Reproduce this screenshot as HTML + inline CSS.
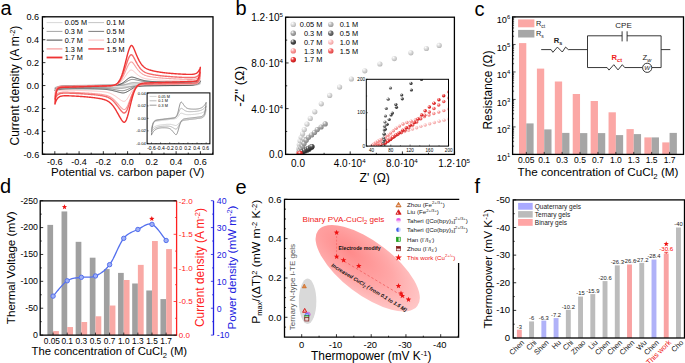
<!DOCTYPE html>
<html><head><meta charset="utf-8"><style>
html,body{margin:0;padding:0;background:#fff;overflow:hidden;}
svg{display:block;font-family:"Liberation Sans", sans-serif;}
</style></head><body>
<svg width="685" height="363" viewBox="0 0 685 363">
<defs><radialGradient id="sb0" cx="0.38" cy="0.35" r="0.65" fx="0.32" fy="0.28"><stop offset="0" stop-color="#fff"/><stop offset="0.45" stop-color="#dedede"/><stop offset="1" stop-color="#b8b8b8"/></radialGradient><radialGradient id="sb1" cx="0.38" cy="0.35" r="0.65" fx="0.32" fy="0.28"><stop offset="0" stop-color="#fff"/><stop offset="0.45" stop-color="#c4c4c4"/><stop offset="1" stop-color="#9a9a9a"/></radialGradient><radialGradient id="sb2" cx="0.38" cy="0.35" r="0.65" fx="0.32" fy="0.28"><stop offset="0" stop-color="#fff"/><stop offset="0.45" stop-color="#ababab"/><stop offset="1" stop-color="#858585"/></radialGradient><radialGradient id="sb3" cx="0.38" cy="0.35" r="0.65" fx="0.32" fy="0.28"><stop offset="0" stop-color="#fff"/><stop offset="0.45" stop-color="#777777"/><stop offset="1" stop-color="#4a4a4a"/></radialGradient><radialGradient id="sb4" cx="0.38" cy="0.35" r="0.65" fx="0.32" fy="0.28"><stop offset="0" stop-color="#fff"/><stop offset="0.45" stop-color="#575757"/><stop offset="1" stop-color="#2a2a2a"/></radialGradient><radialGradient id="sb5" cx="0.38" cy="0.35" r="0.65" fx="0.32" fy="0.28"><stop offset="0" stop-color="#fff"/><stop offset="0.45" stop-color="#fcc8c8"/><stop offset="1" stop-color="#f0a0a0"/></radialGradient><radialGradient id="sb6" cx="0.38" cy="0.35" r="0.65" fx="0.32" fy="0.28"><stop offset="0" stop-color="#fff"/><stop offset="0.45" stop-color="#f9a4a4"/><stop offset="1" stop-color="#ee7777"/></radialGradient><radialGradient id="sb7" cx="0.38" cy="0.35" r="0.65" fx="0.32" fy="0.28"><stop offset="0" stop-color="#fff"/><stop offset="0.45" stop-color="#f77070"/><stop offset="1" stop-color="#dd4444"/></radialGradient><radialGradient id="sb8" cx="0.38" cy="0.35" r="0.65" fx="0.32" fy="0.28"><stop offset="0" stop-color="#fff"/><stop offset="0.45" stop-color="#ee3a3a"/><stop offset="1" stop-color="#c01818"/></radialGradient><radialGradient id="ell" cx="0.3" cy="0.45" r="0.75"><stop offset="0" stop-color="#ff8a8a"/><stop offset="0.55" stop-color="#ffa8a8"/><stop offset="1" stop-color="#ffcccc"/></radialGradient></defs>
<rect width="685" height="363" fill="#fff"/>
<text x="0.5" y="14.5" font-size="20" text-anchor="start" fill="#000" >a</text>
<text x="235.5" y="14.9" font-size="20" text-anchor="start" fill="#000" >b</text>
<text x="474.5" y="15.5" font-size="20" text-anchor="start" fill="#000" >c</text>
<text x="0" y="192.6" font-size="20" text-anchor="start" fill="#000" >d</text>
<text x="235.5" y="193.6" font-size="20" text-anchor="start" fill="#000" >e</text>
<text x="474.5" y="192.8" font-size="20" text-anchor="start" fill="#000" >f</text>
<clipPath id="clipA"><rect x="42.2" y="16.8" width="171" height="137.5"/></clipPath>
<g clip-path="url(#clipA)">
<path d="M54.82,87.58 L55.43,87.32 L56.03,87.1 L56.64,86.93 L57.25,86.78 L57.85,86.66 L58.46,86.56 L59.07,86.48 L59.67,86.41 L60.28,86.36 L60.89,86.31 L61.49,86.27 L62.1,86.23 L62.7,86.21 L63.31,86.18 L63.92,86.16 L64.52,86.14 L65.13,86.13 L65.74,86.11 L66.34,86.1 L66.95,86.09 L67.56,86.08 L68.16,86.07 L68.77,86.06 L69.38,86.06 L69.98,86.05 L70.59,86.04 L71.2,86.04 L71.8,86.03 L72.41,86.02 L73.02,86.02 L73.62,86.01 L74.23,86.01 L74.83,86 L75.44,85.99 L76.05,85.99 L76.65,85.98 L77.26,85.98 L77.87,85.97 L78.47,85.97 L79.08,85.96 L79.69,85.96 L80.29,85.95 L80.9,85.95 L81.51,85.94 L82.11,85.94 L82.72,85.93 L83.33,85.93 L83.93,85.92 L84.54,85.92 L85.14,85.91 L85.75,85.91 L86.36,85.9 L86.96,85.9 L87.57,85.89 L88.18,85.89 L88.78,85.88 L89.39,85.87 L90,85.87 L90.6,85.86 L91.21,85.86 L91.82,85.85 L92.42,85.85 L93.03,85.84 L93.64,85.84 L94.24,85.83 L94.85,85.83 L95.46,85.82 L96.06,85.82 L96.67,85.81 L97.28,85.81 L97.88,85.8 L98.49,85.8 L99.09,85.79 L99.7,85.79 L100.31,85.78 L100.91,85.78 L101.52,85.77 L102.13,85.77 L102.73,85.76 L103.34,85.76 L103.95,85.75 L104.55,85.75 L105.16,85.74 L105.77,85.74 L106.37,85.73 L106.98,85.73 L107.59,85.72 L108.19,85.71 L108.8,85.71 L109.41,85.7 L110.01,85.7 L110.62,85.69 L111.22,85.69 L111.83,85.68 L112.44,85.68 L113.04,85.67 L113.65,85.67 L114.26,85.66 L114.86,85.65 L115.47,85.65 L116.08,85.64 L116.68,85.63 L117.29,85.62 L117.9,85.61 L118.5,85.6 L119.11,85.59 L119.72,85.57 L120.32,85.55 L120.93,85.53 L121.53,85.5 L122.14,85.48 L122.75,85.44 L123.35,85.41 L123.96,85.37 L124.57,85.32 L125.17,85.27 L125.78,85.22 L126.39,85.16 L126.99,85.1 L127.6,85.04 L128.21,84.98 L128.81,84.92 L129.42,84.86 L130.03,84.8 L130.63,84.75 L131.24,84.71 L131.85,84.67 L132.45,84.64 L133.06,84.62 L133.66,84.61 L134.27,84.6 L134.88,84.61 L135.48,84.61 L136.09,84.62 L136.7,84.63 L137.3,84.65 L137.91,84.66 L138.52,84.67 L139.12,84.69 L139.73,84.7 L140.34,84.72 L140.94,84.74 L141.55,84.75 L142.16,84.77 L142.76,84.78 L143.37,84.79 L143.98,84.81 L144.58,84.82 L145.19,84.83 L145.79,84.84 L146.4,84.84 L147.01,84.85 L147.61,84.86 L148.22,84.86 L148.83,84.87 L149.43,84.87 L150.04,84.87 L150.65,84.88 L151.25,84.88 L151.86,84.88 L152.47,84.88 L153.07,84.88 L153.68,84.88 L154.29,84.88 L154.89,84.88 L155.5,84.87 L156.11,84.87 L156.71,84.87 L157.32,84.87 L157.92,84.87 L158.53,84.86 L159.14,84.86 L159.74,84.86 L160.35,84.86 L160.96,84.85 L161.56,84.85 L162.17,84.85 L162.78,84.84 L163.38,84.84 L163.99,84.84 L164.6,84.83 L165.2,84.83 L165.81,84.83 L166.42,84.82 L167.02,84.82 L167.63,84.82 L168.24,84.81 L168.84,84.81 L169.45,84.8 L170.06,84.8 L170.66,84.79 L171.27,84.79 L171.87,84.79 L172.48,84.78 L173.09,84.78 L173.69,84.77 L174.3,84.76 L174.91,84.76 L175.51,84.75 L176.12,84.75 L176.73,84.74 L177.33,84.73 L177.94,84.73 L178.55,84.72 L179.15,84.71 L179.76,84.7 L180.37,84.7 L180.97,84.69 L181.58,84.68 L182.19,84.67 L182.79,84.66 L183.4,84.65 L184,84.64 L184.61,84.63 L185.22,84.62 L185.82,84.6 L186.43,84.59 L187.04,84.58 L187.64,84.56 L188.25,84.55 L188.86,84.53 L189.46,84.52 L190.07,84.5 L190.68,84.48 L191.28,84.46 L191.89,84.44 L192.5,84.41 L193.1,84.39 L193.71,84.37 L194.31,84.34 L194.92,84.31 L195.53,84.28 L196.13,84.25 L196.74,84.21 L197.35,84.17 L197.95,84.13 L198.56,84.09 L199.17,84.05 L199.77,84 L200.38,83.95 L200.38,83.95 L199.77,84.21 L199.17,84.43 L198.56,84.61 L197.95,84.76 L197.35,84.88 L196.74,84.99 L196.13,85.07 L195.53,85.14 L194.92,85.2 L194.31,85.25 L193.71,85.29 L193.1,85.32 L192.5,85.35 L191.89,85.37 L191.28,85.4 L190.68,85.41 L190.07,85.43 L189.46,85.44 L188.86,85.46 L188.25,85.47 L187.64,85.48 L187.04,85.49 L186.43,85.49 L185.82,85.5 L185.22,85.51 L184.61,85.52 L184,85.52 L183.4,85.53 L182.79,85.53 L182.19,85.54 L181.58,85.55 L180.97,85.55 L180.37,85.56 L179.76,85.56 L179.15,85.57 L178.55,85.57 L177.94,85.58 L177.33,85.58 L176.73,85.59 L176.12,85.6 L175.51,85.6 L174.91,85.61 L174.3,85.61 L173.69,85.62 L173.09,85.62 L172.48,85.63 L171.87,85.63 L171.27,85.64 L170.66,85.64 L170.06,85.65 L169.45,85.65 L168.84,85.66 L168.24,85.66 L167.63,85.67 L167.02,85.67 L166.42,85.68 L165.81,85.68 L165.2,85.69 L164.6,85.69 L163.99,85.7 L163.38,85.7 L162.78,85.71 L162.17,85.71 L161.56,85.72 L160.96,85.72 L160.35,85.73 L159.74,85.74 L159.14,85.74 L158.53,85.75 L157.92,85.75 L157.32,85.76 L156.71,85.76 L156.11,85.77 L155.5,85.77 L154.89,85.78 L154.29,85.78 L153.68,85.79 L153.07,85.79 L152.47,85.8 L151.86,85.8 L151.25,85.81 L150.65,85.81 L150.04,85.82 L149.43,85.82 L148.83,85.83 L148.22,85.83 L147.61,85.84 L147.01,85.84 L146.4,85.85 L145.79,85.85 L145.19,85.86 L144.58,85.87 L143.98,85.87 L143.37,85.88 L142.76,85.88 L142.16,85.89 L141.55,85.9 L140.94,85.91 L140.34,85.91 L139.73,85.92 L139.12,85.93 L138.52,85.94 L137.91,85.95 L137.3,85.97 L136.7,85.98 L136.09,86 L135.48,86.02 L134.88,86.04 L134.27,86.06 L133.66,86.09 L133.06,86.11 L132.45,86.14 L131.85,86.18 L131.24,86.21 L130.63,86.25 L130.03,86.29 L129.42,86.33 L128.81,86.38 L128.21,86.42 L127.6,86.47 L126.99,86.51 L126.39,86.56 L125.78,86.6 L125.17,86.65 L124.57,86.69 L123.96,86.73 L123.35,86.76 L122.75,86.79 L122.14,86.81 L121.53,86.83 L120.93,86.85 L120.32,86.85 L119.72,86.86 L119.11,86.86 L118.5,86.85 L117.9,86.84 L117.29,86.84 L116.68,86.83 L116.08,86.82 L115.47,86.81 L114.86,86.8 L114.26,86.78 L113.65,86.77 L113.04,86.76 L112.44,86.75 L111.83,86.74 L111.22,86.73 L110.62,86.72 L110.01,86.71 L109.41,86.7 L108.8,86.69 L108.19,86.68 L107.59,86.67 L106.98,86.67 L106.37,86.66 L105.77,86.66 L105.16,86.65 L104.55,86.65 L103.95,86.65 L103.34,86.64 L102.73,86.64 L102.13,86.64 L101.52,86.64 L100.91,86.64 L100.31,86.64 L99.7,86.64 L99.09,86.64 L98.49,86.64 L97.88,86.65 L97.28,86.65 L96.67,86.65 L96.06,86.65 L95.46,86.65 L94.85,86.66 L94.24,86.66 L93.64,86.66 L93.03,86.67 L92.42,86.67 L91.82,86.67 L91.21,86.68 L90.6,86.68 L90,86.68 L89.39,86.69 L88.78,86.69 L88.18,86.69 L87.57,86.7 L86.96,86.7 L86.36,86.71 L85.75,86.71 L85.14,86.72 L84.54,86.72 L83.93,86.73 L83.33,86.73 L82.72,86.74 L82.11,86.74 L81.51,86.75 L80.9,86.75 L80.29,86.76 L79.69,86.76 L79.08,86.77 L78.47,86.78 L77.87,86.78 L77.26,86.79 L76.65,86.8 L76.05,86.81 L75.44,86.81 L74.83,86.82 L74.23,86.83 L73.62,86.84 L73.02,86.85 L72.41,86.86 L71.8,86.87 L71.2,86.88 L70.59,86.89 L69.98,86.9 L69.38,86.92 L68.77,86.93 L68.16,86.94 L67.56,86.96 L66.95,86.97 L66.34,86.99 L65.74,87.01 L65.13,87.02 L64.52,87.04 L63.92,87.06 L63.31,87.08 L62.7,87.11 L62.1,87.13 L61.49,87.16 L60.89,87.18 L60.28,87.21 L59.67,87.24 L59.07,87.28 L58.46,87.31 L57.85,87.35 L57.25,87.39 L56.64,87.43 L56.03,87.48 L55.43,87.52 L54.82,87.58" fill="none" stroke="#d4d4d4" stroke-width="0.9" stroke-linejoin="round" />
<path d="M54.82,88.03 L55.43,87.65 L56.03,87.33 L56.64,87.07 L57.25,86.86 L57.85,86.68 L58.46,86.54 L59.07,86.42 L59.67,86.32 L60.28,86.24 L60.89,86.17 L61.49,86.11 L62.1,86.07 L62.7,86.03 L63.31,85.99 L63.92,85.97 L64.52,85.94 L65.13,85.92 L65.74,85.9 L66.34,85.89 L66.95,85.87 L67.56,85.86 L68.16,85.85 L68.77,85.84 L69.38,85.83 L69.98,85.82 L70.59,85.82 L71.2,85.81 L71.8,85.8 L72.41,85.8 L73.02,85.79 L73.62,85.78 L74.23,85.78 L74.83,85.77 L75.44,85.77 L76.05,85.76 L76.65,85.76 L77.26,85.75 L77.87,85.74 L78.47,85.74 L79.08,85.73 L79.69,85.73 L80.29,85.72 L80.9,85.72 L81.51,85.71 L82.11,85.71 L82.72,85.7 L83.33,85.7 L83.93,85.69 L84.54,85.69 L85.14,85.68 L85.75,85.68 L86.36,85.67 L86.96,85.67 L87.57,85.66 L88.18,85.66 L88.78,85.65 L89.39,85.65 L90,85.64 L90.6,85.64 L91.21,85.63 L91.82,85.63 L92.42,85.62 L93.03,85.61 L93.64,85.61 L94.24,85.6 L94.85,85.6 L95.46,85.59 L96.06,85.59 L96.67,85.58 L97.28,85.58 L97.88,85.57 L98.49,85.57 L99.09,85.56 L99.7,85.56 L100.31,85.55 L100.91,85.55 L101.52,85.54 L102.13,85.54 L102.73,85.53 L103.34,85.53 L103.95,85.52 L104.55,85.52 L105.16,85.51 L105.77,85.51 L106.37,85.5 L106.98,85.5 L107.59,85.49 L108.19,85.49 L108.8,85.48 L109.41,85.48 L110.01,85.47 L110.62,85.46 L111.22,85.46 L111.83,85.45 L112.44,85.45 L113.04,85.44 L113.65,85.44 L114.26,85.43 L114.86,85.42 L115.47,85.41 L116.08,85.4 L116.68,85.39 L117.29,85.38 L117.9,85.37 L118.5,85.35 L119.11,85.33 L119.72,85.31 L120.32,85.28 L120.93,85.24 L121.53,85.2 L122.14,85.16 L122.75,85.1 L123.35,85.04 L123.96,84.98 L124.57,84.9 L125.17,84.82 L125.78,84.73 L126.39,84.63 L126.99,84.53 L127.6,84.43 L128.21,84.32 L128.81,84.22 L129.42,84.12 L130.03,84.03 L130.63,83.94 L131.24,83.87 L131.85,83.81 L132.45,83.76 L133.06,83.73 L133.66,83.71 L134.27,83.71 L134.88,83.71 L135.48,83.73 L136.09,83.75 L136.7,83.77 L137.3,83.8 L137.91,83.83 L138.52,83.86 L139.12,83.89 L139.73,83.92 L140.34,83.95 L140.94,83.98 L141.55,84.01 L142.16,84.04 L142.76,84.07 L143.37,84.1 L143.98,84.12 L144.58,84.15 L145.19,84.17 L145.79,84.19 L146.4,84.21 L147.01,84.22 L147.61,84.24 L148.22,84.25 L148.83,84.26 L149.43,84.27 L150.04,84.28 L150.65,84.29 L151.25,84.3 L151.86,84.3 L152.47,84.31 L153.07,84.31 L153.68,84.31 L154.29,84.31 L154.89,84.32 L155.5,84.32 L156.11,84.32 L156.71,84.32 L157.32,84.32 L157.92,84.32 L158.53,84.32 L159.14,84.32 L159.74,84.32 L160.35,84.32 L160.96,84.32 L161.56,84.32 L162.17,84.32 L162.78,84.31 L163.38,84.31 L163.99,84.31 L164.6,84.31 L165.2,84.31 L165.81,84.31 L166.42,84.3 L167.02,84.3 L167.63,84.3 L168.24,84.3 L168.84,84.29 L169.45,84.29 L170.06,84.29 L170.66,84.28 L171.27,84.28 L171.87,84.27 L172.48,84.27 L173.09,84.27 L173.69,84.26 L174.3,84.26 L174.91,84.25 L175.51,84.25 L176.12,84.24 L176.73,84.23 L177.33,84.23 L177.94,84.22 L178.55,84.21 L179.15,84.21 L179.76,84.2 L180.37,84.19 L180.97,84.18 L181.58,84.17 L182.19,84.16 L182.79,84.15 L183.4,84.14 L184,84.13 L184.61,84.12 L185.22,84.1 L185.82,84.09 L186.43,84.07 L187.04,84.06 L187.64,84.04 L188.25,84.02 L188.86,84 L189.46,83.98 L190.07,83.96 L190.68,83.94 L191.28,83.92 L191.89,83.89 L192.5,83.86 L193.1,83.83 L193.71,83.8 L194.31,83.77 L194.92,83.73 L195.53,83.69 L196.13,83.65 L196.74,83.6 L197.35,83.56 L197.95,83.51 L198.56,83.45 L199.17,83.39 L199.77,83.33 L200.38,83.27 L200.38,83.27 L199.77,83.66 L199.17,83.98 L198.56,84.24 L197.95,84.46 L197.35,84.63 L196.74,84.78 L196.13,84.9 L195.53,85 L194.92,85.08 L194.31,85.15 L193.71,85.21 L193.1,85.26 L192.5,85.3 L191.89,85.33 L191.28,85.36 L190.68,85.39 L190.07,85.41 L189.46,85.42 L188.86,85.44 L188.25,85.45 L187.64,85.47 L187.04,85.48 L186.43,85.49 L185.82,85.5 L185.22,85.5 L184.61,85.51 L184,85.52 L183.4,85.53 L182.79,85.53 L182.19,85.54 L181.58,85.55 L180.97,85.55 L180.37,85.56 L179.76,85.56 L179.15,85.57 L178.55,85.57 L177.94,85.58 L177.33,85.58 L176.73,85.59 L176.12,85.6 L175.51,85.6 L174.91,85.61 L174.3,85.61 L173.69,85.62 L173.09,85.62 L172.48,85.63 L171.87,85.63 L171.27,85.64 L170.66,85.64 L170.06,85.65 L169.45,85.65 L168.84,85.66 L168.24,85.66 L167.63,85.67 L167.02,85.67 L166.42,85.68 L165.81,85.68 L165.2,85.69 L164.6,85.69 L163.99,85.7 L163.38,85.7 L162.78,85.71 L162.17,85.71 L161.56,85.72 L160.96,85.72 L160.35,85.73 L159.74,85.74 L159.14,85.74 L158.53,85.75 L157.92,85.75 L157.32,85.76 L156.71,85.76 L156.11,85.77 L155.5,85.77 L154.89,85.78 L154.29,85.78 L153.68,85.79 L153.07,85.79 L152.47,85.8 L151.86,85.8 L151.25,85.81 L150.65,85.81 L150.04,85.82 L149.43,85.82 L148.83,85.83 L148.22,85.83 L147.61,85.84 L147.01,85.84 L146.4,85.85 L145.79,85.86 L145.19,85.86 L144.58,85.87 L143.98,85.87 L143.37,85.88 L142.76,85.89 L142.16,85.9 L141.55,85.9 L140.94,85.91 L140.34,85.92 L139.73,85.94 L139.12,85.95 L138.52,85.97 L137.91,85.98 L137.3,86 L136.7,86.03 L136.09,86.05 L135.48,86.08 L134.88,86.12 L134.27,86.15 L133.66,86.2 L133.06,86.24 L132.45,86.29 L131.85,86.35 L131.24,86.41 L130.63,86.48 L130.03,86.55 L129.42,86.62 L128.81,86.7 L128.21,86.78 L127.6,86.86 L126.99,86.94 L126.39,87.02 L125.78,87.1 L125.17,87.18 L124.57,87.25 L123.96,87.31 L123.35,87.37 L122.75,87.42 L122.14,87.46 L121.53,87.49 L120.93,87.51 L120.32,87.52 L119.72,87.53 L119.11,87.52 L118.5,87.51 L117.9,87.49 L117.29,87.47 L116.68,87.45 L116.08,87.43 L115.47,87.4 L114.86,87.38 L114.26,87.35 L113.65,87.33 L113.04,87.3 L112.44,87.28 L111.83,87.25 L111.22,87.23 L110.62,87.2 L110.01,87.18 L109.41,87.16 L108.8,87.14 L108.19,87.12 L107.59,87.1 L106.98,87.08 L106.37,87.07 L105.77,87.05 L105.16,87.04 L104.55,87.03 L103.95,87.02 L103.34,87.01 L102.73,87 L102.13,87 L101.52,86.99 L100.91,86.99 L100.31,86.98 L99.7,86.98 L99.09,86.98 L98.49,86.97 L97.88,86.97 L97.28,86.97 L96.67,86.97 L96.06,86.97 L95.46,86.97 L94.85,86.97 L94.24,86.97 L93.64,86.97 L93.03,86.97 L92.42,86.97 L91.82,86.98 L91.21,86.98 L90.6,86.98 L90,86.98 L89.39,86.98 L88.78,86.99 L88.18,86.99 L87.57,86.99 L86.96,86.99 L86.36,87 L85.75,87 L85.14,87 L84.54,87.01 L83.93,87.01 L83.33,87.02 L82.72,87.02 L82.11,87.02 L81.51,87.03 L80.9,87.03 L80.29,87.04 L79.69,87.04 L79.08,87.05 L78.47,87.06 L77.87,87.06 L77.26,87.07 L76.65,87.08 L76.05,87.08 L75.44,87.09 L74.83,87.1 L74.23,87.11 L73.62,87.12 L73.02,87.13 L72.41,87.14 L71.8,87.15 L71.2,87.16 L70.59,87.18 L69.98,87.19 L69.38,87.2 L68.77,87.22 L68.16,87.23 L67.56,87.25 L66.95,87.27 L66.34,87.29 L65.74,87.31 L65.13,87.33 L64.52,87.35 L63.92,87.38 L63.31,87.41 L62.7,87.43 L62.1,87.46 L61.49,87.49 L60.89,87.53 L60.28,87.57 L59.67,87.6 L59.07,87.65 L58.46,87.69 L57.85,87.74 L57.25,87.79 L56.64,87.84 L56.03,87.9 L55.43,87.96 L54.82,88.03" fill="none" stroke="#bdbdbd" stroke-width="0.9" stroke-linejoin="round" />
<path d="M54.82,88.63 L55.43,88.14 L56.03,87.75 L56.64,87.42 L57.25,87.16 L57.85,86.94 L58.46,86.76 L59.07,86.61 L59.67,86.48 L60.28,86.38 L60.89,86.3 L61.49,86.23 L62.1,86.17 L62.7,86.12 L63.31,86.08 L63.92,86.05 L64.52,86.02 L65.13,86 L65.74,85.98 L66.34,85.96 L66.95,85.94 L67.56,85.93 L68.16,85.92 L68.77,85.91 L69.38,85.9 L69.98,85.89 L70.59,85.88 L71.2,85.87 L71.8,85.86 L72.41,85.86 L73.02,85.85 L73.62,85.84 L74.23,85.84 L74.83,85.83 L75.44,85.83 L76.05,85.82 L76.65,85.82 L77.26,85.81 L77.87,85.81 L78.47,85.8 L79.08,85.8 L79.69,85.79 L80.29,85.79 L80.9,85.78 L81.51,85.78 L82.11,85.77 L82.72,85.77 L83.33,85.76 L83.93,85.76 L84.54,85.75 L85.14,85.75 L85.75,85.74 L86.36,85.74 L86.96,85.73 L87.57,85.73 L88.18,85.72 L88.78,85.72 L89.39,85.71 L90,85.71 L90.6,85.7 L91.21,85.7 L91.82,85.69 L92.42,85.69 L93.03,85.68 L93.64,85.68 L94.24,85.67 L94.85,85.67 L95.46,85.66 L96.06,85.66 L96.67,85.65 L97.28,85.65 L97.88,85.64 L98.49,85.64 L99.09,85.63 L99.7,85.63 L100.31,85.62 L100.91,85.62 L101.52,85.61 L102.13,85.61 L102.73,85.6 L103.34,85.6 L103.95,85.59 L104.55,85.59 L105.16,85.58 L105.77,85.58 L106.37,85.57 L106.98,85.57 L107.59,85.56 L108.19,85.56 L108.8,85.55 L109.41,85.55 L110.01,85.54 L110.62,85.54 L111.22,85.53 L111.83,85.53 L112.44,85.52 L113.04,85.51 L113.65,85.51 L114.26,85.5 L114.86,85.49 L115.47,85.48 L116.08,85.47 L116.68,85.45 L117.29,85.44 L117.9,85.41 L118.5,85.39 L119.11,85.36 L119.72,85.32 L120.32,85.27 L120.93,85.21 L121.53,85.15 L122.14,85.07 L122.75,84.98 L123.35,84.88 L123.96,84.76 L124.57,84.63 L125.17,84.48 L125.78,84.33 L126.39,84.16 L126.99,83.99 L127.6,83.81 L128.21,83.63 L128.81,83.45 L129.42,83.27 L130.03,83.11 L130.63,82.96 L131.24,82.83 L131.85,82.73 L132.45,82.65 L133.06,82.6 L133.66,82.57 L134.27,82.57 L134.88,82.58 L135.48,82.61 L136.09,82.66 L136.7,82.7 L137.3,82.75 L137.91,82.81 L138.52,82.87 L139.12,82.92 L139.73,82.98 L140.34,83.04 L140.94,83.1 L141.55,83.16 L142.16,83.22 L142.76,83.27 L143.37,83.33 L143.98,83.38 L144.58,83.42 L145.19,83.47 L145.79,83.51 L146.4,83.55 L147.01,83.58 L147.61,83.61 L148.22,83.64 L148.83,83.66 L149.43,83.68 L150.04,83.7 L150.65,83.72 L151.25,83.74 L151.86,83.75 L152.47,83.76 L153.07,83.78 L153.68,83.79 L154.29,83.79 L154.89,83.8 L155.5,83.81 L156.11,83.82 L156.71,83.82 L157.32,83.83 L157.92,83.83 L158.53,83.84 L159.14,83.84 L159.74,83.84 L160.35,83.85 L160.96,83.85 L161.56,83.85 L162.17,83.85 L162.78,83.86 L163.38,83.86 L163.99,83.86 L164.6,83.86 L165.2,83.86 L165.81,83.86 L166.42,83.86 L167.02,83.86 L167.63,83.86 L168.24,83.86 L168.84,83.86 L169.45,83.86 L170.06,83.86 L170.66,83.86 L171.27,83.86 L171.87,83.86 L172.48,83.86 L173.09,83.85 L173.69,83.85 L174.3,83.85 L174.91,83.84 L175.51,83.84 L176.12,83.84 L176.73,83.83 L177.33,83.83 L177.94,83.82 L178.55,83.81 L179.15,83.81 L179.76,83.8 L180.37,83.79 L180.97,83.78 L181.58,83.77 L182.19,83.76 L182.79,83.75 L183.4,83.74 L184,83.73 L184.61,83.71 L185.22,83.7 L185.82,83.68 L186.43,83.66 L187.04,83.65 L187.64,83.63 L188.25,83.6 L188.86,83.58 L189.46,83.56 L190.07,83.53 L190.68,83.5 L191.28,83.47 L191.89,83.44 L192.5,83.4 L193.1,83.36 L193.71,83.32 L194.31,83.28 L194.92,83.23 L195.53,83.18 L196.13,83.13 L196.74,83.07 L197.35,83.01 L197.95,82.94 L198.56,82.87 L199.17,82.79 L199.77,82.71 L200.38,82.62 L200.38,82.62 L199.77,83.09 L199.17,83.47 L198.56,83.78 L197.95,84.04 L197.35,84.25 L196.74,84.42 L196.13,84.56 L195.53,84.68 L194.92,84.78 L194.31,84.86 L193.71,84.93 L193.1,84.98 L192.5,85.03 L191.89,85.07 L191.28,85.1 L190.68,85.13 L190.07,85.15 L189.46,85.17 L188.86,85.19 L188.25,85.21 L187.64,85.22 L187.04,85.23 L186.43,85.24 L185.82,85.25 L185.22,85.26 L184.61,85.27 L184,85.28 L183.4,85.28 L182.79,85.29 L182.19,85.3 L181.58,85.3 L180.97,85.31 L180.37,85.31 L179.76,85.32 L179.15,85.32 L178.55,85.33 L177.94,85.33 L177.33,85.34 L176.73,85.34 L176.12,85.35 L175.51,85.35 L174.91,85.36 L174.3,85.36 L173.69,85.37 L173.09,85.37 L172.48,85.38 L171.87,85.38 L171.27,85.39 L170.66,85.39 L170.06,85.4 L169.45,85.4 L168.84,85.41 L168.24,85.41 L167.63,85.42 L167.02,85.42 L166.42,85.43 L165.81,85.43 L165.2,85.44 L164.6,85.44 L163.99,85.45 L163.38,85.45 L162.78,85.46 L162.17,85.46 L161.56,85.47 L160.96,85.47 L160.35,85.48 L159.74,85.48 L159.14,85.49 L158.53,85.49 L157.92,85.5 L157.32,85.5 L156.71,85.51 L156.11,85.51 L155.5,85.52 L154.89,85.52 L154.29,85.53 L153.68,85.53 L153.07,85.54 L152.47,85.54 L151.86,85.55 L151.25,85.55 L150.65,85.56 L150.04,85.56 L149.43,85.57 L148.83,85.57 L148.22,85.58 L147.61,85.58 L147.01,85.59 L146.4,85.59 L145.79,85.6 L145.19,85.61 L144.58,85.61 L143.98,85.62 L143.37,85.63 L142.76,85.64 L142.16,85.65 L141.55,85.66 L140.94,85.67 L140.34,85.69 L139.73,85.71 L139.12,85.73 L138.52,85.75 L137.91,85.78 L137.3,85.81 L136.7,85.85 L136.09,85.9 L135.48,85.95 L134.88,86 L134.27,86.07 L133.66,86.15 L133.06,86.23 L132.45,86.32 L131.85,86.42 L131.24,86.53 L130.63,86.65 L130.03,86.78 L129.42,86.91 L128.81,87.05 L128.21,87.2 L127.6,87.35 L126.99,87.5 L126.39,87.64 L125.78,87.79 L125.17,87.93 L124.57,88.06 L123.96,88.18 L123.35,88.28 L122.75,88.37 L122.14,88.44 L121.53,88.5 L120.93,88.53 L120.32,88.55 L119.72,88.54 L119.11,88.52 L118.5,88.5 L117.9,88.46 L117.29,88.42 L116.68,88.37 L116.08,88.33 L115.47,88.28 L114.86,88.23 L114.26,88.17 L113.65,88.12 L113.04,88.07 L112.44,88.01 L111.83,87.96 L111.22,87.91 L110.62,87.86 L110.01,87.81 L109.41,87.76 L108.8,87.72 L108.19,87.68 L107.59,87.64 L106.98,87.6 L106.37,87.57 L105.77,87.54 L105.16,87.51 L104.55,87.49 L103.95,87.46 L103.34,87.44 L102.73,87.42 L102.13,87.4 L101.52,87.39 L100.91,87.37 L100.31,87.36 L99.7,87.35 L99.09,87.34 L98.49,87.33 L97.88,87.32 L97.28,87.32 L96.67,87.31 L96.06,87.31 L95.46,87.3 L94.85,87.3 L94.24,87.29 L93.64,87.29 L93.03,87.29 L92.42,87.28 L91.82,87.28 L91.21,87.28 L90.6,87.28 L90,87.28 L89.39,87.28 L88.78,87.27 L88.18,87.27 L87.57,87.27 L86.96,87.27 L86.36,87.27 L85.75,87.28 L85.14,87.28 L84.54,87.28 L83.93,87.28 L83.33,87.28 L82.72,87.28 L82.11,87.29 L81.51,87.29 L80.9,87.29 L80.29,87.3 L79.69,87.3 L79.08,87.31 L78.47,87.31 L77.87,87.32 L77.26,87.32 L76.65,87.33 L76.05,87.34 L75.44,87.35 L74.83,87.35 L74.23,87.36 L73.62,87.37 L73.02,87.39 L72.41,87.4 L71.8,87.41 L71.2,87.42 L70.59,87.44 L69.98,87.46 L69.38,87.47 L68.77,87.49 L68.16,87.51 L67.56,87.53 L66.95,87.56 L66.34,87.58 L65.74,87.61 L65.13,87.64 L64.52,87.67 L63.92,87.7 L63.31,87.74 L62.7,87.78 L62.1,87.82 L61.49,87.86 L60.89,87.91 L60.28,87.96 L59.67,88.02 L59.07,88.08 L58.46,88.14 L57.85,88.21 L57.25,88.28 L56.64,88.36 L56.03,88.44 L55.43,88.53 L54.82,88.63" fill="none" stroke="#9a9a9a" stroke-width="0.9" stroke-linejoin="round" />
<path d="M54.82,89.14 L55.43,88.5 L56.03,87.98 L56.64,87.55 L57.25,87.2 L57.85,86.91 L58.46,86.68 L59.07,86.48 L59.67,86.32 L60.28,86.19 L60.89,86.08 L61.49,85.99 L62.1,85.91 L62.7,85.85 L63.31,85.8 L63.92,85.75 L64.52,85.71 L65.13,85.68 L65.74,85.66 L66.34,85.63 L66.95,85.61 L67.56,85.6 L68.16,85.58 L68.77,85.57 L69.38,85.56 L69.98,85.54 L70.59,85.53 L71.2,85.53 L71.8,85.52 L72.41,85.51 L73.02,85.5 L73.62,85.49 L74.23,85.49 L74.83,85.48 L75.44,85.47 L76.05,85.47 L76.65,85.46 L77.26,85.45 L77.87,85.45 L78.47,85.44 L79.08,85.44 L79.69,85.43 L80.29,85.42 L80.9,85.42 L81.51,85.41 L82.11,85.41 L82.72,85.4 L83.33,85.4 L83.93,85.39 L84.54,85.38 L85.14,85.38 L85.75,85.37 L86.36,85.37 L86.96,85.36 L87.57,85.36 L88.18,85.35 L88.78,85.34 L89.39,85.34 L90,85.33 L90.6,85.33 L91.21,85.32 L91.82,85.32 L92.42,85.31 L93.03,85.3 L93.64,85.3 L94.24,85.29 L94.85,85.29 L95.46,85.28 L96.06,85.28 L96.67,85.27 L97.28,85.26 L97.88,85.26 L98.49,85.25 L99.09,85.25 L99.7,85.24 L100.31,85.23 L100.91,85.23 L101.52,85.22 L102.13,85.22 L102.73,85.21 L103.34,85.21 L103.95,85.2 L104.55,85.19 L105.16,85.19 L105.77,85.18 L106.37,85.18 L106.98,85.17 L107.59,85.17 L108.19,85.16 L108.8,85.15 L109.41,85.15 L110.01,85.14 L110.62,85.13 L111.22,85.13 L111.83,85.12 L112.44,85.11 L113.04,85.1 L113.65,85.08 L114.26,85.07 L114.86,85.04 L115.47,85.02 L116.08,84.99 L116.68,84.95 L117.29,84.9 L117.9,84.84 L118.5,84.77 L119.11,84.68 L119.72,84.57 L120.32,84.44 L120.93,84.29 L121.53,84.11 L122.14,83.91 L122.75,83.68 L123.35,83.42 L123.96,83.14 L124.57,82.83 L125.17,82.5 L125.78,82.16 L126.39,81.8 L126.99,81.44 L127.6,81.09 L128.21,80.75 L128.81,80.42 L129.42,80.13 L130.03,79.88 L130.63,79.68 L131.24,79.53 L131.85,79.43 L132.45,79.4 L133.06,79.41 L133.66,79.47 L134.27,79.55 L134.88,79.66 L135.48,79.77 L136.09,79.9 L136.7,80.03 L137.3,80.16 L137.91,80.3 L138.52,80.43 L139.12,80.57 L139.73,80.7 L140.34,80.83 L140.94,80.96 L141.55,81.08 L142.16,81.2 L142.76,81.31 L143.37,81.41 L143.98,81.51 L144.58,81.6 L145.19,81.68 L145.79,81.76 L146.4,81.83 L147.01,81.89 L147.61,81.95 L148.22,82 L148.83,82.05 L149.43,82.09 L150.04,82.13 L150.65,82.16 L151.25,82.19 L151.86,82.22 L152.47,82.24 L153.07,82.27 L153.68,82.29 L154.29,82.31 L154.89,82.33 L155.5,82.34 L156.11,82.36 L156.71,82.37 L157.32,82.39 L157.92,82.4 L158.53,82.41 L159.14,82.43 L159.74,82.44 L160.35,82.45 L160.96,82.46 L161.56,82.47 L162.17,82.48 L162.78,82.49 L163.38,82.49 L163.99,82.5 L164.6,82.51 L165.2,82.52 L165.81,82.52 L166.42,82.53 L167.02,82.54 L167.63,82.54 L168.24,82.55 L168.84,82.55 L169.45,82.56 L170.06,82.56 L170.66,82.57 L171.27,82.57 L171.87,82.57 L172.48,82.58 L173.09,82.58 L173.69,82.58 L174.3,82.58 L174.91,82.58 L175.51,82.58 L176.12,82.58 L176.73,82.58 L177.33,82.58 L177.94,82.58 L178.55,82.58 L179.15,82.57 L179.76,82.57 L180.37,82.57 L180.97,82.56 L181.58,82.56 L182.19,82.55 L182.79,82.54 L183.4,82.54 L184,82.53 L184.61,82.52 L185.22,82.51 L185.82,82.49 L186.43,82.48 L187.04,82.47 L187.64,82.45 L188.25,82.43 L188.86,82.42 L189.46,82.4 L190.07,82.37 L190.68,82.35 L191.28,82.32 L191.89,82.3 L192.5,82.27 L193.1,82.23 L193.71,82.2 L194.31,82.16 L194.92,82.12 L195.53,82.08 L196.13,82.03 L196.74,81.98 L197.35,81.92 L197.95,81.87 L198.56,81.8 L199.17,81.73 L199.77,81.66 L200.38,81.58 L200.38,81.58 L199.77,82.2 L199.17,82.71 L198.56,83.13 L197.95,83.47 L197.35,83.76 L196.74,83.99 L196.13,84.18 L195.53,84.34 L194.92,84.47 L194.31,84.57 L193.71,84.66 L193.1,84.74 L192.5,84.8 L191.89,84.85 L191.28,84.89 L190.68,84.93 L190.07,84.96 L189.46,84.99 L188.86,85.01 L188.25,85.03 L187.64,85.05 L187.04,85.06 L186.43,85.07 L185.82,85.09 L185.22,85.1 L184.61,85.11 L184,85.12 L183.4,85.12 L182.79,85.13 L182.19,85.14 L181.58,85.15 L180.97,85.15 L180.37,85.16 L179.76,85.17 L179.15,85.17 L178.55,85.18 L177.94,85.19 L177.33,85.19 L176.73,85.2 L176.12,85.21 L175.51,85.21 L174.91,85.22 L174.3,85.22 L173.69,85.23 L173.09,85.23 L172.48,85.24 L171.87,85.25 L171.27,85.25 L170.66,85.26 L170.06,85.26 L169.45,85.27 L168.84,85.27 L168.24,85.28 L167.63,85.29 L167.02,85.29 L166.42,85.3 L165.81,85.3 L165.2,85.31 L164.6,85.32 L163.99,85.32 L163.38,85.33 L162.78,85.33 L162.17,85.34 L161.56,85.34 L160.96,85.35 L160.35,85.36 L159.74,85.36 L159.14,85.37 L158.53,85.37 L157.92,85.38 L157.32,85.38 L156.71,85.39 L156.11,85.4 L155.5,85.4 L154.89,85.41 L154.29,85.41 L153.68,85.42 L153.07,85.42 L152.47,85.43 L151.86,85.44 L151.25,85.44 L150.65,85.45 L150.04,85.45 L149.43,85.46 L148.83,85.47 L148.22,85.47 L147.61,85.48 L147.01,85.49 L146.4,85.5 L145.79,85.51 L145.19,85.52 L144.58,85.53 L143.98,85.55 L143.37,85.57 L142.76,85.59 L142.16,85.61 L141.55,85.64 L140.94,85.68 L140.34,85.72 L139.73,85.77 L139.12,85.82 L138.52,85.89 L137.91,85.97 L137.3,86.06 L136.7,86.16 L136.09,86.28 L135.48,86.42 L134.88,86.57 L134.27,86.73 L133.66,86.92 L133.06,87.12 L132.45,87.33 L131.85,87.56 L131.24,87.81 L130.63,88.06 L130.03,88.32 L129.42,88.59 L128.81,88.86 L128.21,89.13 L127.6,89.39 L126.99,89.64 L126.39,89.88 L125.78,90.09 L125.17,90.28 L124.57,90.44 L123.96,90.57 L123.35,90.66 L122.75,90.71 L122.14,90.73 L121.53,90.7 L120.93,90.65 L120.32,90.58 L119.72,90.49 L119.11,90.39 L118.5,90.29 L117.9,90.19 L117.29,90.08 L116.68,89.97 L116.08,89.86 L115.47,89.75 L114.86,89.64 L114.26,89.53 L113.65,89.42 L113.04,89.31 L112.44,89.21 L111.83,89.12 L111.22,89.02 L110.62,88.93 L110.01,88.85 L109.41,88.77 L108.8,88.7 L108.19,88.63 L107.59,88.57 L106.98,88.51 L106.37,88.45 L105.77,88.4 L105.16,88.36 L104.55,88.32 L103.95,88.28 L103.34,88.25 L102.73,88.22 L102.13,88.19 L101.52,88.16 L100.91,88.14 L100.31,88.12 L99.7,88.1 L99.09,88.08 L98.49,88.07 L97.88,88.05 L97.28,88.04 L96.67,88.03 L96.06,88.01 L95.46,88 L94.85,87.99 L94.24,87.98 L93.64,87.97 L93.03,87.97 L92.42,87.96 L91.82,87.95 L91.21,87.94 L90.6,87.94 L90,87.93 L89.39,87.93 L88.78,87.92 L88.18,87.92 L87.57,87.91 L86.96,87.91 L86.36,87.9 L85.75,87.9 L85.14,87.9 L84.54,87.9 L83.93,87.89 L83.33,87.89 L82.72,87.89 L82.11,87.89 L81.51,87.89 L80.9,87.89 L80.29,87.89 L79.69,87.89 L79.08,87.89 L78.47,87.9 L77.87,87.9 L77.26,87.9 L76.65,87.91 L76.05,87.91 L75.44,87.92 L74.83,87.92 L74.23,87.93 L73.62,87.94 L73.02,87.95 L72.41,87.96 L71.8,87.97 L71.2,87.98 L70.59,87.99 L69.98,88.01 L69.38,88.02 L68.77,88.04 L68.16,88.06 L67.56,88.08 L66.95,88.1 L66.34,88.12 L65.74,88.15 L65.13,88.17 L64.52,88.2 L63.92,88.24 L63.31,88.27 L62.7,88.31 L62.1,88.35 L61.49,88.39 L60.89,88.44 L60.28,88.48 L59.67,88.54 L59.07,88.6 L58.46,88.66 L57.85,88.72 L57.25,88.79 L56.64,88.87 L56.03,88.95 L55.43,89.04 L54.82,89.14" fill="none" stroke="#6e6e6e" stroke-width="0.9" stroke-linejoin="round" />
<path d="M54.82,90.42 L55.43,89.6 L56.03,88.92 L56.64,88.37 L57.25,87.91 L57.85,87.54 L58.46,87.23 L59.07,86.98 L59.67,86.77 L60.28,86.6 L60.89,86.46 L61.49,86.34 L62.1,86.24 L62.7,86.16 L63.31,86.09 L63.92,86.04 L64.52,85.99 L65.13,85.95 L65.74,85.92 L66.34,85.89 L66.95,85.86 L67.56,85.84 L68.16,85.82 L68.77,85.8 L69.38,85.79 L69.98,85.78 L70.59,85.76 L71.2,85.75 L71.8,85.74 L72.41,85.73 L73.02,85.72 L73.62,85.71 L74.23,85.7 L74.83,85.7 L75.44,85.69 L76.05,85.68 L76.65,85.67 L77.26,85.67 L77.87,85.66 L78.47,85.65 L79.08,85.64 L79.69,85.64 L80.29,85.63 L80.9,85.62 L81.51,85.61 L82.11,85.61 L82.72,85.6 L83.33,85.59 L83.93,85.59 L84.54,85.58 L85.14,85.57 L85.75,85.57 L86.36,85.56 L86.96,85.55 L87.57,85.55 L88.18,85.54 L88.78,85.53 L89.39,85.52 L90,85.52 L90.6,85.51 L91.21,85.5 L91.82,85.5 L92.42,85.49 L93.03,85.48 L93.64,85.48 L94.24,85.47 L94.85,85.46 L95.46,85.46 L96.06,85.45 L96.67,85.44 L97.28,85.44 L97.88,85.43 L98.49,85.42 L99.09,85.41 L99.7,85.41 L100.31,85.4 L100.91,85.39 L101.52,85.39 L102.13,85.38 L102.73,85.37 L103.34,85.37 L103.95,85.36 L104.55,85.35 L105.16,85.35 L105.77,85.34 L106.37,85.33 L106.98,85.32 L107.59,85.32 L108.19,85.31 L108.8,85.3 L109.41,85.29 L110.01,85.28 L110.62,85.28 L111.22,85.26 L111.83,85.25 L112.44,85.24 L113.04,85.22 L113.65,85.2 L114.26,85.17 L114.86,85.13 L115.47,85.09 L116.08,85.03 L116.68,84.97 L117.29,84.88 L117.9,84.78 L118.5,84.65 L119.11,84.49 L119.72,84.31 L120.32,84.09 L120.93,83.84 L121.53,83.55 L122.14,83.22 L122.75,82.85 L123.35,82.44 L123.96,82 L124.57,81.53 L125.17,81.04 L125.78,80.52 L126.39,80.01 L126.99,79.5 L127.6,79.01 L128.21,78.55 L128.81,78.13 L129.42,77.77 L130.03,77.48 L130.63,77.27 L131.24,77.14 L131.85,77.1 L132.45,77.14 L133.06,77.24 L133.66,77.38 L134.27,77.55 L134.88,77.74 L135.48,77.94 L136.09,78.14 L136.7,78.35 L137.3,78.56 L137.91,78.76 L138.52,78.97 L139.12,79.17 L139.73,79.37 L140.34,79.55 L140.94,79.74 L141.55,79.91 L142.16,80.07 L142.76,80.23 L143.37,80.37 L143.98,80.51 L144.58,80.63 L145.19,80.74 L145.79,80.84 L146.4,80.94 L147.01,81.02 L147.61,81.1 L148.22,81.17 L148.83,81.23 L149.43,81.29 L150.04,81.34 L150.65,81.39 L151.25,81.43 L151.86,81.47 L152.47,81.5 L153.07,81.54 L153.68,81.57 L154.29,81.59 L154.89,81.62 L155.5,81.64 L156.11,81.67 L156.71,81.69 L157.32,81.71 L157.92,81.73 L158.53,81.75 L159.14,81.76 L159.74,81.78 L160.35,81.8 L160.96,81.81 L161.56,81.83 L162.17,81.84 L162.78,81.85 L163.38,81.87 L163.99,81.88 L164.6,81.89 L165.2,81.9 L165.81,81.91 L166.42,81.92 L167.02,81.93 L167.63,81.94 L168.24,81.95 L168.84,81.96 L169.45,81.96 L170.06,81.97 L170.66,81.98 L171.27,81.98 L171.87,81.99 L172.48,82 L173.09,82 L173.69,82 L174.3,82.01 L174.91,82.01 L175.51,82.01 L176.12,82.01 L176.73,82.01 L177.33,82.01 L177.94,82.01 L178.55,82.01 L179.15,82.01 L179.76,82.01 L180.37,82.01 L180.97,82 L181.58,82 L182.19,81.99 L182.79,81.98 L183.4,81.97 L184,81.96 L184.61,81.95 L185.22,81.94 L185.82,81.93 L186.43,81.91 L187.04,81.9 L187.64,81.88 L188.25,81.86 L188.86,81.84 L189.46,81.82 L190.07,81.79 L190.68,81.76 L191.28,81.74 L191.89,81.7 L192.5,81.67 L193.1,81.63 L193.71,81.59 L194.31,81.54 L194.92,81.5 L195.53,81.44 L196.13,81.39 L196.74,81.33 L197.35,81.26 L197.95,81.19 L198.56,81.12 L199.17,81.04 L199.77,80.95 L200.38,80.86 L200.38,80.86 L199.77,81.65 L199.17,82.3 L198.56,82.83 L197.95,83.27 L197.35,83.63 L196.74,83.92 L196.13,84.16 L195.53,84.37 L194.92,84.53 L194.31,84.67 L193.71,84.78 L193.1,84.87 L192.5,84.95 L191.89,85.02 L191.28,85.07 L190.68,85.12 L190.07,85.16 L189.46,85.19 L188.86,85.22 L188.25,85.24 L187.64,85.26 L187.04,85.28 L186.43,85.3 L185.82,85.31 L185.22,85.33 L184.61,85.34 L184,85.35 L183.4,85.36 L182.79,85.37 L182.19,85.38 L181.58,85.39 L180.97,85.4 L180.37,85.4 L179.76,85.41 L179.15,85.42 L178.55,85.43 L177.94,85.44 L177.33,85.44 L176.73,85.45 L176.12,85.46 L175.51,85.46 L174.91,85.47 L174.3,85.48 L173.69,85.49 L173.09,85.49 L172.48,85.5 L171.87,85.51 L171.27,85.51 L170.66,85.52 L170.06,85.53 L169.45,85.53 L168.84,85.54 L168.24,85.55 L167.63,85.55 L167.02,85.56 L166.42,85.57 L165.81,85.58 L165.2,85.58 L164.6,85.59 L163.99,85.6 L163.38,85.6 L162.78,85.61 L162.17,85.62 L161.56,85.62 L160.96,85.63 L160.35,85.64 L159.74,85.64 L159.14,85.65 L158.53,85.66 L157.92,85.66 L157.32,85.67 L156.71,85.68 L156.11,85.69 L155.5,85.69 L154.89,85.7 L154.29,85.71 L153.68,85.71 L153.07,85.72 L152.47,85.73 L151.86,85.73 L151.25,85.74 L150.65,85.75 L150.04,85.76 L149.43,85.77 L148.83,85.77 L148.22,85.78 L147.61,85.79 L147.01,85.81 L146.4,85.82 L145.79,85.83 L145.19,85.85 L144.58,85.87 L143.98,85.89 L143.37,85.92 L142.76,85.95 L142.16,85.99 L141.55,86.04 L140.94,86.1 L140.34,86.16 L139.73,86.24 L139.12,86.33 L138.52,86.44 L137.91,86.56 L137.3,86.71 L136.7,86.87 L136.09,87.05 L135.48,87.26 L134.88,87.48 L134.27,87.74 L133.66,88.01 L133.06,88.31 L132.45,88.62 L131.85,88.96 L131.24,89.31 L130.63,89.67 L130.03,90.04 L129.42,90.41 L128.81,90.78 L128.21,91.14 L127.6,91.48 L126.99,91.8 L126.39,92.1 L125.78,92.36 L125.17,92.58 L124.57,92.75 L123.96,92.87 L123.35,92.94 L122.75,92.94 L122.14,92.9 L121.53,92.81 L120.93,92.69 L120.32,92.55 L119.72,92.4 L119.11,92.25 L118.5,92.09 L117.9,91.93 L117.29,91.76 L116.68,91.6 L116.08,91.44 L115.47,91.28 L114.86,91.12 L114.26,90.97 L113.65,90.82 L113.04,90.68 L112.44,90.54 L111.83,90.4 L111.22,90.28 L110.62,90.16 L110.01,90.05 L109.41,89.94 L108.8,89.85 L108.19,89.76 L107.59,89.67 L106.98,89.6 L106.37,89.53 L105.77,89.46 L105.16,89.41 L104.55,89.35 L103.95,89.31 L103.34,89.26 L102.73,89.22 L102.13,89.19 L101.52,89.15 L100.91,89.12 L100.31,89.1 L99.7,89.07 L99.09,89.05 L98.49,89.03 L97.88,89.01 L97.28,88.99 L96.67,88.97 L96.06,88.96 L95.46,88.94 L94.85,88.93 L94.24,88.91 L93.64,88.9 L93.03,88.89 L92.42,88.88 L91.82,88.87 L91.21,88.86 L90.6,88.85 L90,88.84 L89.39,88.83 L88.78,88.83 L88.18,88.82 L87.57,88.81 L86.96,88.81 L86.36,88.8 L85.75,88.8 L85.14,88.79 L84.54,88.79 L83.93,88.79 L83.33,88.78 L82.72,88.78 L82.11,88.78 L81.51,88.78 L80.9,88.78 L80.29,88.78 L79.69,88.78 L79.08,88.78 L78.47,88.79 L77.87,88.79 L77.26,88.8 L76.65,88.8 L76.05,88.81 L75.44,88.81 L74.83,88.82 L74.23,88.83 L73.62,88.84 L73.02,88.85 L72.41,88.86 L71.8,88.88 L71.2,88.89 L70.59,88.91 L69.98,88.93 L69.38,88.95 L68.77,88.97 L68.16,89 L67.56,89.02 L66.95,89.05 L66.34,89.08 L65.74,89.11 L65.13,89.15 L64.52,89.19 L63.92,89.23 L63.31,89.27 L62.7,89.32 L62.1,89.38 L61.49,89.43 L60.89,89.49 L60.28,89.56 L59.67,89.63 L59.07,89.71 L58.46,89.79 L57.85,89.88 L57.25,89.97 L56.64,90.07 L56.03,90.18 L55.43,90.3 L54.82,90.42" fill="none" stroke="#4a4a4a" stroke-width="1" stroke-linejoin="round" />
<path d="M54.82,93.42 L55.43,90.51 L56.03,88.74 L56.64,87.66 L57.25,87.01 L57.85,86.61 L58.46,86.36 L59.07,86.21 L59.67,86.11 L60.28,86.05 L60.89,86.01 L61.49,85.98 L62.1,85.96 L62.7,85.95 L63.31,85.94 L63.92,85.93 L64.52,85.92 L65.13,85.91 L65.74,85.9 L66.34,85.89 L66.95,85.88 L67.56,85.88 L68.16,85.87 L68.77,85.86 L69.38,85.85 L69.98,85.84 L70.59,85.84 L71.2,85.83 L71.8,85.82 L72.41,85.81 L73.02,85.8 L73.62,85.8 L74.23,85.79 L74.83,85.78 L75.44,85.77 L76.05,85.77 L76.65,85.76 L77.26,85.75 L77.87,85.74 L78.47,85.73 L79.08,85.73 L79.69,85.72 L80.29,85.71 L80.9,85.7 L81.51,85.69 L82.11,85.69 L82.72,85.68 L83.33,85.67 L83.93,85.66 L84.54,85.66 L85.14,85.65 L85.75,85.64 L86.36,85.63 L86.96,85.62 L87.57,85.62 L88.18,85.61 L88.78,85.6 L89.39,85.59 L90,85.58 L90.6,85.58 L91.21,85.57 L91.82,85.56 L92.42,85.55 L93.03,85.55 L93.64,85.54 L94.24,85.53 L94.85,85.52 L95.46,85.51 L96.06,85.51 L96.67,85.5 L97.28,85.49 L97.88,85.48 L98.49,85.48 L99.09,85.47 L99.7,85.46 L100.31,85.45 L100.91,85.44 L101.52,85.44 L102.13,85.43 L102.73,85.42 L103.34,85.41 L103.95,85.4 L104.55,85.4 L105.16,85.39 L105.77,85.38 L106.37,85.37 L106.98,85.36 L107.59,85.35 L108.19,85.34 L108.8,85.33 L109.41,85.31 L110.01,85.29 L110.62,85.27 L111.22,85.25 L111.83,85.22 L112.44,85.18 L113.04,85.13 L113.65,85.07 L114.26,85 L114.86,84.9 L115.47,84.79 L116.08,84.64 L116.68,84.47 L117.29,84.26 L117.9,84 L118.5,83.7 L119.11,83.35 L119.72,82.94 L120.32,82.47 L120.93,81.93 L121.53,81.33 L122.14,80.66 L122.75,79.94 L123.35,79.15 L123.96,78.32 L124.57,77.44 L125.17,76.54 L125.78,75.62 L126.39,74.71 L126.99,73.82 L127.6,72.98 L128.21,72.19 L128.81,71.49 L129.42,70.9 L130.03,70.45 L130.63,70.16 L131.24,70.05 L131.85,70.13 L132.45,70.39 L133.06,70.79 L133.66,71.28 L134.27,71.83 L134.88,72.4 L135.48,72.96 L136.09,73.51 L136.7,74.05 L137.3,74.56 L137.91,75.05 L138.52,75.51 L139.12,75.95 L139.73,76.35 L140.34,76.71 L140.94,77.05 L141.55,77.35 L142.16,77.62 L142.76,77.87 L143.37,78.08 L143.98,78.27 L144.58,78.44 L145.19,78.59 L145.79,78.73 L146.4,78.85 L147.01,78.96 L147.61,79.05 L148.22,79.14 L148.83,79.23 L149.43,79.3 L150.04,79.37 L150.65,79.44 L151.25,79.5 L151.86,79.56 L152.47,79.62 L153.07,79.67 L153.68,79.72 L154.29,79.77 L154.89,79.82 L155.5,79.86 L156.11,79.91 L156.71,79.95 L157.32,79.99 L157.92,80.03 L158.53,80.06 L159.14,80.1 L159.74,80.14 L160.35,80.17 L160.96,80.2 L161.56,80.23 L162.17,80.26 L162.78,80.29 L163.38,80.32 L163.99,80.35 L164.6,80.38 L165.2,80.4 L165.81,80.43 L166.42,80.45 L167.02,80.48 L167.63,80.5 L168.24,80.52 L168.84,80.54 L169.45,80.57 L170.06,80.59 L170.66,80.61 L171.27,80.62 L171.87,80.64 L172.48,80.66 L173.09,80.68 L173.69,80.7 L174.3,80.71 L174.91,80.73 L175.51,80.74 L176.12,80.76 L176.73,80.78 L177.33,80.79 L177.94,80.8 L178.55,80.82 L179.15,80.83 L179.76,80.84 L180.37,80.86 L180.97,80.87 L181.58,80.88 L182.19,80.89 L182.79,80.9 L183.4,80.91 L184,80.92 L184.61,80.93 L185.22,80.94 L185.82,80.95 L186.43,80.96 L187.04,80.96 L187.64,80.97 L188.25,80.97 L188.86,80.98 L189.46,80.98 L190.07,80.98 L190.68,80.97 L191.28,80.96 L191.89,80.95 L192.5,80.94 L193.1,80.91 L193.71,80.88 L194.31,80.83 L194.92,80.77 L195.53,80.69 L196.13,80.59 L196.74,80.45 L197.35,80.28 L197.95,80.05 L198.56,79.75 L199.17,79.37 L199.77,78.89 L200.38,78.26 L200.38,78.26 L199.77,80.59 L199.17,82 L198.56,82.86 L197.95,83.39 L197.35,83.71 L196.74,83.91 L196.13,84.03 L195.53,84.11 L194.92,84.16 L194.31,84.2 L193.71,84.22 L193.1,84.24 L192.5,84.25 L191.89,84.26 L191.28,84.27 L190.68,84.28 L190.07,84.29 L189.46,84.3 L188.86,84.31 L188.25,84.31 L187.64,84.32 L187.04,84.33 L186.43,84.34 L185.82,84.35 L185.22,84.35 L184.61,84.36 L184,84.37 L183.4,84.38 L182.79,84.39 L182.19,84.39 L181.58,84.4 L180.97,84.41 L180.37,84.42 L179.76,84.42 L179.15,84.43 L178.55,84.44 L177.94,84.45 L177.33,84.46 L176.73,84.46 L176.12,84.47 L175.51,84.48 L174.91,84.49 L174.3,84.49 L173.69,84.5 L173.09,84.51 L172.48,84.52 L171.87,84.53 L171.27,84.53 L170.66,84.54 L170.06,84.55 L169.45,84.56 L168.84,84.57 L168.24,84.57 L167.63,84.58 L167.02,84.59 L166.42,84.6 L165.81,84.6 L165.2,84.61 L164.6,84.62 L163.99,84.63 L163.38,84.64 L162.78,84.64 L162.17,84.65 L161.56,84.66 L160.96,84.67 L160.35,84.68 L159.74,84.68 L159.14,84.69 L158.53,84.7 L157.92,84.71 L157.32,84.71 L156.71,84.72 L156.11,84.73 L155.5,84.74 L154.89,84.75 L154.29,84.75 L153.68,84.76 L153.07,84.77 L152.47,84.78 L151.86,84.79 L151.25,84.79 L150.65,84.8 L150.04,84.81 L149.43,84.82 L148.83,84.83 L148.22,84.83 L147.61,84.84 L147.01,84.85 L146.4,84.86 L145.79,84.87 L145.19,84.88 L144.58,84.9 L143.98,84.92 L143.37,84.94 L142.76,84.96 L142.16,85 L141.55,85.04 L140.94,85.1 L140.34,85.17 L139.73,85.27 L139.12,85.39 L138.52,85.54 L137.91,85.73 L137.3,85.96 L136.7,86.25 L136.09,86.59 L135.48,87.01 L134.88,87.49 L134.27,88.06 L133.66,88.71 L133.06,89.44 L132.45,90.26 L131.85,91.15 L131.24,92.11 L130.63,93.12 L130.03,94.17 L129.42,95.24 L128.81,96.3 L128.21,97.32 L127.6,98.28 L126.99,99.16 L126.39,99.91 L125.78,100.53 L125.17,100.98 L124.57,101.26 L123.96,101.37 L123.35,101.32 L122.75,101.15 L122.14,100.88 L121.53,100.54 L120.93,100.17 L120.32,99.76 L119.72,99.33 L119.11,98.89 L118.5,98.44 L117.9,97.99 L117.29,97.53 L116.68,97.08 L116.08,96.64 L115.47,96.21 L114.86,95.79 L114.26,95.39 L113.65,95.02 L113.04,94.66 L112.44,94.33 L111.83,94.02 L111.22,93.74 L110.62,93.48 L110.01,93.24 L109.41,93.03 L108.8,92.83 L108.19,92.66 L107.59,92.5 L106.98,92.36 L106.37,92.23 L105.77,92.12 L105.16,92.01 L104.55,91.92 L103.95,91.83 L103.34,91.76 L102.73,91.69 L102.13,91.62 L101.52,91.56 L100.91,91.51 L100.31,91.45 L99.7,91.4 L99.09,91.36 L98.49,91.31 L97.88,91.27 L97.28,91.23 L96.67,91.19 L96.06,91.15 L95.46,91.12 L94.85,91.08 L94.24,91.05 L93.64,91.02 L93.03,90.98 L92.42,90.95 L91.82,90.92 L91.21,90.89 L90.6,90.87 L90,90.84 L89.39,90.81 L88.78,90.78 L88.18,90.76 L87.57,90.73 L86.96,90.71 L86.36,90.68 L85.75,90.66 L85.14,90.64 L84.54,90.62 L83.93,90.6 L83.33,90.57 L82.72,90.55 L82.11,90.53 L81.51,90.51 L80.9,90.49 L80.29,90.48 L79.69,90.46 L79.08,90.44 L78.47,90.42 L77.87,90.41 L77.26,90.39 L76.65,90.37 L76.05,90.36 L75.44,90.34 L74.83,90.33 L74.23,90.31 L73.62,90.3 L73.02,90.28 L72.41,90.27 L71.8,90.26 L71.2,90.25 L70.59,90.23 L69.98,90.22 L69.38,90.21 L68.77,90.2 L68.16,90.19 L67.56,90.19 L66.95,90.18 L66.34,90.18 L65.74,90.17 L65.13,90.17 L64.52,90.18 L63.92,90.19 L63.31,90.2 L62.7,90.22 L62.1,90.25 L61.49,90.29 L60.89,90.34 L60.28,90.41 L59.67,90.51 L59.07,90.63 L58.46,90.79 L57.85,91 L57.25,91.27 L56.64,91.62 L56.03,92.08 L55.43,92.66 L54.82,93.42" fill="none" stroke="#fbc4c4" stroke-width="1" stroke-linejoin="round" />
<path d="M54.82,96.92 L55.43,92.8 L56.03,90.3 L56.64,88.77 L57.25,87.85 L57.85,87.28 L58.46,86.94 L59.07,86.72 L59.67,86.59 L60.28,86.51 L60.89,86.45 L61.49,86.41 L62.1,86.39 L62.7,86.37 L63.31,86.36 L63.92,86.34 L64.52,86.33 L65.13,86.32 L65.74,86.31 L66.34,86.3 L66.95,86.3 L67.56,86.29 L68.16,86.28 L68.77,86.27 L69.38,86.26 L69.98,86.25 L70.59,86.24 L71.2,86.23 L71.8,86.23 L72.41,86.22 L73.02,86.21 L73.62,86.2 L74.23,86.19 L74.83,86.18 L75.44,86.17 L76.05,86.17 L76.65,86.16 L77.26,86.15 L77.87,86.14 L78.47,86.13 L79.08,86.12 L79.69,86.11 L80.29,86.11 L80.9,86.1 L81.51,86.09 L82.11,86.08 L82.72,86.07 L83.33,86.06 L83.93,86.05 L84.54,86.05 L85.14,86.04 L85.75,86.03 L86.36,86.02 L86.96,86.01 L87.57,86 L88.18,85.99 L88.78,85.99 L89.39,85.98 L90,85.97 L90.6,85.96 L91.21,85.95 L91.82,85.94 L92.42,85.93 L93.03,85.93 L93.64,85.92 L94.24,85.91 L94.85,85.9 L95.46,85.89 L96.06,85.88 L96.67,85.87 L97.28,85.87 L97.88,85.86 L98.49,85.85 L99.09,85.84 L99.7,85.83 L100.31,85.82 L100.91,85.81 L101.52,85.8 L102.13,85.8 L102.73,85.79 L103.34,85.78 L103.95,85.77 L104.55,85.76 L105.16,85.75 L105.77,85.74 L106.37,85.73 L106.98,85.72 L107.59,85.71 L108.19,85.69 L108.8,85.68 L109.41,85.66 L110.01,85.64 L110.62,85.61 L111.22,85.57 L111.83,85.53 L112.44,85.47 L113.04,85.4 L113.65,85.31 L114.26,85.19 L114.86,85.05 L115.47,84.87 L116.08,84.65 L116.68,84.38 L117.29,84.06 L117.9,83.66 L118.5,83.2 L119.11,82.65 L119.72,82.01 L120.32,81.27 L120.93,80.44 L121.53,79.5 L122.14,78.47 L122.75,77.33 L123.35,76.11 L123.96,74.8 L124.57,73.44 L125.17,72.03 L125.78,70.6 L126.39,69.18 L126.99,67.8 L127.6,66.48 L128.21,65.25 L128.81,64.16 L129.42,63.25 L130.03,62.54 L130.63,62.08 L131.24,61.92 L131.85,62.05 L132.45,62.46 L133.06,63.09 L133.66,63.86 L134.27,64.72 L134.88,65.61 L135.48,66.5 L136.09,67.37 L136.7,68.21 L137.3,69.01 L137.91,69.78 L138.52,70.51 L139.12,71.19 L139.73,71.82 L140.34,72.4 L140.94,72.93 L141.55,73.4 L142.16,73.83 L142.76,74.21 L143.37,74.56 L143.98,74.86 L144.58,75.13 L145.19,75.37 L145.79,75.58 L146.4,75.77 L147.01,75.95 L147.61,76.1 L148.22,76.25 L148.83,76.38 L149.43,76.5 L150.04,76.61 L150.65,76.72 L151.25,76.82 L151.86,76.92 L152.47,77.01 L153.07,77.1 L153.68,77.18 L154.29,77.26 L154.89,77.34 L155.5,77.41 L156.11,77.49 L156.71,77.56 L157.32,77.62 L157.92,77.69 L158.53,77.75 L159.14,77.81 L159.74,77.87 L160.35,77.92 L160.96,77.98 L161.56,78.03 L162.17,78.08 L162.78,78.13 L163.38,78.18 L163.99,78.23 L164.6,78.28 L165.2,78.32 L165.81,78.36 L166.42,78.4 L167.02,78.45 L167.63,78.49 L168.24,78.52 L168.84,78.56 L169.45,78.6 L170.06,78.63 L170.66,78.67 L171.27,78.7 L171.87,78.74 L172.48,78.77 L173.09,78.8 L173.69,78.83 L174.3,78.86 L174.91,78.89 L175.51,78.92 L176.12,78.94 L176.73,78.97 L177.33,79 L177.94,79.02 L178.55,79.05 L179.15,79.07 L179.76,79.1 L180.37,79.12 L180.97,79.14 L181.58,79.16 L182.19,79.18 L182.79,79.2 L183.4,79.22 L184,79.24 L184.61,79.26 L185.22,79.28 L185.82,79.3 L186.43,79.31 L187.04,79.33 L187.64,79.34 L188.25,79.35 L188.86,79.36 L189.46,79.36 L190.07,79.36 L190.68,79.36 L191.28,79.35 L191.89,79.34 L192.5,79.31 L193.1,79.28 L193.71,79.23 L194.31,79.16 L194.92,79.06 L195.53,78.94 L196.13,78.78 L196.74,78.56 L197.35,78.28 L197.95,77.92 L198.56,77.46 L199.17,76.85 L199.77,76.08 L200.38,75.07 L200.38,75.07 L199.77,78.48 L199.17,80.55 L198.56,81.81 L197.95,82.58 L197.35,83.05 L196.74,83.34 L196.13,83.52 L195.53,83.63 L194.92,83.7 L194.31,83.74 L193.71,83.78 L193.1,83.8 L192.5,83.82 L191.89,83.83 L191.28,83.84 L190.68,83.85 L190.07,83.86 L189.46,83.87 L188.86,83.88 L188.25,83.89 L187.64,83.9 L187.04,83.91 L186.43,83.91 L185.82,83.92 L185.22,83.93 L184.61,83.94 L184,83.95 L183.4,83.96 L182.79,83.97 L182.19,83.97 L181.58,83.98 L180.97,83.99 L180.37,84 L179.76,84.01 L179.15,84.02 L178.55,84.03 L177.94,84.03 L177.33,84.04 L176.73,84.05 L176.12,84.06 L175.51,84.07 L174.91,84.08 L174.3,84.09 L173.69,84.09 L173.09,84.1 L172.48,84.11 L171.87,84.12 L171.27,84.13 L170.66,84.14 L170.06,84.15 L169.45,84.15 L168.84,84.16 L168.24,84.17 L167.63,84.18 L167.02,84.19 L166.42,84.2 L165.81,84.21 L165.2,84.22 L164.6,84.22 L163.99,84.23 L163.38,84.24 L162.78,84.25 L162.17,84.26 L161.56,84.27 L160.96,84.28 L160.35,84.28 L159.74,84.29 L159.14,84.3 L158.53,84.31 L157.92,84.32 L157.32,84.33 L156.71,84.34 L156.11,84.34 L155.5,84.35 L154.89,84.36 L154.29,84.37 L153.68,84.38 L153.07,84.39 L152.47,84.4 L151.86,84.4 L151.25,84.41 L150.65,84.42 L150.04,84.43 L149.43,84.44 L148.83,84.45 L148.22,84.46 L147.61,84.47 L147.01,84.48 L146.4,84.49 L145.79,84.51 L145.19,84.52 L144.58,84.55 L143.98,84.57 L143.37,84.61 L142.76,84.65 L142.16,84.71 L141.55,84.78 L140.94,84.88 L140.34,85 L139.73,85.16 L139.12,85.37 L138.52,85.63 L137.91,85.95 L137.3,86.35 L136.7,86.83 L136.09,87.42 L135.48,88.11 L134.88,88.92 L134.27,89.85 L133.66,90.91 L133.06,92.1 L132.45,93.41 L131.85,94.82 L131.24,96.33 L130.63,97.91 L130.03,99.52 L129.42,101.14 L128.81,102.73 L128.21,104.24 L127.6,105.63 L126.99,106.85 L126.39,107.88 L125.78,108.67 L125.17,109.2 L124.57,109.47 L123.96,109.48 L123.35,109.29 L122.75,108.94 L122.14,108.47 L121.53,107.92 L120.93,107.31 L120.32,106.67 L119.72,106 L119.11,105.32 L118.5,104.62 L117.9,103.92 L117.29,103.23 L116.68,102.54 L116.08,101.87 L115.47,101.23 L114.86,100.61 L114.26,100.02 L113.65,99.46 L113.04,98.93 L112.44,98.45 L111.83,98 L111.22,97.58 L110.62,97.2 L110.01,96.86 L109.41,96.55 L108.8,96.26 L108.19,96.01 L107.59,95.78 L106.98,95.57 L106.37,95.39 L105.77,95.22 L105.16,95.07 L104.55,94.93 L103.95,94.8 L103.34,94.69 L102.73,94.58 L102.13,94.49 L101.52,94.4 L100.91,94.31 L100.31,94.23 L99.7,94.15 L99.09,94.08 L98.49,94.01 L97.88,93.95 L97.28,93.88 L96.67,93.82 L96.06,93.76 L95.46,93.7 L94.85,93.65 L94.24,93.59 L93.64,93.54 L93.03,93.49 L92.42,93.44 L91.82,93.39 L91.21,93.35 L90.6,93.3 L90,93.25 L89.39,93.21 L88.78,93.17 L88.18,93.12 L87.57,93.08 L86.96,93.04 L86.36,93 L85.75,92.97 L85.14,92.93 L84.54,92.89 L83.93,92.86 L83.33,92.82 L82.72,92.79 L82.11,92.75 L81.51,92.72 L80.9,92.69 L80.29,92.66 L79.69,92.63 L79.08,92.6 L78.47,92.57 L77.87,92.54 L77.26,92.51 L76.65,92.48 L76.05,92.45 L75.44,92.43 L74.83,92.4 L74.23,92.38 L73.62,92.35 L73.02,92.33 L72.41,92.31 L71.8,92.28 L71.2,92.26 L70.59,92.24 L69.98,92.22 L69.38,92.2 L68.77,92.18 L68.16,92.17 L67.56,92.15 L66.95,92.14 L66.34,92.13 L65.74,92.12 L65.13,92.12 L64.52,92.12 L63.92,92.13 L63.31,92.15 L62.7,92.17 L62.1,92.21 L61.49,92.27 L60.89,92.34 L60.28,92.45 L59.67,92.59 L59.07,92.77 L58.46,93.01 L57.85,93.32 L57.25,93.72 L56.64,94.25 L56.03,94.92 L55.43,95.8 L54.82,96.92" fill="none" stroke="#f7a2a2" stroke-width="1.1" stroke-linejoin="round" />
<path d="M54.82,99.58 L55.43,94.59 L56.03,91.56 L56.64,89.71 L57.25,88.59 L57.85,87.91 L58.46,87.49 L59.07,87.23 L59.67,87.07 L60.28,86.96 L60.89,86.9 L61.49,86.85 L62.1,86.82 L62.7,86.8 L63.31,86.78 L63.92,86.76 L64.52,86.75 L65.13,86.73 L65.74,86.72 L66.34,86.71 L66.95,86.7 L67.56,86.68 L68.16,86.67 L68.77,86.66 L69.38,86.65 L69.98,86.64 L70.59,86.63 L71.2,86.62 L71.8,86.6 L72.41,86.59 L73.02,86.58 L73.62,86.57 L74.23,86.56 L74.83,86.55 L75.44,86.54 L76.05,86.52 L76.65,86.51 L77.26,86.5 L77.87,86.49 L78.47,86.48 L79.08,86.47 L79.69,86.46 L80.29,86.44 L80.9,86.43 L81.51,86.42 L82.11,86.41 L82.72,86.4 L83.33,86.39 L83.93,86.37 L84.54,86.36 L85.14,86.35 L85.75,86.34 L86.36,86.33 L86.96,86.32 L87.57,86.31 L88.18,86.29 L88.78,86.28 L89.39,86.27 L90,86.26 L90.6,86.25 L91.21,86.24 L91.82,86.23 L92.42,86.21 L93.03,86.2 L93.64,86.19 L94.24,86.18 L94.85,86.17 L95.46,86.16 L96.06,86.15 L96.67,86.13 L97.28,86.12 L97.88,86.11 L98.49,86.1 L99.09,86.09 L99.7,86.08 L100.31,86.07 L100.91,86.05 L101.52,86.04 L102.13,86.03 L102.73,86.02 L103.34,86.01 L103.95,86 L104.55,85.98 L105.16,85.97 L105.77,85.96 L106.37,85.94 L106.98,85.93 L107.59,85.91 L108.19,85.89 L108.8,85.87 L109.41,85.85 L110.01,85.82 L110.62,85.78 L111.22,85.73 L111.83,85.68 L112.44,85.6 L113.04,85.51 L113.65,85.39 L114.26,85.24 L114.86,85.05 L115.47,84.82 L116.08,84.53 L116.68,84.17 L117.29,83.74 L117.9,83.23 L118.5,82.61 L119.11,81.89 L119.72,81.06 L120.32,80.09 L120.93,79 L121.53,77.77 L122.14,76.41 L122.75,74.92 L123.35,73.32 L123.96,71.61 L124.57,69.82 L125.17,67.97 L125.78,66.1 L126.39,64.23 L126.99,62.42 L127.6,60.68 L128.21,59.08 L128.81,57.65 L129.42,56.45 L130.03,55.52 L130.63,54.92 L131.24,54.7 L131.85,54.88 L132.45,55.41 L133.06,56.24 L133.66,57.26 L134.27,58.38 L134.88,59.55 L135.48,60.71 L136.09,61.85 L136.7,62.95 L137.3,64.01 L137.91,65.02 L138.52,65.97 L139.12,66.86 L139.73,67.69 L140.34,68.45 L140.94,69.14 L141.55,69.76 L142.16,70.33 L142.76,70.83 L143.37,71.28 L143.98,71.67 L144.58,72.03 L145.19,72.34 L145.79,72.62 L146.4,72.87 L147.01,73.1 L147.61,73.3 L148.22,73.49 L148.83,73.66 L149.43,73.83 L150.04,73.97 L150.65,74.12 L151.25,74.25 L151.86,74.37 L152.47,74.49 L153.07,74.61 L153.68,74.72 L154.29,74.82 L154.89,74.92 L155.5,75.02 L156.11,75.12 L156.71,75.21 L157.32,75.29 L157.92,75.38 L158.53,75.46 L159.14,75.54 L159.74,75.62 L160.35,75.69 L160.96,75.76 L161.56,75.83 L162.17,75.9 L162.78,75.96 L163.38,76.03 L163.99,76.09 L164.6,76.15 L165.2,76.21 L165.81,76.26 L166.42,76.32 L167.02,76.37 L167.63,76.42 L168.24,76.47 L168.84,76.52 L169.45,76.57 L170.06,76.62 L170.66,76.66 L171.27,76.71 L171.87,76.75 L172.48,76.79 L173.09,76.83 L173.69,76.87 L174.3,76.91 L174.91,76.95 L175.51,76.99 L176.12,77.02 L176.73,77.06 L177.33,77.09 L177.94,77.12 L178.55,77.16 L179.15,77.19 L179.76,77.22 L180.37,77.25 L180.97,77.28 L181.58,77.31 L182.19,77.33 L182.79,77.36 L183.4,77.39 L184,77.41 L184.61,77.44 L185.22,77.46 L185.82,77.48 L186.43,77.5 L187.04,77.52 L187.64,77.54 L188.25,77.55 L188.86,77.56 L189.46,77.57 L190.07,77.57 L190.68,77.57 L191.28,77.56 L191.89,77.54 L192.5,77.51 L193.1,77.47 L193.71,77.4 L194.31,77.32 L194.92,77.2 L195.53,77.05 L196.13,76.84 L196.74,76.58 L197.35,76.23 L197.95,75.78 L198.56,75.2 L199.17,74.44 L199.77,73.47 L200.38,72.22 L200.38,72.22 L199.77,76.48 L199.17,79.08 L198.56,80.65 L197.95,81.61 L197.35,82.2 L196.74,82.56 L196.13,82.78 L195.53,82.92 L194.92,83.01 L194.31,83.07 L193.71,83.11 L193.1,83.14 L192.5,83.16 L191.89,83.18 L191.28,83.2 L190.68,83.21 L190.07,83.22 L189.46,83.23 L188.86,83.25 L188.25,83.26 L187.64,83.27 L187.04,83.28 L186.43,83.29 L185.82,83.3 L185.22,83.32 L184.61,83.33 L184,83.34 L183.4,83.35 L182.79,83.36 L182.19,83.37 L181.58,83.38 L180.97,83.4 L180.37,83.41 L179.76,83.42 L179.15,83.43 L178.55,83.44 L177.94,83.45 L177.33,83.46 L176.73,83.48 L176.12,83.49 L175.51,83.5 L174.91,83.51 L174.3,83.52 L173.69,83.53 L173.09,83.54 L172.48,83.56 L171.87,83.57 L171.27,83.58 L170.66,83.59 L170.06,83.6 L169.45,83.61 L168.84,83.63 L168.24,83.64 L167.63,83.65 L167.02,83.66 L166.42,83.67 L165.81,83.68 L165.2,83.69 L164.6,83.71 L163.99,83.72 L163.38,83.73 L162.78,83.74 L162.17,83.75 L161.56,83.76 L160.96,83.77 L160.35,83.79 L159.74,83.8 L159.14,83.81 L158.53,83.82 L157.92,83.83 L157.32,83.84 L156.71,83.85 L156.11,83.87 L155.5,83.88 L154.89,83.89 L154.29,83.9 L153.68,83.91 L153.07,83.92 L152.47,83.93 L151.86,83.95 L151.25,83.96 L150.65,83.97 L150.04,83.98 L149.43,83.99 L148.83,84.01 L148.22,84.02 L147.61,84.03 L147.01,84.05 L146.4,84.06 L145.79,84.08 L145.19,84.1 L144.58,84.13 L143.98,84.16 L143.37,84.2 L142.76,84.25 L142.16,84.32 L141.55,84.41 L140.94,84.52 L140.34,84.67 L139.73,84.85 L139.12,85.09 L138.52,85.39 L137.91,85.77 L137.3,86.23 L136.7,86.79 L136.09,87.47 L135.48,88.27 L134.88,89.21 L134.27,90.29 L133.66,91.52 L133.06,92.89 L132.45,94.4 L131.85,96.04 L131.24,97.79 L130.63,99.61 L130.03,101.48 L129.42,103.35 L128.81,105.19 L128.21,106.93 L127.6,108.54 L126.99,109.96 L126.39,111.15 L125.78,112.07 L125.17,112.68 L124.57,112.99 L123.96,113.02 L123.35,112.8 L122.75,112.39 L122.14,111.84 L121.53,111.21 L120.93,110.51 L120.32,109.77 L119.72,109 L119.11,108.21 L118.5,107.41 L117.9,106.6 L117.29,105.8 L116.68,105.01 L116.08,104.24 L115.47,103.49 L114.86,102.77 L114.26,102.09 L113.65,101.45 L113.04,100.84 L112.44,100.28 L111.83,99.76 L111.22,99.29 L110.62,98.85 L110.01,98.45 L109.41,98.09 L108.8,97.77 L108.19,97.47 L107.59,97.21 L106.98,96.97 L106.37,96.76 L105.77,96.57 L105.16,96.39 L104.55,96.24 L103.95,96.09 L103.34,95.96 L102.73,95.84 L102.13,95.73 L101.52,95.62 L100.91,95.53 L100.31,95.44 L99.7,95.35 L99.09,95.27 L98.49,95.19 L97.88,95.11 L97.28,95.04 L96.67,94.97 L96.06,94.91 L95.46,94.84 L94.85,94.78 L94.24,94.72 L93.64,94.66 L93.03,94.6 L92.42,94.54 L91.82,94.49 L91.21,94.44 L90.6,94.38 L90,94.33 L89.39,94.28 L88.78,94.24 L88.18,94.19 L87.57,94.14 L86.96,94.1 L86.36,94.05 L85.75,94.01 L85.14,93.97 L84.54,93.93 L83.93,93.89 L83.33,93.85 L82.72,93.81 L82.11,93.77 L81.51,93.74 L80.9,93.7 L80.29,93.67 L79.69,93.63 L79.08,93.6 L78.47,93.57 L77.87,93.54 L77.26,93.5 L76.65,93.47 L76.05,93.44 L75.44,93.42 L74.83,93.39 L74.23,93.36 L73.62,93.33 L73.02,93.31 L72.41,93.28 L71.8,93.26 L71.2,93.23 L70.59,93.21 L69.98,93.19 L69.38,93.17 L68.77,93.15 L68.16,93.13 L67.56,93.12 L66.95,93.11 L66.34,93.1 L65.74,93.1 L65.13,93.1 L64.52,93.1 L63.92,93.12 L63.31,93.15 L62.7,93.19 L62.1,93.24 L61.49,93.32 L60.89,93.43 L60.28,93.57 L59.67,93.76 L59.07,94.01 L58.46,94.33 L57.85,94.75 L57.25,95.29 L56.64,96 L56.03,96.9 L55.43,98.07 L54.82,99.58" fill="none" stroke="#f46c6c" stroke-width="1.4" stroke-linejoin="round" />
<path d="M54.82,104.49 L55.43,97.84 L56.03,93.8 L56.64,91.34 L57.25,89.84 L57.85,88.92 L58.46,88.36 L59.07,88.01 L59.67,87.79 L60.28,87.65 L60.89,87.55 L61.49,87.49 L62.1,87.44 L62.7,87.41 L63.31,87.38 L63.92,87.35 L64.52,87.33 L65.13,87.3 L65.74,87.28 L66.34,87.26 L66.95,87.24 L67.56,87.22 L68.16,87.2 L68.77,87.18 L69.38,87.16 L69.98,87.14 L70.59,87.12 L71.2,87.1 L71.8,87.08 L72.41,87.06 L73.02,87.04 L73.62,87.02 L74.23,87 L74.83,86.98 L75.44,86.96 L76.05,86.94 L76.65,86.92 L77.26,86.9 L77.87,86.88 L78.47,86.86 L79.08,86.84 L79.69,86.82 L80.29,86.8 L80.9,86.78 L81.51,86.76 L82.11,86.74 L82.72,86.72 L83.33,86.7 L83.93,86.68 L84.54,86.66 L85.14,86.64 L85.75,86.62 L86.36,86.6 L86.96,86.58 L87.57,86.56 L88.18,86.54 L88.78,86.52 L89.39,86.5 L90,86.48 L90.6,86.46 L91.21,86.44 L91.82,86.42 L92.42,86.4 L93.03,86.38 L93.64,86.36 L94.24,86.34 L94.85,86.32 L95.46,86.29 L96.06,86.27 L96.67,86.25 L97.28,86.23 L97.88,86.21 L98.49,86.19 L99.09,86.17 L99.7,86.15 L100.31,86.13 L100.91,86.11 L101.52,86.09 L102.13,86.07 L102.73,86.05 L103.34,86.03 L103.95,86.01 L104.55,85.99 L105.16,85.97 L105.77,85.95 L106.37,85.93 L106.98,85.9 L107.59,85.88 L108.19,85.85 L108.8,85.82 L109.41,85.78 L110.01,85.74 L110.62,85.69 L111.22,85.63 L111.83,85.56 L112.44,85.47 L113.04,85.35 L113.65,85.21 L114.26,85.03 L114.86,84.81 L115.47,84.53 L116.08,84.18 L116.68,83.76 L117.29,83.24 L117.9,82.63 L118.5,81.89 L119.11,81.02 L119.72,80 L120.32,78.83 L120.93,77.49 L121.53,75.98 L122.14,74.3 L122.75,72.45 L123.35,70.44 L123.96,68.29 L124.57,66.02 L125.17,63.66 L125.78,61.26 L126.39,58.84 L126.99,56.46 L127.6,54.17 L128.21,52.02 L128.81,50.08 L129.42,48.39 L130.03,47.03 L130.63,46.07 L131.24,45.57 L131.85,45.57 L132.45,46.06 L133.06,46.96 L133.66,48.16 L134.27,49.55 L134.88,51.03 L135.48,52.52 L136.09,54 L136.7,55.43 L137.3,56.81 L137.91,58.14 L138.52,59.39 L139.12,60.57 L139.73,61.66 L140.34,62.67 L140.94,63.59 L141.55,64.43 L142.16,65.19 L142.76,65.86 L143.37,66.46 L143.98,67 L144.58,67.47 L145.19,67.89 L145.79,68.26 L146.4,68.6 L147.01,68.9 L147.61,69.17 L148.22,69.41 L148.83,69.64 L149.43,69.85 L150.04,70.04 L150.65,70.22 L151.25,70.39 L151.86,70.55 L152.47,70.7 L153.07,70.85 L153.68,70.98 L154.29,71.12 L154.89,71.24 L155.5,71.37 L156.11,71.48 L156.71,71.6 L157.32,71.71 L157.92,71.81 L158.53,71.91 L159.14,72.01 L159.74,72.11 L160.35,72.2 L160.96,72.28 L161.56,72.37 L162.17,72.45 L162.78,72.53 L163.38,72.61 L163.99,72.68 L164.6,72.76 L165.2,72.83 L165.81,72.9 L166.42,72.96 L167.02,73.03 L167.63,73.09 L168.24,73.15 L168.84,73.21 L169.45,73.26 L170.06,73.32 L170.66,73.37 L171.27,73.43 L171.87,73.48 L172.48,73.53 L173.09,73.57 L173.69,73.62 L174.3,73.66 L174.91,73.71 L175.51,73.75 L176.12,73.79 L176.73,73.83 L177.33,73.87 L177.94,73.91 L178.55,73.95 L179.15,73.98 L179.76,74.02 L180.37,74.05 L180.97,74.08 L181.58,74.12 L182.19,74.15 L182.79,74.18 L183.4,74.21 L184,74.23 L184.61,74.26 L185.22,74.28 L185.82,74.31 L186.43,74.33 L187.04,74.34 L187.64,74.36 L188.25,74.37 L188.86,74.38 L189.46,74.39 L190.07,74.39 L190.68,74.38 L191.28,74.36 L191.89,74.33 L192.5,74.29 L193.1,74.22 L193.71,74.14 L194.31,74.02 L194.92,73.86 L195.53,73.66 L196.13,73.39 L196.74,73.04 L197.35,72.58 L197.95,71.99 L198.56,71.22 L199.17,70.24 L199.77,68.97 L200.38,67.34 L200.38,67.34 L199.77,72.79 L199.17,76.1 L198.56,78.12 L197.95,79.36 L197.35,80.11 L196.74,80.58 L196.13,80.87 L195.53,81.05 L194.92,81.17 L194.31,81.25 L193.71,81.31 L193.1,81.35 L192.5,81.38 L191.89,81.41 L191.28,81.44 L190.68,81.46 L190.07,81.48 L189.46,81.5 L188.86,81.52 L188.25,81.54 L187.64,81.57 L187.04,81.59 L186.43,81.61 L185.82,81.63 L185.22,81.65 L184.61,81.67 L184,81.69 L183.4,81.71 L182.79,81.73 L182.19,81.75 L181.58,81.77 L180.97,81.79 L180.37,81.81 L179.76,81.83 L179.15,81.85 L178.55,81.87 L177.94,81.89 L177.33,81.91 L176.73,81.93 L176.12,81.95 L175.51,81.97 L174.91,81.99 L174.3,82.01 L173.69,82.03 L173.09,82.05 L172.48,82.07 L171.87,82.09 L171.27,82.11 L170.66,82.13 L170.06,82.15 L169.45,82.17 L168.84,82.19 L168.24,82.21 L167.63,82.23 L167.02,82.25 L166.42,82.27 L165.81,82.29 L165.2,82.31 L164.6,82.33 L163.99,82.35 L163.38,82.37 L162.78,82.39 L162.17,82.41 L161.56,82.43 L160.96,82.45 L160.35,82.47 L159.74,82.49 L159.14,82.51 L158.53,82.53 L157.92,82.55 L157.32,82.57 L156.71,82.59 L156.11,82.61 L155.5,82.63 L154.89,82.65 L154.29,82.67 L153.68,82.69 L153.07,82.71 L152.47,82.73 L151.86,82.75 L151.25,82.77 L150.65,82.79 L150.04,82.81 L149.43,82.83 L148.83,82.86 L148.22,82.88 L147.61,82.9 L147.01,82.92 L146.4,82.95 L145.79,82.98 L145.19,83.01 L144.58,83.05 L143.98,83.1 L143.37,83.16 L142.76,83.24 L142.16,83.33 L141.55,83.45 L140.94,83.61 L140.34,83.81 L139.73,84.07 L139.12,84.4 L138.52,84.81 L137.91,85.32 L137.3,85.95 L136.7,86.72 L136.09,87.63 L135.48,88.72 L134.88,89.99 L134.27,91.46 L133.66,93.12 L133.06,94.98 L132.45,97.03 L131.85,99.25 L131.24,101.61 L130.63,104.08 L130.03,106.61 L129.42,109.15 L128.81,111.63 L128.21,114 L127.6,116.18 L126.99,118.1 L126.39,119.71 L125.78,120.95 L125.17,121.79 L124.57,122.21 L123.96,122.25 L123.35,121.96 L122.75,121.41 L122.14,120.68 L121.53,119.82 L120.93,118.88 L120.32,117.89 L119.72,116.85 L119.11,115.79 L118.5,114.71 L117.9,113.62 L117.29,112.54 L116.68,111.48 L116.08,110.44 L115.47,109.44 L114.86,108.48 L114.26,107.56 L113.65,106.69 L113.04,105.88 L112.44,105.13 L111.83,104.43 L111.22,103.79 L110.62,103.21 L110.01,102.67 L109.41,102.19 L108.8,101.76 L108.19,101.37 L107.59,101.01 L106.98,100.7 L106.37,100.41 L105.77,100.16 L105.16,99.93 L104.55,99.72 L103.95,99.53 L103.34,99.36 L102.73,99.2 L102.13,99.05 L101.52,98.92 L100.91,98.79 L100.31,98.67 L99.7,98.56 L99.09,98.45 L98.49,98.35 L97.88,98.26 L97.28,98.16 L96.67,98.07 L96.06,97.99 L95.46,97.91 L94.85,97.82 L94.24,97.75 L93.64,97.67 L93.03,97.6 L92.42,97.53 L91.82,97.46 L91.21,97.39 L90.6,97.32 L90,97.26 L89.39,97.2 L88.78,97.14 L88.18,97.08 L87.57,97.02 L86.96,96.97 L86.36,96.91 L85.75,96.86 L85.14,96.81 L84.54,96.76 L83.93,96.71 L83.33,96.66 L82.72,96.61 L82.11,96.57 L81.51,96.52 L80.9,96.48 L80.29,96.44 L79.69,96.39 L79.08,96.35 L78.47,96.31 L77.87,96.28 L77.26,96.24 L76.65,96.2 L76.05,96.17 L75.44,96.13 L74.83,96.1 L74.23,96.07 L73.62,96.03 L73.02,96 L72.41,95.97 L71.8,95.94 L71.2,95.92 L70.59,95.89 L69.98,95.87 L69.38,95.84 L68.77,95.82 L68.16,95.81 L67.56,95.79 L66.95,95.78 L66.34,95.77 L65.74,95.77 L65.13,95.78 L64.52,95.79 L63.92,95.82 L63.31,95.86 L62.7,95.91 L62.1,95.99 L61.49,96.1 L60.89,96.25 L60.28,96.44 L59.67,96.7 L59.07,97.03 L58.46,97.47 L57.85,98.03 L57.25,98.76 L56.64,99.7 L56.03,100.92 L55.43,102.48 L54.82,104.49" fill="none" stroke="#ee3333" stroke-width="1.4" stroke-linejoin="round" />
</g>
<line x1="42.4" y1="154.3" x2="45.4" y2="154.3" stroke="#000" stroke-width="0.8" />
<line x1="42.4" y1="142.84" x2="44" y2="142.84" stroke="#000" stroke-width="0.8" />
<line x1="42.4" y1="131.38" x2="45.4" y2="131.38" stroke="#000" stroke-width="0.8" />
<line x1="42.4" y1="119.92" x2="44" y2="119.92" stroke="#000" stroke-width="0.8" />
<line x1="42.4" y1="108.47" x2="45.4" y2="108.47" stroke="#000" stroke-width="0.8" />
<line x1="42.4" y1="97.01" x2="44" y2="97.01" stroke="#000" stroke-width="0.8" />
<line x1="42.4" y1="85.55" x2="45.4" y2="85.55" stroke="#000" stroke-width="0.8" />
<line x1="42.4" y1="74.09" x2="44" y2="74.09" stroke="#000" stroke-width="0.8" />
<line x1="42.4" y1="62.63" x2="45.4" y2="62.63" stroke="#000" stroke-width="0.8" />
<line x1="42.4" y1="51.18" x2="44" y2="51.18" stroke="#000" stroke-width="0.8" />
<line x1="42.4" y1="39.72" x2="45.4" y2="39.72" stroke="#000" stroke-width="0.8" />
<line x1="42.4" y1="28.26" x2="44" y2="28.26" stroke="#000" stroke-width="0.8" />
<line x1="42.4" y1="16.8" x2="45.4" y2="16.8" stroke="#000" stroke-width="0.8" />
<line x1="42.69" y1="154.2" x2="42.69" y2="152.6" stroke="#000" stroke-width="0.8" />
<line x1="54.82" y1="154.2" x2="54.82" y2="151.2" stroke="#000" stroke-width="0.8" />
<line x1="66.95" y1="154.2" x2="66.95" y2="152.6" stroke="#000" stroke-width="0.8" />
<line x1="79.08" y1="154.2" x2="79.08" y2="151.2" stroke="#000" stroke-width="0.8" />
<line x1="91.21" y1="154.2" x2="91.21" y2="152.6" stroke="#000" stroke-width="0.8" />
<line x1="103.34" y1="154.2" x2="103.34" y2="151.2" stroke="#000" stroke-width="0.8" />
<line x1="115.47" y1="154.2" x2="115.47" y2="152.6" stroke="#000" stroke-width="0.8" />
<line x1="127.6" y1="154.2" x2="127.6" y2="151.2" stroke="#000" stroke-width="0.8" />
<line x1="139.73" y1="154.2" x2="139.73" y2="152.6" stroke="#000" stroke-width="0.8" />
<line x1="151.86" y1="154.2" x2="151.86" y2="151.2" stroke="#000" stroke-width="0.8" />
<line x1="163.99" y1="154.2" x2="163.99" y2="152.6" stroke="#000" stroke-width="0.8" />
<line x1="176.12" y1="154.2" x2="176.12" y2="151.2" stroke="#000" stroke-width="0.8" />
<line x1="188.25" y1="154.2" x2="188.25" y2="152.6" stroke="#000" stroke-width="0.8" />
<line x1="200.38" y1="154.2" x2="200.38" y2="151.2" stroke="#000" stroke-width="0.8" />
<line x1="212.51" y1="154.2" x2="212.51" y2="152.6" stroke="#000" stroke-width="0.8" />
<text x="39.2" y="157.7" font-size="9.1" text-anchor="end" fill="#000" >-0.6</text>
<text x="54.82" y="164.6" font-size="9.1" text-anchor="middle" fill="#000" >-0.6</text>
<text x="39.2" y="134.78" font-size="9.1" text-anchor="end" fill="#000" >-0.4</text>
<text x="79.08" y="164.6" font-size="9.1" text-anchor="middle" fill="#000" >-0.4</text>
<text x="39.2" y="111.87" font-size="9.1" text-anchor="end" fill="#000" >-0.2</text>
<text x="103.34" y="164.6" font-size="9.1" text-anchor="middle" fill="#000" >-0.2</text>
<text x="39.2" y="88.95" font-size="9.1" text-anchor="end" fill="#000" >0.0</text>
<text x="127.6" y="164.6" font-size="9.1" text-anchor="middle" fill="#000" >0.0</text>
<text x="39.2" y="66.03" font-size="9.1" text-anchor="end" fill="#000" >0.2</text>
<text x="151.86" y="164.6" font-size="9.1" text-anchor="middle" fill="#000" >0.2</text>
<text x="39.2" y="43.12" font-size="9.1" text-anchor="end" fill="#000" >0.4</text>
<text x="176.12" y="164.6" font-size="9.1" text-anchor="middle" fill="#000" >0.4</text>
<text x="39.2" y="20.2" font-size="9.1" text-anchor="end" fill="#000" >0.6</text>
<text x="200.38" y="164.6" font-size="9.1" text-anchor="middle" fill="#000" >0.6</text>
<rect x="42.4" y="16.8" width="170.6" height="137.4" fill="none" stroke="#000" stroke-width="1.3"/>
<text x="127.8" y="176" font-size="11.6" text-anchor="middle" fill="#000" >Potential vs. carbon paper (V)</text>
<text transform="translate(19.2,85.6) scale(1,0.968) rotate(-90)" font-size="12.4" text-anchor="middle">Current density (A m<tspan font-size="7.5" dy="-4.12">-2</tspan><tspan dy="4.12">)</tspan></text>
<line x1="46.6" y1="22.6" x2="62.4" y2="22.6" stroke="#d4d4d4" stroke-width="0.9" />
<text x="64.7" y="25.2" font-size="7.3" text-anchor="start" fill="#000" >0.05 M</text>
<line x1="88.3" y1="22.6" x2="104.1" y2="22.6" stroke="#bdbdbd" stroke-width="0.9" />
<text x="106.4" y="25.2" font-size="7.3" text-anchor="start" fill="#000" >0.1 M</text>
<line x1="46.6" y1="31.4" x2="62.4" y2="31.4" stroke="#9a9a9a" stroke-width="0.9" />
<text x="64.7" y="34" font-size="7.3" text-anchor="start" fill="#000" >0.3 M</text>
<line x1="88.3" y1="31.4" x2="104.1" y2="31.4" stroke="#6e6e6e" stroke-width="0.9" />
<text x="106.4" y="34" font-size="7.3" text-anchor="start" fill="#000" >0.5 M</text>
<line x1="46.6" y1="40.1" x2="62.4" y2="40.1" stroke="#4a4a4a" stroke-width="1" />
<text x="64.7" y="42.7" font-size="7.3" text-anchor="start" fill="#000" >0.7 M</text>
<line x1="88.3" y1="40.1" x2="104.1" y2="40.1" stroke="#fbc4c4" stroke-width="1.2" />
<text x="106.4" y="42.7" font-size="7.3" text-anchor="start" fill="#000" >1.0 M</text>
<line x1="46.6" y1="48.9" x2="62.4" y2="48.9" stroke="#f7a2a2" stroke-width="1.3" />
<text x="64.7" y="51.5" font-size="7.3" text-anchor="start" fill="#000" >1.3 M</text>
<line x1="88.3" y1="48.9" x2="104.1" y2="48.9" stroke="#f46c6c" stroke-width="1.82" />
<text x="106.4" y="51.5" font-size="7.3" text-anchor="start" fill="#000" >1.5 M</text>
<line x1="46.6" y1="57.5" x2="62.4" y2="57.5" stroke="#ee3333" stroke-width="1.82" />
<text x="64.7" y="60.1" font-size="7.3" text-anchor="start" fill="#000" >1.7 M</text>
<rect x="147.1" y="92.9" width="62.8" height="50.9" fill="#fff" />
<clipPath id="clipAi"><rect x="147.1" y="92.9" width="62.8" height="50.9"/></clipPath>
<g clip-path="url(#clipAi)">
<path d="M151.44,129.4 L151.67,127.98 L151.9,126.82 L152.12,125.85 L152.35,125.06 L152.58,124.41 L152.81,123.87 L153.04,123.42 L153.26,123.05 L153.49,122.74 L153.72,122.48 L153.95,122.27 L154.18,122.08 L154.4,121.93 L154.63,121.8 L154.86,121.69 L155.09,121.59 L155.32,121.5 L155.54,121.43 L155.77,121.36 L156,121.3 L156.23,121.25 L156.46,121.2 L156.68,121.16 L156.91,121.11 L157.14,121.07 L157.37,121.04 L157.6,121 L157.82,120.97 L158.05,120.93 L158.28,120.9 L158.51,120.87 L158.74,120.84 L158.96,120.81 L159.19,120.78 L159.42,120.75 L159.65,120.72 L159.88,120.69 L160.1,120.66 L160.33,120.63 L160.56,120.6 L160.79,120.57 L161.02,120.55 L161.24,120.52 L161.47,120.49 L161.7,120.46 L161.93,120.43 L162.16,120.4 L162.38,120.38 L162.61,120.35 L162.84,120.32 L163.07,120.29 L163.3,120.26 L163.52,120.23 L163.75,120.21 L163.98,120.18 L164.21,120.15 L164.44,120.12 L164.66,120.09 L164.89,120.07 L165.12,120.04 L165.35,120.01 L165.58,119.98 L165.8,119.95 L166.03,119.93 L166.26,119.9 L166.49,119.87 L166.72,119.84 L166.94,119.81 L167.17,119.78 L167.4,119.76 L167.63,119.73 L167.86,119.7 L168.08,119.67 L168.31,119.64 L168.54,119.62 L168.77,119.59 L169,119.56 L169.22,119.53 L169.45,119.5 L169.68,119.47 L169.91,119.45 L170.14,119.42 L170.36,119.39 L170.59,119.36 L170.82,119.33 L171.05,119.31 L171.28,119.28 L171.5,119.25 L171.73,119.22 L171.96,119.19 L172.19,119.16 L172.42,119.14 L172.64,119.11 L172.87,119.08 L173.1,119.05 L173.33,119.02 L173.56,118.99 L173.78,118.95 L174.01,118.92 L174.24,118.88 L174.47,118.84 L174.7,118.79 L174.92,118.74 L175.15,118.69 L175.38,118.62 L175.61,118.54 L175.84,118.46 L176.06,118.36 L176.29,118.24 L176.52,118.1 L176.75,117.95 L176.98,117.77 L177.2,117.57 L177.43,117.35 L177.66,117.1 L177.89,116.83 L178.12,116.54 L178.34,116.23 L178.57,115.9 L178.8,115.57 L179.03,115.23 L179.26,114.9 L179.48,114.58 L179.71,114.27 L179.94,114 L180.17,113.75 L180.4,113.55 L180.62,113.39 L180.85,113.28 L181.08,113.22 L181.31,113.19 L181.54,113.2 L181.76,113.23 L181.99,113.28 L182.22,113.34 L182.45,113.42 L182.68,113.49 L182.9,113.57 L183.13,113.65 L183.36,113.74 L183.59,113.82 L183.82,113.91 L184.04,113.99 L184.27,114.07 L184.5,114.15 L184.73,114.22 L184.96,114.29 L185.18,114.35 L185.41,114.41 L185.64,114.46 L185.87,114.5 L186.1,114.54 L186.32,114.58 L186.55,114.6 L186.78,114.63 L187.01,114.65 L187.24,114.66 L187.46,114.67 L187.69,114.68 L187.92,114.69 L188.15,114.69 L188.38,114.69 L188.6,114.68 L188.83,114.68 L189.06,114.67 L189.29,114.66 L189.52,114.66 L189.74,114.65 L189.97,114.63 L190.2,114.62 L190.43,114.61 L190.66,114.6 L190.88,114.58 L191.11,114.57 L191.34,114.55 L191.57,114.54 L191.8,114.52 L192.02,114.5 L192.25,114.48 L192.48,114.47 L192.71,114.45 L192.94,114.43 L193.16,114.41 L193.39,114.39 L193.62,114.37 L193.85,114.35 L194.08,114.32 L194.3,114.3 L194.53,114.28 L194.76,114.25 L194.99,114.23 L195.22,114.2 L195.44,114.18 L195.67,114.15 L195.9,114.12 L196.13,114.09 L196.36,114.06 L196.58,114.03 L196.81,114 L197.04,113.97 L197.27,113.93 L197.5,113.9 L197.72,113.86 L197.95,113.82 L198.18,113.78 L198.41,113.74 L198.64,113.69 L198.86,113.65 L199.09,113.6 L199.32,113.55 L199.55,113.5 L199.78,113.44 L200,113.39 L200.23,113.33 L200.46,113.26 L200.69,113.19 L200.92,113.12 L201.14,113.05 L201.37,112.97 L201.6,112.89 L201.83,112.8 L202.06,112.71 L202.28,112.61 L202.51,112.51 L202.74,112.4 L202.97,112.28 L203.2,112.16 L203.42,112.03 L203.65,111.89 L203.88,111.74 L204.11,111.58 L204.34,111.41 L204.56,111.23 L204.79,111.04 L205.02,110.84 L205.25,110.63 L205.48,110.39 L205.7,110.15 L205.93,109.89 L206.16,109.6 L206.16,109.6 L205.93,111.06 L205.7,112.26 L205.48,113.24 L205.25,114.05 L205.02,114.72 L204.79,115.27 L204.56,115.73 L204.34,116.11 L204.11,116.43 L203.88,116.69 L203.65,116.91 L203.42,117.1 L203.2,117.26 L202.97,117.39 L202.74,117.51 L202.51,117.6 L202.28,117.69 L202.06,117.77 L201.83,117.83 L201.6,117.89 L201.37,117.95 L201.14,118 L200.92,118.04 L200.69,118.09 L200.46,118.13 L200.23,118.16 L200,118.2 L199.78,118.23 L199.55,118.27 L199.32,118.3 L199.09,118.33 L198.86,118.36 L198.64,118.39 L198.41,118.42 L198.18,118.45 L197.95,118.48 L197.72,118.51 L197.5,118.54 L197.27,118.57 L197.04,118.6 L196.81,118.63 L196.58,118.65 L196.36,118.68 L196.13,118.71 L195.9,118.74 L195.67,118.77 L195.44,118.8 L195.22,118.82 L194.99,118.85 L194.76,118.88 L194.53,118.91 L194.3,118.94 L194.08,118.97 L193.85,118.99 L193.62,119.02 L193.39,119.05 L193.16,119.08 L192.94,119.11 L192.71,119.13 L192.48,119.16 L192.25,119.19 L192.02,119.22 L191.8,119.25 L191.57,119.27 L191.34,119.3 L191.11,119.33 L190.88,119.36 L190.66,119.39 L190.43,119.42 L190.2,119.44 L189.97,119.47 L189.74,119.5 L189.52,119.53 L189.29,119.56 L189.06,119.58 L188.83,119.61 L188.6,119.64 L188.38,119.67 L188.15,119.7 L187.92,119.73 L187.69,119.75 L187.46,119.78 L187.24,119.81 L187.01,119.84 L186.78,119.87 L186.55,119.9 L186.32,119.92 L186.1,119.95 L185.87,119.98 L185.64,120.01 L185.41,120.04 L185.18,120.07 L184.96,120.11 L184.73,120.14 L184.5,120.17 L184.27,120.21 L184.04,120.25 L183.82,120.29 L183.59,120.33 L183.36,120.38 L183.13,120.43 L182.9,120.49 L182.68,120.56 L182.45,120.63 L182.22,120.71 L181.99,120.8 L181.76,120.9 L181.54,121.01 L181.31,121.13 L181.08,121.27 L180.85,121.42 L180.62,121.58 L180.4,121.76 L180.17,121.96 L179.94,122.16 L179.71,122.38 L179.48,122.61 L179.26,122.85 L179.03,123.1 L178.8,123.35 L178.57,123.6 L178.34,123.85 L178.12,124.1 L177.89,124.33 L177.66,124.56 L177.43,124.76 L177.2,124.95 L176.98,125.11 L176.75,125.24 L176.52,125.34 L176.29,125.42 L176.06,125.46 L175.84,125.48 L175.61,125.47 L175.38,125.45 L175.15,125.41 L174.92,125.37 L174.7,125.32 L174.47,125.26 L174.24,125.21 L174.01,125.15 L173.78,125.09 L173.56,125.02 L173.33,124.96 L173.1,124.9 L172.87,124.84 L172.64,124.78 L172.42,124.72 L172.19,124.67 L171.96,124.61 L171.73,124.57 L171.5,124.52 L171.28,124.48 L171.05,124.45 L170.82,124.42 L170.59,124.39 L170.36,124.36 L170.14,124.34 L169.91,124.33 L169.68,124.32 L169.45,124.31 L169.22,124.3 L169,124.3 L168.77,124.3 L168.54,124.3 L168.31,124.3 L168.08,124.31 L167.86,124.31 L167.63,124.32 L167.4,124.33 L167.17,124.35 L166.94,124.36 L166.72,124.37 L166.49,124.39 L166.26,124.4 L166.03,124.42 L165.8,124.44 L165.58,124.45 L165.35,124.47 L165.12,124.49 L164.89,124.51 L164.66,124.53 L164.44,124.55 L164.21,124.57 L163.98,124.59 L163.75,124.62 L163.52,124.64 L163.3,124.66 L163.07,124.69 L162.84,124.71 L162.61,124.74 L162.38,124.77 L162.16,124.79 L161.93,124.82 L161.7,124.85 L161.47,124.88 L161.24,124.91 L161.02,124.94 L160.79,124.98 L160.56,125.01 L160.33,125.05 L160.1,125.08 L159.88,125.12 L159.65,125.16 L159.42,125.2 L159.19,125.24 L158.96,125.29 L158.74,125.34 L158.51,125.38 L158.28,125.44 L158.05,125.49 L157.82,125.54 L157.6,125.6 L157.37,125.66 L157.14,125.73 L156.91,125.8 L156.68,125.87 L156.46,125.94 L156.23,126.02 L156,126.11 L155.77,126.19 L155.54,126.29 L155.32,126.39 L155.09,126.49 L154.86,126.6 L154.63,126.72 L154.4,126.84 L154.18,126.97 L153.95,127.11 L153.72,127.26 L153.49,127.42 L153.26,127.59 L153.04,127.77 L152.81,127.96 L152.58,128.16 L152.35,128.38 L152.12,128.61 L151.9,128.86 L151.67,129.12 L151.44,129.4" fill="none" stroke="#c8c8c8" stroke-width="0.9" stroke-linejoin="round" />
<path d="M151.44,131.88 L151.67,129.78 L151.9,128.06 L152.12,126.65 L152.35,125.49 L152.58,124.53 L152.81,123.74 L153.04,123.09 L153.26,122.55 L153.49,122.11 L153.72,121.74 L153.95,121.43 L154.18,121.17 L154.4,120.96 L154.63,120.77 L154.86,120.62 L155.09,120.49 L155.32,120.38 L155.54,120.28 L155.77,120.2 L156,120.12 L156.23,120.06 L156.46,120 L156.68,119.94 L156.91,119.89 L157.14,119.85 L157.37,119.81 L157.6,119.77 L157.82,119.73 L158.05,119.69 L158.28,119.66 L158.51,119.63 L158.74,119.59 L158.96,119.56 L159.19,119.53 L159.42,119.5 L159.65,119.47 L159.88,119.44 L160.1,119.41 L160.33,119.38 L160.56,119.35 L160.79,119.33 L161.02,119.3 L161.24,119.27 L161.47,119.24 L161.7,119.21 L161.93,119.18 L162.16,119.15 L162.38,119.13 L162.61,119.1 L162.84,119.07 L163.07,119.04 L163.3,119.01 L163.52,118.98 L163.75,118.96 L163.98,118.93 L164.21,118.9 L164.44,118.87 L164.66,118.84 L164.89,118.82 L165.12,118.79 L165.35,118.76 L165.58,118.73 L165.8,118.7 L166.03,118.68 L166.26,118.65 L166.49,118.62 L166.72,118.59 L166.94,118.56 L167.17,118.53 L167.4,118.51 L167.63,118.48 L167.86,118.45 L168.08,118.42 L168.31,118.39 L168.54,118.37 L168.77,118.34 L169,118.31 L169.22,118.28 L169.45,118.25 L169.68,118.22 L169.91,118.2 L170.14,118.17 L170.36,118.14 L170.59,118.11 L170.82,118.08 L171.05,118.06 L171.28,118.03 L171.5,118 L171.73,117.97 L171.96,117.94 L172.19,117.91 L172.42,117.88 L172.64,117.85 L172.87,117.82 L173.1,117.79 L173.33,117.76 L173.56,117.73 L173.78,117.69 L174.01,117.65 L174.24,117.6 L174.47,117.55 L174.7,117.5 L174.92,117.43 L175.15,117.35 L175.38,117.26 L175.61,117.15 L175.84,117.01 L176.06,116.86 L176.29,116.67 L176.52,116.46 L176.75,116.21 L176.98,115.92 L177.2,115.59 L177.43,115.22 L177.66,114.81 L177.89,114.35 L178.12,113.86 L178.34,113.34 L178.57,112.8 L178.8,112.23 L179.03,111.67 L179.26,111.1 L179.48,110.56 L179.71,110.05 L179.94,109.59 L180.17,109.18 L180.4,108.85 L180.62,108.59 L180.85,108.42 L181.08,108.33 L181.31,108.3 L181.54,108.34 L181.76,108.42 L181.99,108.53 L182.22,108.66 L182.45,108.8 L182.68,108.96 L182.9,109.12 L183.13,109.29 L183.36,109.45 L183.59,109.63 L183.82,109.79 L184.04,109.96 L184.27,110.12 L184.5,110.28 L184.73,110.43 L184.96,110.56 L185.18,110.69 L185.41,110.81 L185.64,110.92 L185.87,111.02 L186.1,111.11 L186.32,111.19 L186.55,111.27 L186.78,111.33 L187.01,111.38 L187.24,111.43 L187.46,111.47 L187.69,111.51 L187.92,111.54 L188.15,111.56 L188.38,111.58 L188.6,111.6 L188.83,111.61 L189.06,111.62 L189.29,111.63 L189.52,111.64 L189.74,111.64 L189.97,111.64 L190.2,111.64 L190.43,111.64 L190.66,111.64 L190.88,111.64 L191.11,111.63 L191.34,111.63 L191.57,111.62 L191.8,111.62 L192.02,111.61 L192.25,111.6 L192.48,111.59 L192.71,111.58 L192.94,111.57 L193.16,111.56 L193.39,111.55 L193.62,111.53 L193.85,111.52 L194.08,111.5 L194.3,111.49 L194.53,111.47 L194.76,111.45 L194.99,111.43 L195.22,111.41 L195.44,111.39 L195.67,111.37 L195.9,111.35 L196.13,111.32 L196.36,111.3 L196.58,111.27 L196.81,111.24 L197.04,111.21 L197.27,111.17 L197.5,111.14 L197.72,111.1 L197.95,111.07 L198.18,111.02 L198.41,110.98 L198.64,110.94 L198.86,110.89 L199.09,110.84 L199.32,110.78 L199.55,110.73 L199.78,110.67 L200,110.6 L200.23,110.53 L200.46,110.46 L200.69,110.38 L200.92,110.3 L201.14,110.22 L201.37,110.12 L201.6,110.03 L201.83,109.92 L202.06,109.81 L202.28,109.69 L202.51,109.57 L202.74,109.43 L202.97,109.29 L203.2,109.14 L203.42,108.97 L203.65,108.8 L203.88,108.62 L204.11,108.42 L204.34,108.21 L204.56,107.98 L204.79,107.74 L205.02,107.48 L205.25,107.2 L205.48,106.91 L205.7,106.59 L205.93,106.25 L206.16,105.89 L206.16,105.89 L205.93,108.02 L205.7,109.77 L205.48,111.2 L205.25,112.38 L205.02,113.35 L204.79,114.15 L204.56,114.81 L204.34,115.36 L204.11,115.81 L203.88,116.19 L203.65,116.5 L203.42,116.76 L203.2,116.98 L202.97,117.16 L202.74,117.32 L202.51,117.45 L202.28,117.57 L202.06,117.66 L201.83,117.75 L201.6,117.83 L201.37,117.89 L201.14,117.95 L200.92,118.01 L200.69,118.05 L200.46,118.1 L200.23,118.14 L200,118.18 L199.78,118.22 L199.55,118.26 L199.32,118.29 L199.09,118.32 L198.86,118.36 L198.64,118.39 L198.41,118.42 L198.18,118.45 L197.95,118.48 L197.72,118.51 L197.5,118.54 L197.27,118.57 L197.04,118.6 L196.81,118.62 L196.58,118.65 L196.36,118.68 L196.13,118.71 L195.9,118.74 L195.67,118.77 L195.44,118.8 L195.22,118.82 L194.99,118.85 L194.76,118.88 L194.53,118.91 L194.3,118.94 L194.08,118.97 L193.85,118.99 L193.62,119.02 L193.39,119.05 L193.16,119.08 L192.94,119.11 L192.71,119.13 L192.48,119.16 L192.25,119.19 L192.02,119.22 L191.8,119.25 L191.57,119.27 L191.34,119.3 L191.11,119.33 L190.88,119.36 L190.66,119.39 L190.43,119.42 L190.2,119.44 L189.97,119.47 L189.74,119.5 L189.52,119.53 L189.29,119.56 L189.06,119.58 L188.83,119.61 L188.6,119.64 L188.38,119.67 L188.15,119.7 L187.92,119.73 L187.69,119.75 L187.46,119.78 L187.24,119.81 L187.01,119.84 L186.78,119.87 L186.55,119.9 L186.32,119.93 L186.1,119.96 L185.87,119.99 L185.64,120.02 L185.41,120.05 L185.18,120.08 L184.96,120.12 L184.73,120.15 L184.5,120.19 L184.27,120.24 L184.04,120.28 L183.82,120.34 L183.59,120.4 L183.36,120.46 L183.13,120.53 L182.9,120.62 L182.68,120.71 L182.45,120.82 L182.22,120.95 L181.99,121.09 L181.76,121.25 L181.54,121.44 L181.31,121.64 L181.08,121.87 L180.85,122.13 L180.62,122.41 L180.4,122.72 L180.17,123.05 L179.94,123.41 L179.71,123.79 L179.48,124.19 L179.26,124.61 L179.03,125.05 L178.8,125.49 L178.57,125.94 L178.34,126.38 L178.12,126.81 L177.89,127.22 L177.66,127.61 L177.43,127.97 L177.2,128.29 L176.98,128.56 L176.75,128.79 L176.52,128.96 L176.29,129.07 L176.06,129.12 L175.84,129.13 L175.61,129.09 L175.38,129.02 L175.15,128.93 L174.92,128.83 L174.7,128.71 L174.47,128.59 L174.24,128.46 L174.01,128.32 L173.78,128.18 L173.56,128.04 L173.33,127.9 L173.1,127.76 L172.87,127.62 L172.64,127.49 L172.42,127.36 L172.19,127.23 L171.96,127.11 L171.73,127 L171.5,126.9 L171.28,126.8 L171.05,126.71 L170.82,126.62 L170.59,126.55 L170.36,126.48 L170.14,126.42 L169.91,126.36 L169.68,126.32 L169.45,126.27 L169.22,126.24 L169,126.21 L168.77,126.18 L168.54,126.16 L168.31,126.14 L168.08,126.13 L167.86,126.12 L167.63,126.11 L167.4,126.1 L167.17,126.1 L166.94,126.1 L166.72,126.1 L166.49,126.1 L166.26,126.1 L166.03,126.11 L165.8,126.11 L165.58,126.12 L165.35,126.13 L165.12,126.14 L164.89,126.15 L164.66,126.16 L164.44,126.17 L164.21,126.18 L163.98,126.2 L163.75,126.21 L163.52,126.23 L163.3,126.24 L163.07,126.26 L162.84,126.28 L162.61,126.3 L162.38,126.32 L162.16,126.34 L161.93,126.37 L161.7,126.39 L161.47,126.42 L161.24,126.44 L161.02,126.47 L160.79,126.5 L160.56,126.53 L160.33,126.57 L160.1,126.6 L159.88,126.64 L159.65,126.68 L159.42,126.72 L159.19,126.76 L158.96,126.81 L158.74,126.86 L158.51,126.91 L158.28,126.97 L158.05,127.02 L157.82,127.08 L157.6,127.15 L157.37,127.22 L157.14,127.29 L156.91,127.37 L156.68,127.45 L156.46,127.54 L156.23,127.63 L156,127.73 L155.77,127.83 L155.54,127.95 L155.32,128.06 L155.09,128.19 L154.86,128.32 L154.63,128.47 L154.4,128.62 L154.18,128.78 L153.95,128.96 L153.72,129.15 L153.49,129.34 L153.26,129.56 L153.04,129.78 L152.81,130.03 L152.58,130.28 L152.35,130.56 L152.12,130.86 L151.9,131.17 L151.67,131.51 L151.44,131.88" fill="none" stroke="#a8a8a8" stroke-width="0.9" stroke-linejoin="round" />
<path d="M151.44,135.14 L151.67,132.5 L151.9,130.34 L152.12,128.57 L152.35,127.11 L152.58,125.92 L152.81,124.93 L153.04,124.12 L153.26,123.45 L153.49,122.9 L153.72,122.44 L153.95,122.06 L154.18,121.74 L154.4,121.48 L154.63,121.26 L154.86,121.07 L155.09,120.92 L155.32,120.79 L155.54,120.67 L155.77,120.57 L156,120.49 L156.23,120.41 L156.46,120.35 L156.68,120.29 L156.91,120.24 L157.14,120.19 L157.37,120.14 L157.6,120.1 L157.82,120.06 L158.05,120.03 L158.28,119.99 L158.51,119.96 L158.74,119.93 L158.96,119.9 L159.19,119.86 L159.42,119.83 L159.65,119.81 L159.88,119.78 L160.1,119.75 L160.33,119.72 L160.56,119.69 L160.79,119.66 L161.02,119.64 L161.24,119.61 L161.47,119.58 L161.7,119.55 L161.93,119.53 L162.16,119.5 L162.38,119.47 L162.61,119.45 L162.84,119.42 L163.07,119.39 L163.3,119.37 L163.52,119.34 L163.75,119.31 L163.98,119.28 L164.21,119.26 L164.44,119.23 L164.66,119.2 L164.89,119.18 L165.12,119.15 L165.35,119.12 L165.58,119.1 L165.8,119.07 L166.03,119.04 L166.26,119.02 L166.49,118.99 L166.72,118.96 L166.94,118.93 L167.17,118.91 L167.4,118.88 L167.63,118.85 L167.86,118.83 L168.08,118.8 L168.31,118.77 L168.54,118.75 L168.77,118.72 L169,118.69 L169.22,118.67 L169.45,118.64 L169.68,118.61 L169.91,118.59 L170.14,118.56 L170.36,118.53 L170.59,118.5 L170.82,118.48 L171.05,118.45 L171.28,118.42 L171.5,118.4 L171.73,118.37 L171.96,118.34 L172.19,118.31 L172.42,118.28 L172.64,118.26 L172.87,118.22 L173.1,118.19 L173.33,118.16 L173.56,118.12 L173.78,118.08 L174.01,118.03 L174.24,117.97 L174.47,117.9 L174.7,117.82 L174.92,117.73 L175.15,117.61 L175.38,117.47 L175.61,117.29 L175.84,117.08 L176.06,116.82 L176.29,116.52 L176.52,116.16 L176.75,115.73 L176.98,115.24 L177.2,114.68 L177.43,114.04 L177.66,113.32 L177.89,112.54 L178.12,111.69 L178.34,110.78 L178.57,109.83 L178.8,108.85 L179.03,107.86 L179.26,106.88 L179.48,105.93 L179.71,105.04 L179.94,104.24 L180.17,103.54 L180.4,102.97 L180.62,102.53 L180.85,102.25 L181.08,102.1 L181.31,102.09 L181.54,102.18 L181.76,102.34 L181.99,102.56 L182.22,102.81 L182.45,103.09 L182.68,103.39 L182.9,103.71 L183.13,104.03 L183.36,104.35 L183.59,104.68 L183.82,105.01 L184.04,105.33 L184.27,105.64 L184.5,105.94 L184.73,106.23 L184.96,106.5 L185.18,106.75 L185.41,106.99 L185.64,107.21 L185.87,107.42 L186.1,107.6 L186.32,107.77 L186.55,107.92 L186.78,108.05 L187.01,108.18 L187.24,108.28 L187.46,108.38 L187.69,108.47 L187.92,108.54 L188.15,108.61 L188.38,108.67 L188.6,108.72 L188.83,108.77 L189.06,108.81 L189.29,108.85 L189.52,108.89 L189.74,108.92 L189.97,108.95 L190.2,108.97 L190.43,109 L190.66,109.02 L190.88,109.04 L191.11,109.05 L191.34,109.07 L191.57,109.09 L191.8,109.1 L192.02,109.11 L192.25,109.12 L192.48,109.13 L192.71,109.14 L192.94,109.14 L193.16,109.15 L193.39,109.15 L193.62,109.16 L193.85,109.16 L194.08,109.16 L194.3,109.15 L194.53,109.15 L194.76,109.15 L194.99,109.14 L195.22,109.13 L195.44,109.12 L195.67,109.11 L195.9,109.1 L196.13,109.08 L196.36,109.07 L196.58,109.05 L196.81,109.02 L197.04,109 L197.27,108.97 L197.5,108.95 L197.72,108.91 L197.95,108.88 L198.18,108.84 L198.41,108.8 L198.64,108.76 L198.86,108.71 L199.09,108.66 L199.32,108.6 L199.55,108.54 L199.78,108.47 L200,108.4 L200.23,108.33 L200.46,108.24 L200.69,108.16 L200.92,108.06 L201.14,107.96 L201.37,107.85 L201.6,107.73 L201.83,107.61 L202.06,107.47 L202.28,107.33 L202.51,107.17 L202.74,107 L202.97,106.82 L203.2,106.63 L203.42,106.42 L203.65,106.2 L203.88,105.96 L204.11,105.7 L204.34,105.43 L204.56,105.14 L204.79,104.82 L205.02,104.48 L205.25,104.12 L205.48,103.73 L205.7,103.31 L205.93,102.86 L206.16,102.37 L206.16,102.37 L205.93,104.9 L205.7,106.98 L205.48,108.69 L205.25,110.09 L205.02,111.24 L204.79,112.19 L204.56,112.97 L204.34,113.61 L204.11,114.15 L203.88,114.59 L203.65,114.95 L203.42,115.26 L203.2,115.51 L202.97,115.72 L202.74,115.9 L202.51,116.05 L202.28,116.18 L202.06,116.29 L201.83,116.39 L201.6,116.47 L201.37,116.54 L201.14,116.61 L200.92,116.67 L200.69,116.72 L200.46,116.77 L200.23,116.81 L200,116.85 L199.78,116.89 L199.55,116.93 L199.32,116.96 L199.09,116.99 L198.86,117.02 L198.64,117.06 L198.41,117.09 L198.18,117.12 L197.95,117.14 L197.72,117.17 L197.5,117.2 L197.27,117.23 L197.04,117.26 L196.81,117.29 L196.58,117.31 L196.36,117.34 L196.13,117.37 L195.9,117.4 L195.67,117.42 L195.44,117.45 L195.22,117.48 L194.99,117.5 L194.76,117.53 L194.53,117.56 L194.3,117.58 L194.08,117.61 L193.85,117.64 L193.62,117.67 L193.39,117.69 L193.16,117.72 L192.94,117.75 L192.71,117.77 L192.48,117.8 L192.25,117.83 L192.02,117.85 L191.8,117.88 L191.57,117.91 L191.34,117.93 L191.11,117.96 L190.88,117.99 L190.66,118.02 L190.43,118.04 L190.2,118.07 L189.97,118.1 L189.74,118.12 L189.52,118.15 L189.29,118.18 L189.06,118.2 L188.83,118.23 L188.6,118.26 L188.38,118.28 L188.15,118.31 L187.92,118.34 L187.69,118.37 L187.46,118.39 L187.24,118.42 L187.01,118.45 L186.78,118.48 L186.55,118.5 L186.32,118.53 L186.1,118.56 L185.87,118.59 L185.64,118.63 L185.41,118.66 L185.18,118.7 L184.96,118.74 L184.73,118.78 L184.5,118.83 L184.27,118.89 L184.04,118.95 L183.82,119.02 L183.59,119.1 L183.36,119.2 L183.13,119.31 L182.9,119.45 L182.68,119.6 L182.45,119.78 L182.22,119.99 L181.99,120.23 L181.76,120.51 L181.54,120.83 L181.31,121.19 L181.08,121.6 L180.85,122.05 L180.62,122.56 L180.4,123.11 L180.17,123.71 L179.94,124.36 L179.71,125.06 L179.48,125.79 L179.26,126.56 L179.03,127.35 L178.8,128.16 L178.57,128.97 L178.34,129.78 L178.12,130.56 L177.89,131.31 L177.66,132.02 L177.43,132.67 L177.2,133.25 L176.98,133.74 L176.75,134.13 L176.52,134.43 L176.29,134.61 L176.06,134.69 L175.84,134.67 L175.61,134.58 L175.38,134.42 L175.15,134.23 L174.92,134 L174.7,133.76 L174.47,133.5 L174.24,133.22 L174.01,132.94 L173.78,132.66 L173.56,132.37 L173.33,132.07 L173.1,131.78 L172.87,131.5 L172.64,131.22 L172.42,130.95 L172.19,130.68 L171.96,130.43 L171.73,130.19 L171.5,129.97 L171.28,129.75 L171.05,129.56 L170.82,129.37 L170.59,129.2 L170.36,129.05 L170.14,128.91 L169.91,128.78 L169.68,128.66 L169.45,128.56 L169.22,128.46 L169,128.38 L168.77,128.3 L168.54,128.23 L168.31,128.17 L168.08,128.12 L167.86,128.07 L167.63,128.03 L167.4,127.99 L167.17,127.96 L166.94,127.93 L166.72,127.9 L166.49,127.88 L166.26,127.86 L166.03,127.84 L165.8,127.82 L165.58,127.81 L165.35,127.79 L165.12,127.78 L164.89,127.77 L164.66,127.77 L164.44,127.76 L164.21,127.76 L163.98,127.75 L163.75,127.75 L163.52,127.75 L163.3,127.76 L163.07,127.76 L162.84,127.76 L162.61,127.77 L162.38,127.78 L162.16,127.79 L161.93,127.8 L161.7,127.82 L161.47,127.84 L161.24,127.85 L161.02,127.88 L160.79,127.9 L160.56,127.93 L160.33,127.95 L160.1,127.99 L159.88,128.02 L159.65,128.06 L159.42,128.1 L159.19,128.14 L158.96,128.19 L158.74,128.24 L158.51,128.3 L158.28,128.36 L158.05,128.43 L157.82,128.5 L157.6,128.58 L157.37,128.66 L157.14,128.75 L156.91,128.84 L156.68,128.95 L156.46,129.06 L156.23,129.18 L156,129.3 L155.77,129.44 L155.54,129.59 L155.32,129.75 L155.09,129.92 L154.86,130.1 L154.63,130.29 L154.4,130.5 L154.18,130.73 L153.95,130.97 L153.72,131.23 L153.49,131.51 L153.26,131.81 L153.04,132.13 L152.81,132.47 L152.58,132.84 L152.35,133.24 L152.12,133.66 L151.9,134.12 L151.67,134.61 L151.44,135.14" fill="none" stroke="#808080" stroke-width="0.9" stroke-linejoin="round" />
</g>
<rect x="147.1" y="92.9" width="62.8" height="50.9" fill="none" stroke="#000" stroke-width="1"/>
<line x1="147.1" y1="143.35" x2="148.6" y2="143.35" stroke="#000" stroke-width="0.5" />
<text x="145.9" y="144.85" font-size="4.2" text-anchor="end" fill="#000" >-0.04</text>
<line x1="147.1" y1="130.85" x2="148.6" y2="130.85" stroke="#000" stroke-width="0.5" />
<text x="145.9" y="132.35" font-size="4.2" text-anchor="end" fill="#000" >-0.02</text>
<line x1="147.1" y1="118.35" x2="148.6" y2="118.35" stroke="#000" stroke-width="0.5" />
<text x="145.9" y="119.85" font-size="4.2" text-anchor="end" fill="#000" >0.00</text>
<line x1="147.1" y1="105.85" x2="148.6" y2="105.85" stroke="#000" stroke-width="0.5" />
<text x="145.9" y="107.35" font-size="4.2" text-anchor="end" fill="#000" >0.02</text>
<line x1="147.1" y1="93.35" x2="148.6" y2="93.35" stroke="#000" stroke-width="0.5" />
<text x="145.9" y="94.85" font-size="4.2" text-anchor="end" fill="#000" >0.04</text>
<line x1="151.44" y1="143.8" x2="151.44" y2="142.3" stroke="#000" stroke-width="0.5" />
<text x="151.5" y="149.6" font-size="5" text-anchor="middle" fill="#000" >-0.6</text>
<line x1="156" y1="143.8" x2="156" y2="143" stroke="#000" stroke-width="0.5" />
<line x1="160.56" y1="143.8" x2="160.56" y2="142.3" stroke="#000" stroke-width="0.5" />
<text x="160.53" y="149.6" font-size="5" text-anchor="middle" fill="#000" >-0.4</text>
<line x1="165.12" y1="143.8" x2="165.12" y2="143" stroke="#000" stroke-width="0.5" />
<line x1="169.68" y1="143.8" x2="169.68" y2="142.3" stroke="#000" stroke-width="0.5" />
<text x="169.56" y="149.6" font-size="5" text-anchor="middle" fill="#000" >-0.2</text>
<line x1="174.24" y1="143.8" x2="174.24" y2="143" stroke="#000" stroke-width="0.5" />
<line x1="178.8" y1="143.8" x2="178.8" y2="142.3" stroke="#000" stroke-width="0.5" />
<text x="178.59" y="149.6" font-size="5" text-anchor="middle" fill="#000" >0.0</text>
<line x1="183.36" y1="143.8" x2="183.36" y2="143" stroke="#000" stroke-width="0.5" />
<line x1="187.92" y1="143.8" x2="187.92" y2="142.3" stroke="#000" stroke-width="0.5" />
<text x="187.62" y="149.6" font-size="5" text-anchor="middle" fill="#000" >0.2</text>
<line x1="192.48" y1="143.8" x2="192.48" y2="143" stroke="#000" stroke-width="0.5" />
<line x1="197.04" y1="143.8" x2="197.04" y2="142.3" stroke="#000" stroke-width="0.5" />
<text x="196.65" y="149.6" font-size="5" text-anchor="middle" fill="#000" >0.4</text>
<line x1="201.6" y1="143.8" x2="201.6" y2="143" stroke="#000" stroke-width="0.5" />
<line x1="206.16" y1="143.8" x2="206.16" y2="142.3" stroke="#000" stroke-width="0.5" />
<text x="205.68" y="149.6" font-size="5" text-anchor="middle" fill="#000" >0.6</text>
<line x1="149.6" y1="96.4" x2="156.5" y2="96.4" stroke="#c8c8c8" stroke-width="0.8" />
<text x="158.3" y="97.7" font-size="3.8" text-anchor="start" fill="#000" >0.05 M</text>
<line x1="149.6" y1="100.8" x2="156.5" y2="100.8" stroke="#a8a8a8" stroke-width="0.8" />
<text x="158.3" y="102.1" font-size="3.8" text-anchor="start" fill="#000" >0.1 M</text>
<line x1="149.6" y1="105.2" x2="156.5" y2="105.2" stroke="#808080" stroke-width="0.8" />
<text x="158.3" y="106.5" font-size="3.8" text-anchor="start" fill="#000" >0.3 M</text>
<line x1="298" y1="154.4" x2="298" y2="151.4" stroke="#000" stroke-width="0.8" />
<line x1="324.1" y1="154.4" x2="324.1" y2="152.8" stroke="#000" stroke-width="0.8" />
<line x1="350.2" y1="154.4" x2="350.2" y2="151.4" stroke="#000" stroke-width="0.8" />
<line x1="376.3" y1="154.4" x2="376.3" y2="152.8" stroke="#000" stroke-width="0.8" />
<line x1="402.4" y1="154.4" x2="402.4" y2="151.4" stroke="#000" stroke-width="0.8" />
<line x1="428.5" y1="154.4" x2="428.5" y2="152.8" stroke="#000" stroke-width="0.8" />
<line x1="454.6" y1="154.4" x2="454.6" y2="151.4" stroke="#000" stroke-width="0.8" />
<line x1="285.6" y1="154.3" x2="288.6" y2="154.3" stroke="#000" stroke-width="0.8" />
<line x1="285.6" y1="131.47" x2="287.2" y2="131.47" stroke="#000" stroke-width="0.8" />
<line x1="285.6" y1="108.63" x2="288.6" y2="108.63" stroke="#000" stroke-width="0.8" />
<line x1="285.6" y1="85.8" x2="287.2" y2="85.8" stroke="#000" stroke-width="0.8" />
<line x1="285.6" y1="62.96" x2="288.6" y2="62.96" stroke="#000" stroke-width="0.8" />
<line x1="285.6" y1="40.12" x2="287.2" y2="40.12" stroke="#000" stroke-width="0.8" />
<line x1="285.6" y1="17.29" x2="288.6" y2="17.29" stroke="#000" stroke-width="0.8" />
<text x="283" y="157.9" font-size="10" text-anchor="end" fill="#000" >0.0</text>
<text x="298" y="167.3" font-size="10" text-anchor="middle" fill="#000" >0.0</text>
<text x="283" y="112.63" font-size="10" text-anchor="end" fill="#000" >4.0·10<tspan font-size="6.2" dy="-3.84">4</tspan></text>
<text x="349.7" y="167.3" font-size="10" text-anchor="middle" fill="#000" >4.0·10<tspan font-size="6.2" dy="-3.84">4</tspan></text>
<text x="283" y="66.96" font-size="10" text-anchor="end" fill="#000" >8.0·10<tspan font-size="6.2" dy="-3.84">4</tspan></text>
<text x="401.9" y="167.3" font-size="10" text-anchor="middle" fill="#000" >8.0·10<tspan font-size="6.2" dy="-3.84">4</tspan></text>
<text x="283" y="21.29" font-size="10" text-anchor="end" fill="#000" >1.2·10<tspan font-size="6.2" dy="-3.84">5</tspan></text>
<text x="454.1" y="167.3" font-size="10" text-anchor="middle" fill="#000" >1.2·10<tspan font-size="6.2" dy="-3.84">5</tspan></text>
<clipPath id="clipB"><rect x="285.5" y="17.3" width="169.2" height="137"/></clipPath>
<g clip-path="url(#clipB)">
<circle cx="298.5" cy="152.5" r="2.6" fill="url(#sb0)"/>
<circle cx="298.8" cy="148.5" r="2.6" fill="url(#sb0)"/>
<circle cx="299.3" cy="144.5" r="2.6" fill="url(#sb0)"/>
<circle cx="300.1" cy="140.8" r="2.6" fill="url(#sb0)"/>
<circle cx="301.2" cy="137.3" r="2.6" fill="url(#sb0)"/>
<circle cx="302.6" cy="133.8" r="2.6" fill="url(#sb0)"/>
<circle cx="304.3" cy="129.6" r="2.6" fill="url(#sb0)"/>
<circle cx="307" cy="124.1" r="2.6" fill="url(#sb0)"/>
<circle cx="310.3" cy="118.4" r="2.6" fill="url(#sb0)"/>
<circle cx="314.8" cy="111.8" r="2.6" fill="url(#sb0)"/>
<circle cx="321.3" cy="103.8" r="2.6" fill="url(#sb0)"/>
<circle cx="329.7" cy="95.4" r="2.6" fill="url(#sb0)"/>
<circle cx="339.6" cy="87.1" r="2.6" fill="url(#sb0)"/>
<circle cx="351.4" cy="79" r="2.6" fill="url(#sb0)"/>
<circle cx="364.8" cy="70.8" r="2.6" fill="url(#sb0)"/>
<circle cx="379.9" cy="64" r="2.6" fill="url(#sb0)"/>
<circle cx="394.3" cy="58.6" r="2.6" fill="url(#sb0)"/>
<circle cx="410.9" cy="52.8" r="2.6" fill="url(#sb0)"/>
<circle cx="426.4" cy="48.5" r="2.6" fill="url(#sb0)"/>
<circle cx="439.2" cy="45.4" r="2.6" fill="url(#sb0)"/>
<circle cx="298.6" cy="152.8" r="2.6" fill="url(#sb1)"/>
<circle cx="299.4" cy="150" r="2.6" fill="url(#sb1)"/>
<circle cx="300.3" cy="147.2" r="2.6" fill="url(#sb1)"/>
<circle cx="301.4" cy="144.6" r="2.6" fill="url(#sb1)"/>
<circle cx="302.6" cy="142" r="2.6" fill="url(#sb1)"/>
<circle cx="304.1" cy="139.4" r="2.6" fill="url(#sb1)"/>
<circle cx="298.8" cy="153" r="2.6" fill="url(#sb2)"/>
<circle cx="299.8" cy="151" r="2.6" fill="url(#sb2)"/>
<circle cx="301.2" cy="148.6" r="2.6" fill="url(#sb2)"/>
<circle cx="302.6" cy="146.3" r="2.6" fill="url(#sb2)"/>
<circle cx="304.1" cy="143.6" r="2.6" fill="url(#sb2)"/>
<circle cx="306.2" cy="140.3" r="2.6" fill="url(#sb2)"/>
<circle cx="308.5" cy="137.3" r="2.6" fill="url(#sb2)"/>
<circle cx="311.6" cy="135" r="2.6" fill="url(#sb2)"/>
<circle cx="314.5" cy="132.5" r="2.6" fill="url(#sb2)"/>
<circle cx="317.3" cy="129.6" r="2.6" fill="url(#sb2)"/>
<circle cx="321.1" cy="127" r="2.6" fill="url(#sb2)"/>
<circle cx="325.2" cy="123.9" r="2.6" fill="url(#sb2)"/>
<circle cx="299.2" cy="153.4" r="2.6" fill="url(#sb3)"/>
<circle cx="301" cy="152.8" r="2.6" fill="url(#sb3)"/>
<circle cx="303" cy="152" r="2.6" fill="url(#sb3)"/>
<circle cx="305" cy="151" r="2.6" fill="url(#sb3)"/>
<circle cx="307" cy="150.2" r="2.6" fill="url(#sb3)"/>
<circle cx="309" cy="149.3" r="2.6" fill="url(#sb3)"/>
<circle cx="311.6" cy="147.3" r="2.6" fill="url(#sb3)"/>
<circle cx="299.5" cy="153.5" r="2.6" fill="url(#sb4)"/>
<circle cx="302.1" cy="151.8" r="2.6" fill="url(#sb4)"/>
<circle cx="304.7" cy="150.4" r="2.6" fill="url(#sb4)"/>
<circle cx="307" cy="149.2" r="2.6" fill="url(#sb4)"/>
<circle cx="308.6" cy="148.4" r="2.6" fill="url(#sb4)"/>
<circle cx="310.6" cy="147.2" r="2.6" fill="url(#sb4)"/>
<circle cx="312" cy="146.5" r="2.6" fill="url(#sb4)"/>
<circle cx="298.6" cy="153.6" r="2.6" fill="url(#sb5)"/>
<circle cx="299.2" cy="153.4" r="2.6" fill="url(#sb5)"/>
<circle cx="298.9" cy="153.6" r="2.6" fill="url(#sb6)"/>
<circle cx="299.5" cy="153.4" r="2.6" fill="url(#sb6)"/>
<circle cx="299.2" cy="153.6" r="2.6" fill="url(#sb7)"/>
<circle cx="299.8" cy="153.4" r="2.6" fill="url(#sb7)"/>
<circle cx="299.5" cy="153.6" r="2.6" fill="url(#sb8)"/>
<circle cx="300.1" cy="153.4" r="2.6" fill="url(#sb8)"/>
</g>
<rect x="285.6" y="17.2" width="168.8" height="137.2" fill="none" stroke="#000" stroke-width="1.3"/>
<circle cx="293.3" cy="24.4" r="2.7" fill="url(#sb0)"/>
<text x="322.4" y="27" font-size="7.4" text-anchor="end" fill="#000" >0.05 M</text>
<circle cx="330.8" cy="24.4" r="2.7" fill="url(#sb1)"/>
<text x="358.2" y="27" font-size="7.4" text-anchor="end" fill="#000" >0.1 M</text>
<circle cx="293.3" cy="33.3" r="2.7" fill="url(#sb2)"/>
<text x="322.4" y="35.9" font-size="7.4" text-anchor="end" fill="#000" >0.3 M</text>
<circle cx="330.8" cy="33.3" r="2.7" fill="url(#sb3)"/>
<text x="358.2" y="35.9" font-size="7.4" text-anchor="end" fill="#000" >0.5 M</text>
<circle cx="293.3" cy="42.1" r="2.7" fill="url(#sb4)"/>
<text x="322.4" y="44.7" font-size="7.4" text-anchor="end" fill="#000" >0.7 M</text>
<circle cx="330.8" cy="42.1" r="2.7" fill="url(#sb5)"/>
<text x="358.2" y="44.7" font-size="7.4" text-anchor="end" fill="#000" >1.0 M</text>
<circle cx="293.3" cy="50.9" r="2.7" fill="url(#sb6)"/>
<text x="322.4" y="53.5" font-size="7.4" text-anchor="end" fill="#000" >1.3 M</text>
<circle cx="330.8" cy="50.9" r="2.7" fill="url(#sb7)"/>
<text x="358.2" y="53.5" font-size="7.4" text-anchor="end" fill="#000" >1.5 M</text>
<circle cx="293.3" cy="59.7" r="2.7" fill="url(#sb8)"/>
<text x="322.4" y="62.3" font-size="7.4" text-anchor="end" fill="#000" >1.7 M</text>
<text x="374.7" y="182.2" font-size="12.2" text-anchor="middle" fill="#000" >Z' (Ω)</text>
<text transform="translate(243.6,86.5) rotate(-90)" font-size="13.5" text-anchor="middle">-Z'' (Ω)</text>
<rect x="366.3" y="79.3" width="82.2" height="66.8" fill="#fff" />
<clipPath id="clipBi"><rect x="366.3" y="79.3" width="82.2" height="66.8"/></clipPath>
<g clip-path="url(#clipBi)">
<circle cx="371" cy="146.5" r="1.7" fill="url(#sb5)"/>
<circle cx="371.59" cy="146.11" r="1.7" fill="url(#sb5)"/>
<circle cx="372.66" cy="145.39" r="1.7" fill="url(#sb5)"/>
<circle cx="374.06" cy="144.47" r="1.7" fill="url(#sb5)"/>
<circle cx="375.83" cy="143.59" r="1.7" fill="url(#sb5)"/>
<circle cx="377.84" cy="142.58" r="1.7" fill="url(#sb5)"/>
<circle cx="380.13" cy="141.61" r="1.7" fill="url(#sb5)"/>
<circle cx="382.62" cy="140.58" r="1.7" fill="url(#sb5)"/>
<circle cx="385.26" cy="139.37" r="1.7" fill="url(#sb5)"/>
<circle cx="388.02" cy="137.99" r="1.7" fill="url(#sb5)"/>
<circle cx="390.94" cy="136.53" r="1.7" fill="url(#sb5)"/>
<circle cx="394.17" cy="135.37" r="1.7" fill="url(#sb5)"/>
<circle cx="397.55" cy="134.16" r="1.7" fill="url(#sb5)"/>
<circle cx="401.06" cy="132.85" r="1.7" fill="url(#sb5)"/>
<circle cx="404.71" cy="131.48" r="1.7" fill="url(#sb5)"/>
<circle cx="408.54" cy="130.24" r="1.7" fill="url(#sb5)"/>
<circle cx="412.54" cy="129.04" r="1.7" fill="url(#sb5)"/>
<circle cx="416.65" cy="127.76" r="1.7" fill="url(#sb5)"/>
<circle cx="420.86" cy="126.37" r="1.7" fill="url(#sb5)"/>
<circle cx="425.19" cy="124.95" r="1.7" fill="url(#sb5)"/>
<circle cx="429.7" cy="123.72" r="1.7" fill="url(#sb5)"/>
<circle cx="434.33" cy="122.46" r="1.7" fill="url(#sb5)"/>
<circle cx="439.1" cy="121.29" r="1.7" fill="url(#sb5)"/>
<circle cx="444" cy="120.15" r="1.7" fill="url(#sb5)"/>
<circle cx="449" cy="119" r="1.7" fill="url(#sb5)"/>
<circle cx="371.5" cy="146.5" r="1.7" fill="url(#sb6)"/>
<circle cx="372.03" cy="145.97" r="1.7" fill="url(#sb6)"/>
<circle cx="372.99" cy="145.01" r="1.7" fill="url(#sb6)"/>
<circle cx="374.23" cy="143.77" r="1.7" fill="url(#sb6)"/>
<circle cx="375.88" cy="142.53" r="1.7" fill="url(#sb6)"/>
<circle cx="377.89" cy="141.28" r="1.7" fill="url(#sb6)"/>
<circle cx="380.14" cy="139.96" r="1.7" fill="url(#sb6)"/>
<circle cx="382.65" cy="138.63" r="1.7" fill="url(#sb6)"/>
<circle cx="385.3" cy="137.12" r="1.7" fill="url(#sb6)"/>
<circle cx="387.88" cy="135.16" r="1.7" fill="url(#sb6)"/>
<circle cx="390.62" cy="133.09" r="1.7" fill="url(#sb6)"/>
<circle cx="393.36" cy="130.75" r="1.7" fill="url(#sb6)"/>
<circle cx="396.18" cy="128.23" r="1.7" fill="url(#sb6)"/>
<circle cx="399.47" cy="126.09" r="1.7" fill="url(#sb6)"/>
<circle cx="403.02" cy="124.06" r="1.7" fill="url(#sb6)"/>
<circle cx="406.97" cy="122.57" r="1.7" fill="url(#sb6)"/>
<circle cx="411.16" cy="121.26" r="1.7" fill="url(#sb6)"/>
<circle cx="415.44" cy="119.8" r="1.7" fill="url(#sb6)"/>
<circle cx="419.84" cy="118.26" r="1.7" fill="url(#sb6)"/>
<circle cx="424.36" cy="116.67" r="1.7" fill="url(#sb6)"/>
<circle cx="429.01" cy="115.05" r="1.7" fill="url(#sb6)"/>
<circle cx="433.8" cy="113.5" r="1.7" fill="url(#sb6)"/>
<circle cx="438.78" cy="112.12" r="1.7" fill="url(#sb6)"/>
<circle cx="443.85" cy="110.61" r="1.7" fill="url(#sb6)"/>
<circle cx="449" cy="109" r="1.7" fill="url(#sb6)"/>
<circle cx="376" cy="146.5" r="1.75" fill="url(#sb7)"/>
<circle cx="376.59" cy="146.28" r="1.75" fill="url(#sb7)"/>
<circle cx="377.78" cy="145.83" r="1.75" fill="url(#sb7)"/>
<circle cx="379.4" cy="145.23" r="1.75" fill="url(#sb7)"/>
<circle cx="381.32" cy="144.34" r="1.75" fill="url(#sb7)"/>
<circle cx="383.53" cy="143.24" r="1.75" fill="url(#sb7)"/>
<circle cx="385.97" cy="141.92" r="1.75" fill="url(#sb7)"/>
<circle cx="388.61" cy="140.33" r="1.75" fill="url(#sb7)"/>
<circle cx="391.44" cy="138.54" r="1.75" fill="url(#sb7)"/>
<circle cx="394.45" cy="136.53" r="1.75" fill="url(#sb7)"/>
<circle cx="397.74" cy="134.51" r="1.75" fill="url(#sb7)"/>
<circle cx="401.3" cy="132.47" r="1.75" fill="url(#sb7)"/>
<circle cx="404.99" cy="130.22" r="1.75" fill="url(#sb7)"/>
<circle cx="408.83" cy="127.75" r="1.75" fill="url(#sb7)"/>
<circle cx="412.7" cy="124.98" r="1.75" fill="url(#sb7)"/>
<circle cx="416.68" cy="121.99" r="1.75" fill="url(#sb7)"/>
<circle cx="420.69" cy="118.7" r="1.75" fill="url(#sb7)"/>
<circle cx="424.77" cy="115.2" r="1.75" fill="url(#sb7)"/>
<circle cx="429.29" cy="111.94" r="1.75" fill="url(#sb7)"/>
<circle cx="433.95" cy="108.54" r="1.75" fill="url(#sb7)"/>
<circle cx="438.7" cy="104.97" r="1.75" fill="url(#sb7)"/>
<circle cx="443.75" cy="101.5" r="1.75" fill="url(#sb7)"/>
<circle cx="449" cy="98" r="1.75" fill="url(#sb7)"/>
<circle cx="378" cy="146.5" r="1.75" fill="url(#sb8)"/>
<circle cx="378.6" cy="146.28" r="1.75" fill="url(#sb8)"/>
<circle cx="379.82" cy="145.83" r="1.75" fill="url(#sb8)"/>
<circle cx="381.49" cy="145.21" r="1.75" fill="url(#sb8)"/>
<circle cx="383.43" cy="144.27" r="1.75" fill="url(#sb8)"/>
<circle cx="385.57" cy="142.91" r="1.75" fill="url(#sb8)"/>
<circle cx="387.92" cy="141.31" r="1.75" fill="url(#sb8)"/>
<circle cx="390.45" cy="139.41" r="1.75" fill="url(#sb8)"/>
<circle cx="393.15" cy="137.3" r="1.75" fill="url(#sb8)"/>
<circle cx="396.05" cy="134.98" r="1.75" fill="url(#sb8)"/>
<circle cx="399.26" cy="132.67" r="1.75" fill="url(#sb8)"/>
<circle cx="402.72" cy="130.27" r="1.75" fill="url(#sb8)"/>
<circle cx="406.34" cy="127.71" r="1.75" fill="url(#sb8)"/>
<circle cx="410.24" cy="125.15" r="1.75" fill="url(#sb8)"/>
<circle cx="414.4" cy="122.57" r="1.75" fill="url(#sb8)"/>
<circle cx="418.05" cy="119.03" r="1.75" fill="url(#sb8)"/>
<circle cx="421.6" cy="115.08" r="1.75" fill="url(#sb8)"/>
<circle cx="425.15" cy="110.86" r="1.75" fill="url(#sb8)"/>
<circle cx="429.37" cy="107" r="1.75" fill="url(#sb8)"/>
<circle cx="434" cy="103.35" r="1.75" fill="url(#sb8)"/>
<circle cx="438.9" cy="99.73" r="1.75" fill="url(#sb8)"/>
<circle cx="443.67" cy="95.64" r="1.75" fill="url(#sb8)"/>
<circle cx="449" cy="92" r="1.75" fill="url(#sb8)"/>
<circle cx="383" cy="146" r="1.6" fill="url(#sb3)"/>
<circle cx="383.3" cy="142" r="1.6" fill="url(#sb3)"/>
<circle cx="383.6" cy="138" r="1.6" fill="url(#sb3)"/>
<circle cx="383.9" cy="134" r="1.6" fill="url(#sb3)"/>
<circle cx="384.3" cy="130.1" r="1.6" fill="url(#sb3)"/>
<circle cx="384.6" cy="126.3" r="1.6" fill="url(#sb3)"/>
<circle cx="385" cy="122" r="1.6" fill="url(#sb3)"/>
<circle cx="385.5" cy="116" r="1.6" fill="url(#sb3)"/>
<circle cx="386.3" cy="108.5" r="1.6" fill="url(#sb3)"/>
<circle cx="388.2" cy="99.2" r="1.6" fill="url(#sb3)"/>
<circle cx="390.5" cy="88" r="1.6" fill="url(#sb3)"/>
<circle cx="384" cy="146" r="1.6" fill="url(#sb4)"/>
<circle cx="384.3" cy="140" r="1.6" fill="url(#sb4)"/>
<circle cx="384.3" cy="134" r="1.6" fill="url(#sb4)"/>
<circle cx="385.3" cy="129.2" r="1.6" fill="url(#sb4)"/>
<circle cx="387.2" cy="124.3" r="1.6" fill="url(#sb4)"/>
<circle cx="389.2" cy="119.5" r="1.6" fill="url(#sb4)"/>
<circle cx="391.1" cy="115" r="1.6" fill="url(#sb4)"/>
<circle cx="392.4" cy="113.1" r="1.6" fill="url(#sb4)"/>
<circle cx="395.9" cy="104.6" r="1.6" fill="url(#sb4)"/>
<circle cx="396.5" cy="107.3" r="1.6" fill="url(#sb4)"/>
<circle cx="401.7" cy="95" r="1.6" fill="url(#sb4)"/>
<circle cx="402.3" cy="98.8" r="1.6" fill="url(#sb4)"/>
<circle cx="411" cy="83.4" r="1.6" fill="url(#sb4)"/>
<circle cx="411.4" cy="90" r="1.6" fill="url(#sb4)"/>
<circle cx="421.5" cy="79.5" r="1.6" fill="url(#sb4)"/>
</g>
<rect x="366.3" y="79.3" width="82.2" height="66.8" fill="none" stroke="#000" stroke-width="1"/>
<line x1="371.5" y1="146.1" x2="371.5" y2="144.5" stroke="#000" stroke-width="0.5" />
<text x="371.5" y="151.6" font-size="4.6" text-anchor="middle" fill="#000" >40</text>
<line x1="390.8" y1="146.1" x2="390.8" y2="144.5" stroke="#000" stroke-width="0.5" />
<text x="390.8" y="151.6" font-size="4.6" text-anchor="middle" fill="#000" >80</text>
<line x1="410.1" y1="146.1" x2="410.1" y2="144.5" stroke="#000" stroke-width="0.5" />
<text x="410.1" y="151.6" font-size="4.6" text-anchor="middle" fill="#000" >120</text>
<line x1="429.4" y1="146.1" x2="429.4" y2="144.5" stroke="#000" stroke-width="0.5" />
<text x="429.4" y="151.6" font-size="4.6" text-anchor="middle" fill="#000" >160</text>
<line x1="448.7" y1="146.1" x2="448.7" y2="144.5" stroke="#000" stroke-width="0.5" />
<text x="448.7" y="151.6" font-size="4.6" text-anchor="middle" fill="#000" >200</text>
<line x1="381.15" y1="146.1" x2="381.15" y2="145.2" stroke="#000" stroke-width="0.5" />
<line x1="400.45" y1="146.1" x2="400.45" y2="145.2" stroke="#000" stroke-width="0.5" />
<line x1="419.75" y1="146.1" x2="419.75" y2="145.2" stroke="#000" stroke-width="0.5" />
<line x1="439.05" y1="146.1" x2="439.05" y2="145.2" stroke="#000" stroke-width="0.5" />
<line x1="366.3" y1="146.1" x2="367.9" y2="146.1" stroke="#000" stroke-width="0.5" />
<text x="365" y="147.7" font-size="4.6" text-anchor="end" fill="#000" >0</text>
<line x1="366.3" y1="112.7" x2="367.9" y2="112.7" stroke="#000" stroke-width="0.5" />
<text x="365" y="114.3" font-size="4.6" text-anchor="end" fill="#000" >100</text>
<line x1="366.3" y1="79.3" x2="367.9" y2="79.3" stroke="#000" stroke-width="0.5" />
<text x="365" y="80.9" font-size="4.6" text-anchor="end" fill="#000" >200</text>
<line x1="366.3" y1="129.4" x2="367.2" y2="129.4" stroke="#000" stroke-width="0.5" />
<line x1="366.3" y1="96" x2="367.2" y2="96" stroke="#000" stroke-width="0.5" />
<rect x="519" y="43.1" width="7.3" height="111.3" fill="#fba7a5" />
<rect x="526.3" y="123.4" width="7.3" height="31" fill="#a6a6a6" />
<text x="526.3" y="163" font-size="8.5" text-anchor="middle" fill="#000" >0.05</text>
<rect x="536.91" y="68.6" width="7.3" height="85.8" fill="#fba7a5" />
<rect x="544.21" y="129.4" width="7.3" height="25" fill="#a6a6a6" />
<text x="544.21" y="163" font-size="8.5" text-anchor="middle" fill="#000" >0.1</text>
<rect x="554.82" y="81.5" width="7.3" height="72.9" fill="#fba7a5" />
<rect x="562.12" y="132.9" width="7.3" height="21.5" fill="#a6a6a6" />
<text x="562.12" y="163" font-size="8.5" text-anchor="middle" fill="#000" >0.3</text>
<rect x="572.73" y="94" width="7.3" height="60.4" fill="#fba7a5" />
<rect x="580.03" y="133.1" width="7.3" height="21.3" fill="#a6a6a6" />
<text x="580.03" y="163" font-size="8.5" text-anchor="middle" fill="#000" >0.5</text>
<rect x="590.64" y="101" width="7.3" height="53.4" fill="#fba7a5" />
<rect x="597.94" y="133.1" width="7.3" height="21.3" fill="#a6a6a6" />
<text x="597.94" y="163" font-size="8.5" text-anchor="middle" fill="#000" >0.7</text>
<rect x="608.55" y="112.3" width="7.3" height="42.1" fill="#fba7a5" />
<rect x="615.85" y="135.1" width="7.3" height="19.3" fill="#a6a6a6" />
<text x="615.85" y="163" font-size="8.5" text-anchor="middle" fill="#000" >1.0</text>
<rect x="626.46" y="129.1" width="7.3" height="25.3" fill="#fba7a5" />
<rect x="633.76" y="134.1" width="7.3" height="20.3" fill="#a6a6a6" />
<text x="633.76" y="163" font-size="8.5" text-anchor="middle" fill="#000" >1.3</text>
<rect x="644.37" y="137.4" width="7.3" height="17" fill="#fba7a5" />
<rect x="651.67" y="137.4" width="7.3" height="17" fill="#a6a6a6" />
<text x="651.67" y="163" font-size="8.5" text-anchor="middle" fill="#000" >1.5</text>
<rect x="662.28" y="142.4" width="7.3" height="12" fill="#fba7a5" />
<rect x="669.58" y="132.9" width="7.3" height="21.5" fill="#a6a6a6" />
<text x="669.58" y="163" font-size="8.5" text-anchor="middle" fill="#000" >1.7</text>
<line x1="512.6" y1="154.4" x2="515.6" y2="154.4" stroke="#000" stroke-width="0.7" />
<line x1="512.6" y1="146.13" x2="514.1" y2="146.13" stroke="#000" stroke-width="0.7" />
<line x1="512.6" y1="141.29" x2="514.1" y2="141.29" stroke="#000" stroke-width="0.7" />
<line x1="512.6" y1="137.86" x2="514.1" y2="137.86" stroke="#000" stroke-width="0.7" />
<line x1="512.6" y1="135.19" x2="514.1" y2="135.19" stroke="#000" stroke-width="0.7" />
<line x1="512.6" y1="133.02" x2="514.1" y2="133.02" stroke="#000" stroke-width="0.7" />
<line x1="512.6" y1="131.18" x2="514.1" y2="131.18" stroke="#000" stroke-width="0.7" />
<line x1="512.6" y1="129.58" x2="514.1" y2="129.58" stroke="#000" stroke-width="0.7" />
<line x1="512.6" y1="128.18" x2="514.1" y2="128.18" stroke="#000" stroke-width="0.7" />
<line x1="512.6" y1="126.92" x2="515.6" y2="126.92" stroke="#000" stroke-width="0.7" />
<line x1="512.6" y1="118.65" x2="514.1" y2="118.65" stroke="#000" stroke-width="0.7" />
<line x1="512.6" y1="113.81" x2="514.1" y2="113.81" stroke="#000" stroke-width="0.7" />
<line x1="512.6" y1="110.38" x2="514.1" y2="110.38" stroke="#000" stroke-width="0.7" />
<line x1="512.6" y1="107.71" x2="514.1" y2="107.71" stroke="#000" stroke-width="0.7" />
<line x1="512.6" y1="105.54" x2="514.1" y2="105.54" stroke="#000" stroke-width="0.7" />
<line x1="512.6" y1="103.7" x2="514.1" y2="103.7" stroke="#000" stroke-width="0.7" />
<line x1="512.6" y1="102.1" x2="514.1" y2="102.1" stroke="#000" stroke-width="0.7" />
<line x1="512.6" y1="100.7" x2="514.1" y2="100.7" stroke="#000" stroke-width="0.7" />
<line x1="512.6" y1="99.44" x2="515.6" y2="99.44" stroke="#000" stroke-width="0.7" />
<line x1="512.6" y1="91.17" x2="514.1" y2="91.17" stroke="#000" stroke-width="0.7" />
<line x1="512.6" y1="86.33" x2="514.1" y2="86.33" stroke="#000" stroke-width="0.7" />
<line x1="512.6" y1="82.9" x2="514.1" y2="82.9" stroke="#000" stroke-width="0.7" />
<line x1="512.6" y1="80.23" x2="514.1" y2="80.23" stroke="#000" stroke-width="0.7" />
<line x1="512.6" y1="78.06" x2="514.1" y2="78.06" stroke="#000" stroke-width="0.7" />
<line x1="512.6" y1="76.22" x2="514.1" y2="76.22" stroke="#000" stroke-width="0.7" />
<line x1="512.6" y1="74.62" x2="514.1" y2="74.62" stroke="#000" stroke-width="0.7" />
<line x1="512.6" y1="73.22" x2="514.1" y2="73.22" stroke="#000" stroke-width="0.7" />
<line x1="512.6" y1="71.96" x2="515.6" y2="71.96" stroke="#000" stroke-width="0.7" />
<line x1="512.6" y1="63.69" x2="514.1" y2="63.69" stroke="#000" stroke-width="0.7" />
<line x1="512.6" y1="58.85" x2="514.1" y2="58.85" stroke="#000" stroke-width="0.7" />
<line x1="512.6" y1="55.42" x2="514.1" y2="55.42" stroke="#000" stroke-width="0.7" />
<line x1="512.6" y1="52.75" x2="514.1" y2="52.75" stroke="#000" stroke-width="0.7" />
<line x1="512.6" y1="50.58" x2="514.1" y2="50.58" stroke="#000" stroke-width="0.7" />
<line x1="512.6" y1="48.74" x2="514.1" y2="48.74" stroke="#000" stroke-width="0.7" />
<line x1="512.6" y1="47.14" x2="514.1" y2="47.14" stroke="#000" stroke-width="0.7" />
<line x1="512.6" y1="45.74" x2="514.1" y2="45.74" stroke="#000" stroke-width="0.7" />
<line x1="512.6" y1="44.48" x2="515.6" y2="44.48" stroke="#000" stroke-width="0.7" />
<line x1="512.6" y1="36.21" x2="514.1" y2="36.21" stroke="#000" stroke-width="0.7" />
<line x1="512.6" y1="31.37" x2="514.1" y2="31.37" stroke="#000" stroke-width="0.7" />
<line x1="512.6" y1="27.94" x2="514.1" y2="27.94" stroke="#000" stroke-width="0.7" />
<line x1="512.6" y1="25.27" x2="514.1" y2="25.27" stroke="#000" stroke-width="0.7" />
<line x1="512.6" y1="23.1" x2="514.1" y2="23.1" stroke="#000" stroke-width="0.7" />
<line x1="512.6" y1="21.26" x2="514.1" y2="21.26" stroke="#000" stroke-width="0.7" />
<line x1="512.6" y1="19.66" x2="514.1" y2="19.66" stroke="#000" stroke-width="0.7" />
<line x1="512.6" y1="18.26" x2="514.1" y2="18.26" stroke="#000" stroke-width="0.7" />
<line x1="512.6" y1="17" x2="515.6" y2="17" stroke="#000" stroke-width="0.7" />
<line x1="526.3" y1="154.4" x2="526.3" y2="151.9" stroke="#000" stroke-width="0.7" />
<line x1="544.21" y1="154.4" x2="544.21" y2="151.9" stroke="#000" stroke-width="0.7" />
<line x1="562.12" y1="154.4" x2="562.12" y2="151.9" stroke="#000" stroke-width="0.7" />
<line x1="580.03" y1="154.4" x2="580.03" y2="151.9" stroke="#000" stroke-width="0.7" />
<line x1="597.94" y1="154.4" x2="597.94" y2="151.9" stroke="#000" stroke-width="0.7" />
<line x1="615.85" y1="154.4" x2="615.85" y2="151.9" stroke="#000" stroke-width="0.7" />
<line x1="633.76" y1="154.4" x2="633.76" y2="151.9" stroke="#000" stroke-width="0.7" />
<line x1="651.67" y1="154.4" x2="651.67" y2="151.9" stroke="#000" stroke-width="0.7" />
<line x1="669.58" y1="154.4" x2="669.58" y2="151.9" stroke="#000" stroke-width="0.7" />
<text x="510.2" y="160.5" font-size="9.2" text-anchor="end">10<tspan font-size="5.8" dy="-3.8">1</tspan></text>
<text x="510.2" y="133.02" font-size="9.2" text-anchor="end">10<tspan font-size="5.8" dy="-3.8">2</tspan></text>
<text x="510.2" y="105.54" font-size="9.2" text-anchor="end">10<tspan font-size="5.8" dy="-3.8">3</tspan></text>
<text x="510.2" y="78.06" font-size="9.2" text-anchor="end">10<tspan font-size="5.8" dy="-3.8">4</tspan></text>
<text x="510.2" y="50.58" font-size="9.2" text-anchor="end">10<tspan font-size="5.8" dy="-3.8">5</tspan></text>
<text x="510.2" y="23.1" font-size="9.2" text-anchor="end">10<tspan font-size="5.8" dy="-3.8">6</tspan></text>
<rect x="512.6" y="16.9" width="170.9" height="137.5" fill="none" stroke="#000" stroke-width="1.3"/>
<text x="598" y="176.2" font-size="11.7" text-anchor="middle" fill="#000" >The concentration of CuCl<tspan font-size="7.8" dy="2.73">2</tspan><tspan dy="-2.7"> (M)</tspan></text>
<text transform="translate(492.2,90) rotate(-90)" font-size="11.9" text-anchor="middle">Resistance (Ω)</text>
<rect x="518.1" y="19.4" width="16.3" height="7.9" fill="#fba7a5" />
<rect x="518.1" y="29.9" width="16.3" height="7.6" fill="#a6a6a6" />
<text x="536" y="26" font-size="7.4" text-anchor="start" fill="#222" >R<tspan font-size="5" dy="1.75">ct</tspan></text>
<text x="536" y="36" font-size="7.4" text-anchor="start" fill="#222" >R<tspan font-size="5" dy="1.75">s</tspan></text>
<path d="M541.2,49.6 L551.1,49.6 L552.9,52.3 L557.4,47.1 L562.3,52 L565.6,47.1 L568.3,49.6 L587.5,49.6" fill="none" stroke="#222" stroke-width="0.9"/>
<path d="M587.5,35.8 L587.5,67.55 M661.1,35.8 L661.1,67.55 M661.1,49.6 L670.3,49.6" fill="none" stroke="#222" stroke-width="0.9"/>
<path d="M587.5,35.8 L622.1,35.8 M627.1,35.8 L661.1,35.8 M622.1,31.3 L622.1,41.4 M627.1,31.3 L627.1,41.4" fill="none" stroke="#222" stroke-width="0.9"/>
<path d="M587.5,67.55 L607.1,67.55 L609,70.1 L613.8,64.7 L618,69.9 L622.3,64.7 L624.7,67.55 L642.5,67.55 M651.9,67.55 L661.1,67.55" fill="none" stroke="#222" stroke-width="0.9"/>
<circle cx="647.2" cy="67.8" r="4.6" fill="#fff" stroke="#222" stroke-width="0.9"/>
<text x="647.2" y="70.1" font-size="6.2" text-anchor="middle" fill="#222" font-style="italic">W</text>
<text x="623.5" y="27.8" font-size="8" text-anchor="middle" fill="#222" >CPE</text>
<text x="611.6" y="60.1" font-size="7.6" text-anchor="start" fill="#ee1c1c" font-weight="bold">R<tspan font-size="5.6" dy="1.96">ct</tspan></text>
<text x="642.6" y="60.1" font-size="7.8" text-anchor="start" fill="#222" >Z<tspan font-size="5.6" dy="1.9" font-style="italic">w</tspan></text>
<text x="553.8" y="42.7" font-size="7.6" text-anchor="start" fill="#222" font-weight="bold">R<tspan font-size="5.4" dy="1.89">s</tspan></text>
<rect x="47.4" y="224.89" width="5.7" height="110.21" fill="#a0a0a0" />
<rect x="53.1" y="331.07" width="5.8" height="4.03" fill="#f9a9a5" />
<text x="51.9" y="344.3" font-size="8.3" text-anchor="middle" fill="#000" >0.05</text>
<rect x="61.53" y="211.45" width="5.7" height="123.65" fill="#a0a0a0" />
<rect x="67.23" y="327.04" width="5.8" height="8.06" fill="#f9a9a5" />
<text x="67.23" y="344.3" font-size="8.3" text-anchor="middle" fill="#000" >0.1</text>
<rect x="75.66" y="241.83" width="5.7" height="93.27" fill="#a0a0a0" />
<rect x="81.36" y="322" width="5.8" height="13.1" fill="#f9a9a5" />
<text x="81.36" y="344.3" font-size="8.3" text-anchor="middle" fill="#000" >0.3</text>
<rect x="89.79" y="257.69" width="5.7" height="77.41" fill="#a0a0a0" />
<rect x="95.49" y="316.28" width="5.8" height="18.82" fill="#f9a9a5" />
<text x="95.49" y="344.3" font-size="8.3" text-anchor="middle" fill="#000" >0.5</text>
<rect x="103.92" y="269.08" width="5.7" height="66.02" fill="#a0a0a0" />
<rect x="109.62" y="305.53" width="5.8" height="29.57" fill="#f9a9a5" />
<text x="109.62" y="344.3" font-size="8.3" text-anchor="middle" fill="#000" >0.7</text>
<rect x="118.05" y="272.9" width="5.7" height="62.2" fill="#a0a0a0" />
<rect x="123.75" y="280" width="5.8" height="55.1" fill="#f9a9a5" />
<text x="123.75" y="344.3" font-size="8.3" text-anchor="middle" fill="#000" >1.0</text>
<rect x="132.18" y="283.49" width="5.7" height="51.61" fill="#a0a0a0" />
<rect x="137.88" y="264.88" width="5.8" height="70.22" fill="#f9a9a5" />
<text x="137.88" y="344.3" font-size="8.3" text-anchor="middle" fill="#000" >1.3</text>
<rect x="146.31" y="290.48" width="5.7" height="44.62" fill="#a0a0a0" />
<rect x="152.01" y="241.02" width="5.8" height="94.08" fill="#f9a9a5" />
<text x="152.01" y="344.3" font-size="8.3" text-anchor="middle" fill="#000" >1.5</text>
<rect x="160.44" y="299.08" width="5.7" height="36.02" fill="#a0a0a0" />
<rect x="166.14" y="249.08" width="5.8" height="86.02" fill="#f9a9a5" />
<text x="166.14" y="344.3" font-size="8.3" text-anchor="middle" fill="#000" >1.7</text>
<path d="M53.1,296.12 L53.78,295.35 L54.64,294.32 L55.64,293.09 L56.76,291.71 L57.99,290.23 L59.28,288.68 L60.63,287.12 L62,285.6 L63.37,284.16 L64.71,282.85 L66.01,281.71 L67.23,280.8 L68.41,280.09 L69.59,279.51 L70.76,279.05 L71.94,278.68 L73.12,278.4 L74.29,278.18 L75.47,278.01 L76.65,277.88 L77.83,277.75 L79.01,277.63 L80.18,277.49 L81.36,277.31 L82.54,277.15 L83.72,277.07 L84.89,277.05 L86.07,277.07 L87.25,277.1 L88.42,277.12 L89.6,277.12 L90.78,277.07 L91.96,276.95 L93.13,276.74 L94.31,276.42 L95.49,275.96 L96.67,275.42 L97.85,274.83 L99.02,274.19 L100.2,273.5 L101.38,272.73 L102.56,271.88 L103.73,270.95 L104.91,269.92 L106.09,268.79 L107.27,267.54 L108.44,266.17 L109.62,264.67 L110.8,262.95 L111.98,260.95 L113.15,258.74 L114.33,256.36 L115.51,253.88 L116.69,251.35 L117.86,248.83 L119.04,246.38 L120.22,244.04 L121.39,241.89 L122.57,239.96 L123.75,238.33 L124.93,236.97 L126.11,235.8 L127.28,234.8 L128.46,233.94 L129.64,233.21 L130.81,232.57 L131.99,232.01 L133.17,231.49 L134.35,231.01 L135.53,230.52 L136.7,230.01 L137.88,229.46 L139.06,228.84 L140.23,228.15 L141.41,227.42 L142.59,226.69 L143.77,225.99 L144.94,225.35 L146.12,224.79 L147.3,224.34 L148.48,224.05 L149.66,223.93 L150.83,224.02 L152.01,224.35 L153.23,225.01 L154.53,226 L155.87,227.27 L157.24,228.75 L158.61,230.39 L159.96,232.1 L161.25,233.83 L162.48,235.51 L163.6,237.09 L164.6,238.48 L165.46,239.64 L166.14,240.48" fill="none" stroke="#5470ee" stroke-width="1.3" stroke-linejoin="round" />
<circle cx="53.1" cy="296.12" r="2.2" fill="#9fb0f6" stroke="#5470ee" stroke-width="1.0"/>
<circle cx="67.23" cy="280.8" r="2.2" fill="#9fb0f6" stroke="#5470ee" stroke-width="1.0"/>
<circle cx="81.36" cy="277.31" r="2.2" fill="#9fb0f6" stroke="#5470ee" stroke-width="1.0"/>
<circle cx="95.49" cy="275.96" r="2.2" fill="#9fb0f6" stroke="#5470ee" stroke-width="1.0"/>
<circle cx="109.62" cy="264.67" r="2.2" fill="#9fb0f6" stroke="#5470ee" stroke-width="1.0"/>
<circle cx="123.75" cy="238.33" r="2.2" fill="#9fb0f6" stroke="#5470ee" stroke-width="1.0"/>
<circle cx="137.88" cy="229.46" r="2.2" fill="#9fb0f6" stroke="#5470ee" stroke-width="1.0"/>
<circle cx="152.01" cy="224.35" r="2.2" fill="#9fb0f6" stroke="#5470ee" stroke-width="1.0"/>
<circle cx="166.14" cy="240.48" r="2.2" fill="#9fb0f6" stroke="#5470ee" stroke-width="1.0"/>
<polygon points="64.5,204.2 65.19,206.05 67.16,206.13 65.62,207.36 66.15,209.27 64.5,208.18 62.85,209.27 63.38,207.36 61.84,206.13 63.81,206.05" fill="#ee1111" />
<polygon points="151.8,216 152.49,217.85 154.46,217.93 152.92,219.16 153.45,221.07 151.8,219.98 150.15,221.07 150.68,219.16 149.14,217.93 151.11,217.85" fill="#ee1111" />
<line x1="40.2" y1="335.1" x2="43.2" y2="335.1" stroke="#000" stroke-width="0.8" />
<text x="38" y="338" font-size="8.8" text-anchor="end" fill="#000" >0</text>
<line x1="40.2" y1="321.66" x2="41.7" y2="321.66" stroke="#000" stroke-width="0.8" />
<line x1="40.2" y1="308.22" x2="43.2" y2="308.22" stroke="#000" stroke-width="0.8" />
<text x="38" y="311.12" font-size="8.8" text-anchor="end" fill="#000" >-50</text>
<line x1="40.2" y1="294.78" x2="41.7" y2="294.78" stroke="#000" stroke-width="0.8" />
<line x1="40.2" y1="281.34" x2="43.2" y2="281.34" stroke="#000" stroke-width="0.8" />
<text x="38" y="284.24" font-size="8.8" text-anchor="end" fill="#000" >-100</text>
<line x1="40.2" y1="267.9" x2="41.7" y2="267.9" stroke="#000" stroke-width="0.8" />
<line x1="40.2" y1="254.46" x2="43.2" y2="254.46" stroke="#000" stroke-width="0.8" />
<text x="38" y="257.36" font-size="8.8" text-anchor="end" fill="#000" >-150</text>
<line x1="40.2" y1="241.02" x2="41.7" y2="241.02" stroke="#000" stroke-width="0.8" />
<line x1="40.2" y1="227.58" x2="43.2" y2="227.58" stroke="#000" stroke-width="0.8" />
<text x="38" y="230.48" font-size="8.8" text-anchor="end" fill="#000" >-200</text>
<line x1="40.2" y1="214.14" x2="41.7" y2="214.14" stroke="#000" stroke-width="0.8" />
<line x1="40.2" y1="200.7" x2="43.2" y2="200.7" stroke="#000" stroke-width="0.8" />
<text x="38" y="203.6" font-size="8.8" text-anchor="end" fill="#000" >-250</text>
<line x1="53.1" y1="335.1" x2="53.1" y2="332.6" stroke="#000" stroke-width="0.7" />
<line x1="67.23" y1="335.1" x2="67.23" y2="332.6" stroke="#000" stroke-width="0.7" />
<line x1="81.36" y1="335.1" x2="81.36" y2="332.6" stroke="#000" stroke-width="0.7" />
<line x1="95.49" y1="335.1" x2="95.49" y2="332.6" stroke="#000" stroke-width="0.7" />
<line x1="109.62" y1="335.1" x2="109.62" y2="332.6" stroke="#000" stroke-width="0.7" />
<line x1="123.75" y1="335.1" x2="123.75" y2="332.6" stroke="#000" stroke-width="0.7" />
<line x1="137.88" y1="335.1" x2="137.88" y2="332.6" stroke="#000" stroke-width="0.7" />
<line x1="152.01" y1="335.1" x2="152.01" y2="332.6" stroke="#000" stroke-width="0.7" />
<line x1="166.14" y1="335.1" x2="166.14" y2="332.6" stroke="#000" stroke-width="0.7" />
<line x1="176.6" y1="200.8" x2="176.6" y2="335.7" stroke="#ff2020" stroke-width="1.3" />
<line x1="176.6" y1="335.1" x2="173.6" y2="335.1" stroke="#ff2020" stroke-width="0.8" />
<text x="178.8" y="337.9" font-size="8" text-anchor="start" fill="#ff2020" >0.0</text>
<line x1="176.6" y1="318.3" x2="175.1" y2="318.3" stroke="#ff2020" stroke-width="0.8" />
<line x1="176.6" y1="301.5" x2="173.6" y2="301.5" stroke="#ff2020" stroke-width="0.8" />
<text x="178.8" y="304.3" font-size="8" text-anchor="start" fill="#ff2020" >-0.5</text>
<line x1="176.6" y1="284.7" x2="175.1" y2="284.7" stroke="#ff2020" stroke-width="0.8" />
<line x1="176.6" y1="267.9" x2="173.6" y2="267.9" stroke="#ff2020" stroke-width="0.8" />
<text x="178.8" y="270.7" font-size="8" text-anchor="start" fill="#ff2020" >-1.0</text>
<line x1="176.6" y1="251.1" x2="175.1" y2="251.1" stroke="#ff2020" stroke-width="0.8" />
<line x1="176.6" y1="234.3" x2="173.6" y2="234.3" stroke="#ff2020" stroke-width="0.8" />
<text x="178.8" y="237.1" font-size="8" text-anchor="start" fill="#ff2020" >-1.5</text>
<line x1="176.6" y1="217.5" x2="175.1" y2="217.5" stroke="#ff2020" stroke-width="0.8" />
<line x1="176.6" y1="200.7" x2="173.6" y2="200.7" stroke="#ff2020" stroke-width="0.8" />
<text x="178.8" y="203.5" font-size="8" text-anchor="start" fill="#ff2020" >-2.0</text>
<line x1="213.5" y1="200.8" x2="213.5" y2="335.1" stroke="#2020e0" stroke-width="1.3" />
<line x1="213.5" y1="335.1" x2="210.9" y2="335.1" stroke="#2020e0" stroke-width="0.8" />
<text x="216.8" y="338.4" font-size="8.7" text-anchor="start" fill="#2020e0" >-10</text>
<line x1="213.5" y1="321.66" x2="212.1" y2="321.66" stroke="#2020e0" stroke-width="0.8" />
<line x1="213.5" y1="308.22" x2="210.9" y2="308.22" stroke="#2020e0" stroke-width="0.8" />
<text x="216.8" y="311.52" font-size="8.7" text-anchor="start" fill="#2020e0" >0</text>
<line x1="213.5" y1="294.78" x2="212.1" y2="294.78" stroke="#2020e0" stroke-width="0.8" />
<line x1="213.5" y1="281.34" x2="210.9" y2="281.34" stroke="#2020e0" stroke-width="0.8" />
<text x="216.8" y="284.64" font-size="8.7" text-anchor="start" fill="#2020e0" >10</text>
<line x1="213.5" y1="267.9" x2="212.1" y2="267.9" stroke="#2020e0" stroke-width="0.8" />
<line x1="213.5" y1="254.46" x2="210.9" y2="254.46" stroke="#2020e0" stroke-width="0.8" />
<text x="216.8" y="257.76" font-size="8.7" text-anchor="start" fill="#2020e0" >20</text>
<line x1="213.5" y1="241.02" x2="212.1" y2="241.02" stroke="#2020e0" stroke-width="0.8" />
<line x1="213.5" y1="227.58" x2="210.9" y2="227.58" stroke="#2020e0" stroke-width="0.8" />
<text x="216.8" y="230.88" font-size="8.7" text-anchor="start" fill="#2020e0" >30</text>
<line x1="213.5" y1="214.14" x2="212.1" y2="214.14" stroke="#2020e0" stroke-width="0.8" />
<line x1="213.5" y1="200.7" x2="210.9" y2="200.7" stroke="#2020e0" stroke-width="0.8" />
<text x="216.8" y="204" font-size="8.7" text-anchor="start" fill="#2020e0" >40</text>
<path d="M176.6,200.8 L40.2,200.8 L40.2,335.1 L176.6,335.1" fill="none" stroke="#000" stroke-width="1.3"/>
<text x="109.3" y="355.3" font-size="11.3" text-anchor="middle" fill="#000" >The concentration of CuCl<tspan font-size="7.6" dy="2.66">2</tspan><tspan dy="-2.66"> (M)</tspan></text>
<text transform="translate(15.3,267.75) scale(1,1.0) rotate(-90)" font-size="11.6" text-anchor="middle">Thermal Voltage (mV)</text>
<text transform="translate(204.1,267.5) rotate(-90)" font-size="11.9" text-anchor="middle" fill="#ff2020">Current density (A m<tspan font-size="7.5" dy="-4.12">-2</tspan><tspan dy="4.1">)</tspan></text>
<text transform="translate(235.9,267.5) rotate(-90)" font-size="11.6" text-anchor="middle" fill="#2020e0">Power density (mW m<tspan font-size="7.5" dy="-4.12">-2</tspan><tspan dy="4.1">)</tspan></text>
<clipPath id="clipE"><rect x="230" y="182" width="230" height="181"/></clipPath>
<g clip-path="url(#clipE)">
<ellipse cx="367.7" cy="268.3" rx="62.4" ry="26.3" transform="rotate(37.3 367.7 268.3)" fill="url(#ell)"/>
<ellipse cx="307.6" cy="301.3" rx="8.75" ry="22.7" fill="#d9d9d9"/>
<path d="M336.6,232.6 L336.6,256.7" stroke="#f46a6a" stroke-width="0.8" stroke-dasharray="2,1.5" fill="none"/>
<path d="M336.6,256.7 L408.5,299.6" stroke="#f06060" stroke-width="0.8" stroke-dasharray="2.5,2" fill="none"/>
<polygon points="336.6,229.7 337.32,231.61 339.36,231.7 337.76,232.98 338.3,234.95 336.6,233.82 334.9,234.95 335.44,232.98 333.84,231.7 335.88,231.61" fill="#ee1111" />
<polygon points="336.6,253.8 337.32,255.71 339.36,255.8 337.76,257.08 338.3,259.05 336.6,257.92 334.9,259.05 335.44,257.08 333.84,255.8 335.88,255.71" fill="#ee1111" />
<polygon points="343.6,257.3 344.32,259.21 346.36,259.3 344.76,260.58 345.3,262.55 343.6,261.42 341.9,262.55 342.44,260.58 340.84,259.3 342.88,259.21" fill="#ee1111" />
<polygon points="358.8,263.1 359.52,265.01 361.56,265.1 359.96,266.38 360.5,268.35 358.8,267.22 357.1,268.35 357.64,266.38 356.04,265.1 358.08,265.01" fill="#ee1111" />
<polygon points="398.5,283.1 399.22,285.01 401.26,285.1 399.66,286.38 400.2,288.35 398.5,287.22 396.8,288.35 397.34,286.38 395.74,285.1 397.78,285.01" fill="#ee1111" />
<polygon points="401,290.5 401.72,292.41 403.76,292.5 402.16,293.78 402.7,295.75 401,294.62 399.3,295.75 399.84,293.78 398.24,292.5 400.28,292.41" fill="#ee1111" />
<polygon points="402.3,293 403.02,294.91 405.06,295 403.46,296.28 404,298.25 402.3,297.12 400.6,298.25 401.14,296.28 399.54,295 401.58,294.91" fill="#ee1111" />
<polygon points="408.5,296.7 409.22,298.61 411.26,298.7 409.66,299.98 410.2,301.95 408.5,300.82 406.8,301.95 407.34,299.98 405.74,298.7 407.78,298.61" fill="#ee1111" />
<text x="302.6" y="221.8" font-size="8.1" text-anchor="start" fill="#f02020" >Binary PVA-CuCl<tspan font-size="5.8" dy="2.03">2</tspan><tspan dy="-2.0"> gels</tspan></text>
<text x="338.6" y="250" font-size="5.2" text-anchor="start" fill="#111" font-weight="bold">Electrode modify</text>
<text transform="translate(331,266.3) rotate(31.4)" font-size="5.2" font-weight="bold" font-style="italic" fill="#111">Increased CuCl<tspan font-size="4" dy="1.4">2</tspan><tspan dy="-1.4"> ( from 0.1 to 1.5 M)</tspan></text>
<path d="M304.3,284 L306.4,287.9 L302.2,287.9 Z" fill="#e08848" stroke="#c86820" stroke-width="0.6"/>
<path d="M304.7,308.4 L306.8,312.3 L302.6,312.3 Z" fill="#f4b0b0" stroke="#d01010" stroke-width="0.9"/>
<circle cx="308" cy="314.4" r="2.2" fill="#f0a0f0" stroke="#c040d0" stroke-width="0.6"/>
<circle cx="307" cy="315.3" r="2.1" fill="#a0b0ff" stroke="#3050e0" stroke-width="0.6"/>
<rect x="304.8" y="315.5" width="4" height="3.8" fill="#9cd09c" stroke="#208020" stroke-width="0.7"/>
<rect x="304.8" y="317.4" width="4" height="3.6" fill="#e8d0d0" stroke="#801818" stroke-width="0.7"/>
<text transform="translate(295.4,287) rotate(-90)" font-size="8.0" text-anchor="middle" fill="#555">Ternary N-type i-TE gels</text>
</g>
<line x1="284.5" y1="327.13" x2="286" y2="327.13" stroke="#000" stroke-width="0.8" />
<line x1="284.5" y1="317.3" x2="287.5" y2="317.3" stroke="#000" stroke-width="0.8" />
<text x="281.5" y="320.8" font-size="9.5" text-anchor="end" fill="#000" >0.0</text>
<line x1="284.5" y1="307.47" x2="286" y2="307.47" stroke="#000" stroke-width="0.8" />
<line x1="284.5" y1="297.63" x2="286" y2="297.63" stroke="#000" stroke-width="0.8" />
<line x1="284.5" y1="287.8" x2="286" y2="287.8" stroke="#000" stroke-width="0.8" />
<line x1="284.5" y1="277.97" x2="287.5" y2="277.97" stroke="#000" stroke-width="0.8" />
<text x="281.5" y="281.47" font-size="9.5" text-anchor="end" fill="#000" >0.2</text>
<line x1="284.5" y1="268.13" x2="286" y2="268.13" stroke="#000" stroke-width="0.8" />
<line x1="284.5" y1="258.3" x2="286" y2="258.3" stroke="#000" stroke-width="0.8" />
<line x1="284.5" y1="248.47" x2="286" y2="248.47" stroke="#000" stroke-width="0.8" />
<line x1="284.5" y1="238.63" x2="287.5" y2="238.63" stroke="#000" stroke-width="0.8" />
<text x="281.5" y="242.13" font-size="9.5" text-anchor="end" fill="#000" >0.4</text>
<line x1="284.5" y1="228.8" x2="286" y2="228.8" stroke="#000" stroke-width="0.8" />
<line x1="284.5" y1="218.97" x2="286" y2="218.97" stroke="#000" stroke-width="0.8" />
<line x1="284.5" y1="209.13" x2="286" y2="209.13" stroke="#000" stroke-width="0.8" />
<line x1="284.5" y1="199.3" x2="287.5" y2="199.3" stroke="#000" stroke-width="0.8" />
<text x="281.5" y="202.8" font-size="9.5" text-anchor="end" fill="#000" >0.6</text>
<line x1="301.7" y1="337.2" x2="301.7" y2="334.2" stroke="#000" stroke-width="0.8" />
<text x="301.7" y="347.9" font-size="9.4" text-anchor="middle" fill="#000" >0</text>
<line x1="319.07" y1="337.2" x2="319.07" y2="335.7" stroke="#000" stroke-width="0.8" />
<line x1="336.45" y1="337.2" x2="336.45" y2="334.2" stroke="#000" stroke-width="0.8" />
<text x="335.55" y="347.9" font-size="9.4" text-anchor="middle" fill="#000" >-10</text>
<line x1="353.82" y1="337.2" x2="353.82" y2="335.7" stroke="#000" stroke-width="0.8" />
<line x1="371.2" y1="337.2" x2="371.2" y2="334.2" stroke="#000" stroke-width="0.8" />
<text x="370.3" y="347.9" font-size="9.4" text-anchor="middle" fill="#000" >-20</text>
<line x1="388.57" y1="337.2" x2="388.57" y2="335.7" stroke="#000" stroke-width="0.8" />
<line x1="405.95" y1="337.2" x2="405.95" y2="334.2" stroke="#000" stroke-width="0.8" />
<text x="405.05" y="347.9" font-size="9.4" text-anchor="middle" fill="#000" >-30</text>
<line x1="423.32" y1="337.2" x2="423.32" y2="335.7" stroke="#000" stroke-width="0.8" />
<line x1="440.7" y1="337.2" x2="440.7" y2="334.2" stroke="#000" stroke-width="0.8" />
<text x="439.8" y="347.9" font-size="9.4" text-anchor="middle" fill="#000" >-40</text>
<line x1="458.07" y1="337.2" x2="458.07" y2="335.7" stroke="#000" stroke-width="0.8" />
<path d="M458.6,263.6 L458.6,337.2 L284.5,337.2 L284.5,199.3 L458.6,199.3" fill="none" stroke="#000" stroke-width="1.3" stroke-linecap="square"/>
<text x="371.3" y="359.8" font-size="11.9" text-anchor="middle" fill="#000" >Thermopower (mV K<tspan font-size="7.6" dy="-3.8">-1</tspan><tspan dy="3.8">)</tspan></text>
<text transform="translate(260.2,261.75) scale(1,1.026) rotate(-90)" font-size="11.8" text-anchor="middle">P<tspan font-size="7.2" dy="2.16">max</tspan><tspan dy="-2.16">/(ΔT)</tspan><tspan font-size="7.2" dy="-3.6">2</tspan><tspan dy="3.6"> (mW m</tspan><tspan font-size="7.2" dy="-3.6">-2</tspan><tspan dy="3.6"> K</tspan><tspan font-size="7.2" dy="-3.6">-2</tspan><tspan dy="3.6">)</tspan></text>
<path d="M398.5,202.29999999999998 L401.1,206.89999999999998 L395.9,206.89999999999998 Z" fill="#e08848" stroke="#c06018" stroke-width="0.7"/><rect x="397.3" y="205.29999999999998" width="2.4" height="0.8" fill="#fde"/>
<path d="M398.5,209.7 L401.1,214.29999999999998 L395.9,214.29999999999998 Z" fill="#d81818" stroke="#d01010" stroke-width="0.7"/><rect x="397.1" y="212.5" width="1.2" height="1.4" fill="#fdd"/>
<circle cx="398.5" cy="220.4" r="2.3" fill="#f8d0f8"/><path d="M396.2,220.4 A2.3,2.3 0 0 1 400.8,220.4 Z" fill="#e060e8"/>
<circle cx="398.5" cy="229.7" r="2.3" fill="#c8d0ff"/><path d="M398.5,227.39999999999998 A2.3,2.3 0 0 0 398.5,232.0 Z" fill="#4060e8"/>
<rect x="396.3" y="237.20000000000002" width="4.4" height="4.4" fill="#c0e8c0" stroke="#20a020" stroke-width="0.6"/><rect x="396.3" y="237.20000000000002" width="2.2" height="4.4" fill="#20a020"/>
<rect x="396.3" y="246.4" width="4.4" height="4.4" fill="#f0e0e0" stroke="#801818" stroke-width="0.6"/><rect x="396.3" y="246.4" width="4.4" height="2.2" fill="#801818"/>
<polygon points="398.5,254 399.39,256.38 401.92,256.49 399.94,258.07 400.62,260.51 398.5,259.11 396.38,260.51 397.06,258.07 395.08,256.49 397.61,256.38" fill="#ee1111" />
<clipPath id="clipEL"><rect x="400" y="195" width="75" height="70"/></clipPath><g clip-path="url(#clipEL)">
<text x="407" y="207" font-size="6.15" text-anchor="start" fill="#222" >Zhou (Fe<tspan font-size="4.2" dy="-2.52">2+/3+</tspan><tspan dy="2.5">)</tspan></text>
<text x="407" y="214.4" font-size="6.15" text-anchor="start" fill="#222" >Liu (Fe<tspan font-size="4.2" dy="-2.52">2+/3+</tspan><tspan dy="2.5">)</tspan></text>
<text x="407" y="222.7" font-size="6.15" text-anchor="start" fill="#222" >Taheri ([Co(bpy)<tspan font-size="4.2" dy="1.47">3</tspan><tspan dy="-1.5">]</tspan><tspan font-size="4.2" dy="-2.52">2+/3+</tspan><tspan dy="2.5">)</tspan></text>
<text x="407" y="232" font-size="6.15" text-anchor="start" fill="#222" >Taheri ([Co(bpy)<tspan font-size="4.2" dy="1.47">3</tspan><tspan dy="-1.5">]</tspan><tspan font-size="4.2" dy="-2.52">2+/3+</tspan><tspan dy="2.5">)</tspan></text>
<text x="407" y="241.7" font-size="6.15" text-anchor="start" fill="#222" >Han (I<tspan font-size="4.2" dy="-2.5">-</tspan><tspan dy="2.5">/I</tspan><tspan font-size="4.2" dy="1.47">3</tspan><tspan font-size="4.2" dy="-3">-</tspan><tspan dy="1.5">)</tspan></text>
<text x="407" y="250.9" font-size="6.15" text-anchor="start" fill="#222" >Zhou (I<tspan font-size="4.2" dy="-2.5">-</tspan><tspan dy="2.5">/I</tspan><tspan font-size="4.2" dy="1.47">3</tspan><tspan font-size="4.2" dy="-3">-</tspan><tspan dy="1.5">)</tspan></text>
<text x="407" y="259.9" font-size="6.15" text-anchor="start" fill="#ee1111" >This work (Cu<tspan font-size="4.2" dy="-2.52">2+/+</tspan><tspan dy="2.5">)</tspan></text>
</g>
<rect x="516.9" y="329.71" width="4.9" height="8.29" fill="#f9a3a3" />
<text x="519.35" y="328.61" font-size="5.8" text-anchor="middle" fill="#222" >-3</text>
<text transform="translate(524.75,343) rotate(-45)" font-size="7.4" text-anchor="end" fill="#222">Chen</text>
<rect x="529.14" y="321.43" width="4.9" height="16.57" fill="#bcbcbc" />
<text x="531.59" y="320.33" font-size="5.8" text-anchor="middle" fill="#222" >-6</text>
<text transform="translate(536.99,343) rotate(-45)" font-size="7.4" text-anchor="end" fill="#222">Chi</text>
<rect x="541.38" y="320.6" width="4.9" height="17.4" fill="#b0b2f8" />
<text x="543.83" y="319.5" font-size="5.8" text-anchor="middle" fill="#222" >-6.3</text>
<text transform="translate(549.23,343) rotate(-45)" font-size="7.4" text-anchor="end" fill="#222">Shen</text>
<rect x="553.62" y="318.11" width="4.9" height="19.89" fill="#b0b2f8" />
<text x="556.07" y="317.01" font-size="5.8" text-anchor="middle" fill="#222" >-7.2</text>
<text transform="translate(561.47,343) rotate(-45)" font-size="7.4" text-anchor="end" fill="#222">Hu</text>
<rect x="565.86" y="309.83" width="4.9" height="28.17" fill="#bcbcbc" />
<text x="568.31" y="308.73" font-size="5.8" text-anchor="middle" fill="#222" >-10.2</text>
<text transform="translate(573.71,343) rotate(-45)" font-size="7.4" text-anchor="end" fill="#222">Chi</text>
<rect x="578.1" y="296.57" width="4.9" height="41.43" fill="#bcbcbc" />
<text x="580.55" y="295.47" font-size="5.8" text-anchor="middle" fill="#222" >-15</text>
<text transform="translate(585.95,343) rotate(-45)" font-size="7.4" text-anchor="end" fill="#222">Zhao</text>
<rect x="590.34" y="294.08" width="4.9" height="43.92" fill="#bcbcbc" />
<text x="592.79" y="292.98" font-size="5.8" text-anchor="middle" fill="#222" >-15.9</text>
<text transform="translate(598.19,343) rotate(-45)" font-size="7.4" text-anchor="end" fill="#222">Liu</text>
<rect x="602.58" y="281.1" width="4.9" height="56.9" fill="#bcbcbc" />
<text x="605.03" y="280" font-size="5.8" text-anchor="middle" fill="#222" >-20.6</text>
<text transform="translate(610.43,343) rotate(-45)" font-size="7.4" text-anchor="end" fill="#222">Chen</text>
<rect x="614.82" y="265.36" width="4.9" height="72.64" fill="#bcbcbc" />
<text x="617.27" y="264.26" font-size="5.8" text-anchor="middle" fill="#222" >-26.3</text>
<text transform="translate(622.67,343) rotate(-45)" font-size="7.4" text-anchor="end" fill="#222">Chen</text>
<rect x="627.06" y="264.53" width="4.9" height="73.47" fill="#f9a3a3" />
<text x="629.51" y="263.43" font-size="5.8" text-anchor="middle" fill="#222" >-26.6</text>
<text transform="translate(634.91,343) rotate(-45)" font-size="7.4" text-anchor="end" fill="#222">Chen</text>
<rect x="639.3" y="262.87" width="4.9" height="75.13" fill="#bcbcbc" />
<text x="641.75" y="261.77" font-size="5.8" text-anchor="middle" fill="#222" >-27.2</text>
<text transform="translate(647.15,343) rotate(-45)" font-size="7.4" text-anchor="end" fill="#222">Wu</text>
<rect x="651.54" y="259.56" width="4.9" height="78.44" fill="#b0b2f8" />
<text x="653.99" y="258.46" font-size="5.8" text-anchor="middle" fill="#222" >-28.4</text>
<text transform="translate(659.39,343) rotate(-45)" font-size="7.4" text-anchor="end" fill="#222">Chen</text>
<rect x="663.78" y="253.48" width="4.9" height="84.52" fill="#f9a3a3" />
<text x="666.23" y="250.9" font-size="6.2" text-anchor="middle" fill="#ff0000" >-30.6</text>
<polygon points="666.23,241.2 666.92,243.05 668.89,243.13 667.35,244.36 667.88,246.27 666.23,245.18 664.58,246.27 665.11,244.36 663.57,243.13 665.54,243.05" fill="#ee1111" />
<line x1="664.23" y1="252.3" x2="668.23" y2="252.3" stroke="#ee1111" stroke-width="0.7" />
<line x1="666.23" y1="252.3" x2="666.23" y2="254" stroke="#ee1111" stroke-width="0.7" />
<text transform="translate(671.63,343) rotate(-45)" font-size="7.4" text-anchor="end" fill="#ee1111">This work</text>
<rect x="676.02" y="227.52" width="4.9" height="110.48" fill="#bcbcbc" />
<text x="678.47" y="226.42" font-size="5.8" text-anchor="middle" fill="#222" >-40</text>
<text transform="translate(683.87,343) rotate(-45)" font-size="7.4" text-anchor="end" fill="#222">Cho</text>
<line x1="513.2" y1="338" x2="516.2" y2="338" stroke="#000" stroke-width="0.8" />
<text x="510.1" y="341" font-size="9.6" text-anchor="end" fill="#000" >0</text>
<line x1="513.2" y1="324.19" x2="514.7" y2="324.19" stroke="#000" stroke-width="0.8" />
<line x1="513.2" y1="310.38" x2="516.2" y2="310.38" stroke="#000" stroke-width="0.8" />
<text x="510.1" y="313.38" font-size="9.6" text-anchor="end" fill="#000" >-10</text>
<line x1="513.2" y1="296.57" x2="514.7" y2="296.57" stroke="#000" stroke-width="0.8" />
<line x1="513.2" y1="282.76" x2="516.2" y2="282.76" stroke="#000" stroke-width="0.8" />
<text x="510.1" y="285.76" font-size="9.6" text-anchor="end" fill="#000" >-20</text>
<line x1="513.2" y1="268.95" x2="514.7" y2="268.95" stroke="#000" stroke-width="0.8" />
<line x1="513.2" y1="255.14" x2="516.2" y2="255.14" stroke="#000" stroke-width="0.8" />
<text x="510.1" y="258.14" font-size="9.6" text-anchor="end" fill="#000" >-30</text>
<line x1="513.2" y1="241.33" x2="514.7" y2="241.33" stroke="#000" stroke-width="0.8" />
<line x1="513.2" y1="227.52" x2="516.2" y2="227.52" stroke="#000" stroke-width="0.8" />
<text x="510.1" y="230.52" font-size="9.6" text-anchor="end" fill="#000" >-40</text>
<line x1="513.2" y1="213.71" x2="514.7" y2="213.71" stroke="#000" stroke-width="0.8" />
<line x1="513.2" y1="199.9" x2="516.2" y2="199.9" stroke="#000" stroke-width="0.8" />
<text x="510.1" y="202.9" font-size="9.6" text-anchor="end" fill="#000" >-50</text>
<rect x="513.2" y="199.9" width="171.3" height="138.1" fill="none" stroke="#000" stroke-width="1.3"/>
<text transform="translate(491.9,268.9) rotate(-90)" font-size="11.8" text-anchor="middle">Thermopower (mV K<tspan font-size="7.5" dy="-3.75">-1</tspan><tspan dy="3.75">)</tspan></text>
<rect x="518.1" y="202.9" width="14.6" height="6.8" fill="#aaaaff" />
<rect x="518.1" y="211.1" width="14.6" height="6.5" fill="#bbbbbb" />
<rect x="518.1" y="219" width="14.6" height="6.8" fill="#ffa5a5" />
<text x="534.8" y="208.5" font-size="6.5" text-anchor="start" fill="#222" >Quaternary gels</text>
<text x="534.8" y="216.5" font-size="6.5" text-anchor="start" fill="#222" >Ternary gels</text>
<text x="534.8" y="224.5" font-size="6.5" text-anchor="start" fill="#222" >Binary gels</text>
</svg></body></html>
